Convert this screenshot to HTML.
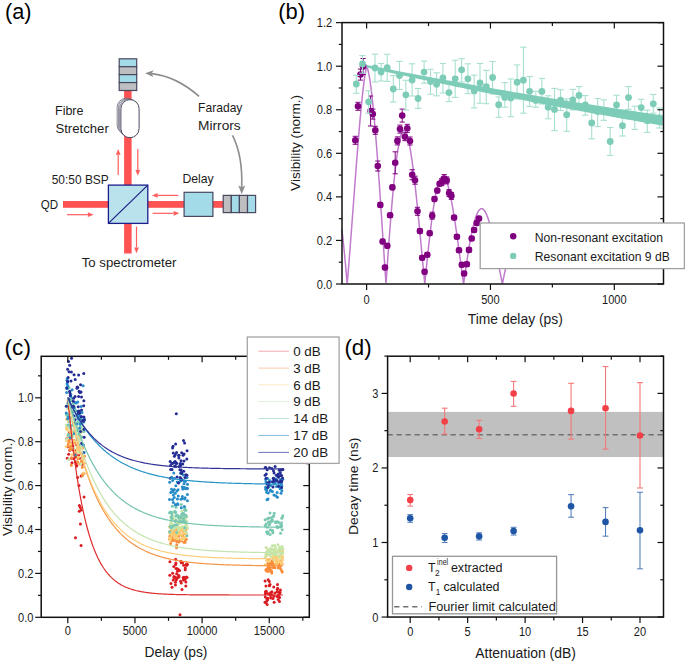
<!DOCTYPE html>
<html><head><meta charset="utf-8"><style>
html,body{margin:0;padding:0;background:#fff;}
body{width:685px;height:662px;overflow:hidden;}
svg{display:block;font-family:"Liberation Sans",sans-serif;}
</style></head><body>
<svg width="685" height="662" viewBox="0 0 685 662" style='font-family:"Liberation Sans",sans-serif'>
<rect x="0" y="0" width="685" height="662" fill="#fff"/>
<text x="5.00" y="18.70" font-size="22.4" text-anchor="start" fill="#000" textLength="26.6" lengthAdjust="spacingAndGlyphs" >(a)</text>
<rect x="124.10" y="90.00" width="7.50" height="163.50" fill="rgb(255,82,82)" stroke="none" stroke-width="1" />
<rect x="63.00" y="201.00" width="160.50" height="6.80" fill="rgb(255,82,82)" stroke="none" stroke-width="1" />
<rect x="119.20" y="58.80" width="17.50" height="7.93" fill="rgb(163,219,232)" stroke="rgb(72,72,96)" stroke-width="1.2" />
<rect x="119.20" y="66.72" width="17.50" height="7.93" fill="rgb(190,190,192)" stroke="rgb(72,72,96)" stroke-width="1.2" />
<rect x="119.20" y="74.65" width="17.50" height="7.93" fill="rgb(163,219,232)" stroke="rgb(72,72,96)" stroke-width="1.2" />
<rect x="119.20" y="82.58" width="17.50" height="7.93" fill="rgb(190,190,192)" stroke="rgb(72,72,96)" stroke-width="1.2" />
<rect x="117.15" y="98.25" width="18.20" height="35.85" fill="white" stroke="rgb(96,96,118)" stroke-width="0.75" rx="9.1" ry="9.1"/>
<rect x="118.40" y="98.70" width="18.20" height="36.60" fill="white" stroke="rgb(96,96,118)" stroke-width="0.75" rx="9.1" ry="9.1"/>
<rect x="119.65" y="99.15" width="18.20" height="37.35" fill="white" stroke="rgb(96,96,118)" stroke-width="0.75" rx="9.1" ry="9.1"/>
<rect x="120.90" y="99.60" width="18.20" height="38.10" fill="white" stroke="rgb(72,72,96)" stroke-width="1.0" rx="9.1" ry="9.1"/>
<rect x="108.40" y="185.10" width="39.40" height="38.30" fill="rgb(186,226,236)" stroke="rgb(28,30,140)" stroke-width="1.3" />
<line x1="108.40" y1="223.40" x2="147.80" y2="185.10" stroke="rgb(28,30,140)" stroke-width="1.2" />
<rect x="184.10" y="192.30" width="28.80" height="24.10" fill="rgb(163,219,232)" stroke="rgb(72,72,96)" stroke-width="1.2" />
<rect x="223.20" y="195.40" width="8.10" height="17.20" fill="rgb(190,190,192)" stroke="rgb(72,72,96)" stroke-width="1.2" />
<rect x="231.30" y="195.40" width="8.10" height="17.20" fill="rgb(163,219,232)" stroke="rgb(72,72,96)" stroke-width="1.2" />
<rect x="239.40" y="195.40" width="8.10" height="17.20" fill="rgb(190,190,192)" stroke="rgb(72,72,96)" stroke-width="1.2" />
<rect x="247.50" y="195.40" width="8.10" height="17.20" fill="rgb(163,219,232)" stroke="rgb(72,72,96)" stroke-width="1.2" />
<line x1="118.20" y1="175.00" x2="118.20" y2="154.80" stroke="rgb(255,95,95)" stroke-width="1.2" />
<polygon points="118.20,149.00 120.60,154.80 115.80,154.80" fill="rgb(255,95,95)"/>
<line x1="137.80" y1="149.00" x2="137.80" y2="169.90" stroke="rgb(255,95,95)" stroke-width="1.2" />
<polygon points="137.80,175.70 135.40,169.90 140.20,169.90" fill="rgb(255,95,95)"/>
<line x1="67.00" y1="214.70" x2="87.80" y2="214.70" stroke="rgb(255,95,95)" stroke-width="1.2" />
<polygon points="93.60,214.70 87.80,217.10 87.80,212.30" fill="rgb(255,95,95)"/>
<line x1="178.20" y1="195.40" x2="157.70" y2="195.40" stroke="rgb(255,95,95)" stroke-width="1.2" />
<polygon points="151.90,195.40 157.70,193.00 157.70,197.80" fill="rgb(255,95,95)"/>
<line x1="152.60" y1="213.30" x2="173.60" y2="213.30" stroke="rgb(255,95,95)" stroke-width="1.2" />
<polygon points="179.40,213.30 173.60,215.70 173.60,210.90" fill="rgb(255,95,95)"/>
<line x1="136.50" y1="226.60" x2="136.50" y2="247.40" stroke="rgb(255,95,95)" stroke-width="1.2" />
<polygon points="136.50,253.20 134.10,247.40 138.90,247.40" fill="rgb(255,95,95)"/>
<path d="M199.1,96.3 C185,84 170,75.5 151.5,73.6" stroke="rgb(140,140,140)" stroke-width="1.6" fill="none" />
<polygon points="145.1,73.3 153.6,70.2 151.6,73.6 153.3,77.0" fill="rgb(140,140,140)"/>
<path d="M232.5,135.3 C240,150 242.5,165 241.7,187" stroke="rgb(140,140,140)" stroke-width="1.6" fill="none" />
<polygon points="241.7,194.2 238.3,185.4 241.7,187.3 245.2,185.4" fill="rgb(140,140,140)"/>
<text x="55.00" y="114.70" font-size="12.6" text-anchor="start" fill="#1c1c1c" textLength="28.5" lengthAdjust="spacingAndGlyphs" >Fibre</text>
<text x="55.40" y="132.60" font-size="12.6" text-anchor="start" fill="#1c1c1c" textLength="53.4" lengthAdjust="spacingAndGlyphs" >Stretcher</text>
<text x="198.10" y="112.00" font-size="12.6" text-anchor="start" fill="#1c1c1c" textLength="44.3" lengthAdjust="spacingAndGlyphs" >Faraday</text>
<text x="198.10" y="129.50" font-size="12.6" text-anchor="start" fill="#1c1c1c" textLength="42.6" lengthAdjust="spacingAndGlyphs" >Mirrors</text>
<text x="51.70" y="184.10" font-size="12.6" text-anchor="start" fill="#1c1c1c" textLength="57.1" lengthAdjust="spacingAndGlyphs" >50:50 BSP</text>
<text x="40.80" y="209.00" font-size="12.6" text-anchor="start" fill="#1c1c1c" textLength="17.4" lengthAdjust="spacingAndGlyphs" >QD</text>
<text x="182.40" y="182.80" font-size="12.6" text-anchor="start" fill="#1c1c1c" textLength="31.3" lengthAdjust="spacingAndGlyphs" >Delay</text>
<text x="81.70" y="267.20" font-size="12.6" text-anchor="start" fill="#1c1c1c" textLength="94.8" lengthAdjust="spacingAndGlyphs" >To spectrometer</text>
<text x="278.30" y="18.70" font-size="22.4" text-anchor="start" fill="#000" textLength="26.8" lengthAdjust="spacingAndGlyphs" >(b)</text>
<polyline points="341.83,228.86 342.08,230.98 342.33,233.14 342.57,235.35 342.82,237.60 343.07,239.90 343.32,242.23 343.56,244.61 343.81,247.03 344.06,249.50 344.31,252.00 344.55,254.54 344.80,257.12 345.05,259.74 345.30,262.39 345.55,265.08 345.79,267.81 346.04,270.57 346.29,273.37 346.54,276.20 346.78,279.06 347.03,281.96 347.28,283.12 347.53,280.17 347.77,277.18 348.02,274.17 348.27,271.14 348.52,268.07 348.77,264.99 349.01,261.88 349.26,258.74 349.51,255.59 349.76,252.41 350.00,249.22 350.25,246.01 350.50,242.78 350.75,239.54 350.99,236.28 351.24,233.01 351.49,229.73 351.74,226.44 351.99,223.14 352.23,219.83 352.48,216.52 352.73,213.20 352.98,209.87 353.22,206.55 353.47,203.22 353.72,199.90 353.97,196.57 354.22,193.25 354.46,189.94 354.71,186.63 354.96,183.33 355.21,180.04 355.45,176.76 355.70,173.49 355.95,170.24 356.20,167.00 356.44,163.78 356.69,160.58 356.94,157.40 357.19,154.24 357.44,151.11 357.68,148.00 357.93,144.91 358.18,141.86 358.43,138.83 358.67,135.84 358.92,132.87 359.17,129.95 359.42,127.06 359.66,124.21 359.91,121.39 360.16,118.62 360.41,115.89 360.66,113.21 360.90,110.57 361.15,107.98 361.40,105.44 361.65,102.95 361.89,100.51 362.14,98.12 362.39,95.80 362.64,93.53 362.88,91.31 363.13,89.16 363.38,87.07 363.63,85.04 363.88,83.08 364.12,81.18 364.37,79.36 364.62,77.60 364.87,75.91 365.11,74.29 365.36,72.75 365.61,71.29 365.86,69.90 366.10,68.58 366.35,67.35 366.60,66.20 366.85,66.74 367.10,67.36 367.34,68.07 367.59,68.87 367.84,69.74 368.09,70.70 368.33,71.75 368.58,72.87 368.83,74.08 369.08,75.36 369.32,76.73 369.57,78.17 369.82,79.69 370.07,81.29 370.32,82.96 370.56,84.70 370.81,86.52 371.06,88.41 371.31,90.38 371.55,92.41 371.80,94.51 372.05,96.67 372.30,98.91 372.54,101.21 372.79,103.57 373.04,106.00 373.29,108.48 373.54,111.03 373.78,113.64 374.03,116.30 374.28,119.02 374.53,121.80 374.77,124.62 375.02,127.50 375.27,130.43 375.52,133.41 375.76,136.44 376.01,139.51 376.26,142.63 376.51,145.79 376.76,149.00 377.00,152.24 377.25,155.52 377.50,158.84 377.75,162.20 377.99,165.59 378.24,169.01 378.49,172.47 378.74,175.95 378.99,179.46 379.23,183.00 379.48,186.57 379.73,190.15 379.98,193.76 380.22,197.39 380.47,201.04 380.72,204.71 380.97,208.39 381.21,212.08 381.46,215.79 381.71,219.51 381.96,223.24 382.21,226.97 382.45,230.71 382.70,234.46 382.95,238.21 383.20,241.96 383.44,245.71 383.69,249.46 383.94,253.21 384.19,256.95 384.43,260.69 384.68,264.42 384.93,268.14 385.18,271.85 385.43,275.55 385.67,279.23 385.92,282.90 386.17,281.44 386.42,277.81 386.66,274.19 386.91,270.59 387.16,267.02 387.41,263.47 387.65,259.94 387.90,256.44 388.15,252.96 388.40,249.52 388.65,246.10 388.89,242.72 389.14,239.36 389.39,236.04 389.64,232.76 389.88,229.51 390.13,226.30 390.38,223.12 390.63,219.99 390.87,216.89 391.12,213.84 391.37,210.82 391.62,207.86 391.87,204.93 392.11,202.05 392.36,199.22 392.61,196.44 392.86,193.70 393.10,191.01 393.35,188.38 393.60,185.79 393.85,183.25 394.09,180.77 394.34,178.34 394.59,175.97 394.84,173.65 395.09,171.38 395.33,169.17 395.58,167.02 395.83,164.93 396.08,162.89 396.32,160.91 396.57,158.99 396.82,157.13 397.07,155.33 397.31,153.59 397.56,151.91 397.81,150.30 398.06,148.74 398.31,147.25 398.55,145.82 398.80,144.45 399.05,143.14 399.30,141.90 399.54,140.72 399.79,139.61 400.04,138.56 400.29,137.57 400.53,136.65 400.78,135.79 401.03,134.99 401.28,134.26 401.53,133.60 401.77,132.99 402.02,132.45 402.27,131.98 402.52,131.57 402.76,131.22 403.01,130.94 403.26,130.72 403.51,130.57 403.75,130.47 404.00,130.44 404.25,130.48 404.50,130.57 404.75,130.73 404.99,130.95 405.24,131.23 405.49,131.57 405.74,131.97 405.98,132.43 406.23,132.95 406.48,133.53 406.73,134.17 406.98,134.86 407.22,135.62 407.47,136.43 407.72,137.30 407.97,138.22 408.21,139.20 408.46,140.23 408.71,141.32 408.96,142.45 409.20,143.65 409.45,144.89 409.70,146.18 409.95,147.53 410.20,148.92 410.44,150.36 410.69,151.86 410.94,153.39 411.19,154.98 411.43,156.60 411.68,158.28 411.93,159.99 412.18,161.75 412.42,163.55 412.67,165.40 412.92,167.28 413.17,169.20 413.42,171.16 413.66,173.15 413.91,175.18 414.16,177.25 414.41,179.35 414.65,181.49 414.90,183.65 415.15,185.85 415.40,188.08 415.64,190.33 415.89,192.61 416.14,194.93 416.39,197.26 416.64,199.62 416.88,202.01 417.13,204.41 417.38,206.84 417.63,209.29 417.87,211.76 418.12,214.24 418.37,216.75 418.62,219.27 418.86,221.80 419.11,224.35 419.36,226.91 419.61,229.48 419.86,232.07 420.10,234.66 420.35,237.26 420.60,239.87 420.85,242.48 421.09,245.10 421.34,247.72 421.59,250.35 421.84,252.97 422.08,255.60 422.33,258.23 422.58,260.86 422.83,263.48 423.08,266.10 423.32,268.72 423.57,271.33 423.82,273.93 424.07,276.53 424.31,279.11 424.56,281.69 424.81,283.74 425.06,281.19 425.30,278.65 425.55,276.12 425.80,273.61 426.05,271.11 426.30,268.63 426.54,266.16 426.79,263.72 427.04,261.29 427.29,258.88 427.53,256.50 427.78,254.14 428.03,251.80 428.28,249.48 428.53,247.19 428.77,244.92 429.02,242.68 429.27,240.47 429.52,238.28 429.76,236.13 430.01,234.00 430.26,231.90 430.51,229.84 430.75,227.80 431.00,225.80 431.25,223.83 431.50,221.89 431.75,219.98 431.99,218.12 432.24,216.28 432.49,214.49 432.74,212.72 432.98,211.00 433.23,209.31 433.48,207.67 433.73,206.06 433.97,204.48 434.22,202.95 434.47,201.46 434.72,200.01 434.97,198.60 435.21,197.23 435.46,195.90 435.71,194.62 435.96,193.37 436.20,192.17 436.45,191.01 436.70,189.90 436.95,188.82 437.19,187.79 437.44,186.81 437.69,185.87 437.94,184.97 438.19,184.12 438.43,183.31 438.68,182.55 438.93,181.83 439.18,181.16 439.42,180.53 439.67,179.94 439.92,179.40 440.17,178.91 440.41,178.46 440.66,178.06 440.91,177.70 441.16,177.38 441.41,177.11 441.65,176.89 441.90,176.71 442.15,176.57 442.40,176.48 442.64,176.44 442.89,176.43 443.14,176.47 443.39,176.56 443.63,176.68 443.88,176.85 444.13,177.07 444.38,177.32 444.63,177.62 444.87,177.96 445.12,178.34 445.37,178.76 445.62,179.23 445.86,179.73 446.11,180.28 446.36,180.86 446.61,181.48 446.85,182.14 447.10,182.84 447.35,183.58 447.60,184.36 447.85,185.17 448.09,186.02 448.34,186.91 448.59,187.83 448.84,188.78 449.08,189.77 449.33,190.80 449.58,191.85 449.83,192.94 450.07,194.07 450.32,195.22 450.57,196.40 450.82,197.62 451.07,198.86 451.31,200.14 451.56,201.44 451.81,202.77 452.06,204.12 452.30,205.51 452.55,206.91 452.80,208.35 453.05,209.80 453.30,211.29 453.54,212.79 453.79,214.32 454.04,215.86 454.29,217.43 454.53,219.02 454.78,220.63 455.03,222.25 455.28,223.90 455.52,225.56 455.77,227.23 456.02,228.93 456.27,230.63 456.52,232.35 456.76,234.09 457.01,235.83 457.26,237.59 457.51,239.36 457.75,241.14 458.00,242.93 458.25,244.73 458.50,246.53 458.74,248.34 458.99,250.16 459.24,251.99 459.49,253.81 459.74,255.65 459.98,257.48 460.23,259.32 460.48,261.16 460.73,263.00 460.97,264.84 461.22,266.68 461.47,268.52 461.72,270.36 461.96,272.19 462.21,274.03 462.46,275.85 462.71,277.67 462.96,279.49 463.20,281.30 463.45,283.10 463.70,283.10 463.95,281.32 464.19,279.54 464.44,277.77 464.69,276.02 464.94,274.27 465.18,272.54 465.43,270.82 465.68,269.11 465.93,267.42 466.18,265.74 466.42,264.07 466.67,262.42 466.92,260.79 467.17,259.17 467.41,257.58 467.66,256.00 467.91,254.43 468.16,252.89 468.40,251.37 468.65,249.86 468.90,248.38 469.15,246.92 469.40,245.48 469.64,244.07 469.89,242.67 470.14,241.30 470.39,239.95 470.63,238.63 470.88,237.33 471.13,236.06 471.38,234.81 471.62,233.58 471.87,232.39 472.12,231.21 472.37,230.07 472.62,228.95 472.86,227.86 473.11,226.80 473.36,225.77 473.61,224.76 473.85,223.79 474.10,222.84 474.35,221.92 474.60,221.03 474.84,220.17 475.09,219.34 475.34,218.54 475.59,217.77 475.84,217.03 476.08,216.33 476.33,215.65 476.58,215.00 476.83,214.38 477.07,213.80 477.32,213.25 477.57,212.72 477.82,212.23 478.07,211.77 478.31,211.35 478.56,210.95 478.81,210.58 479.06,210.25 479.30,209.95 479.55,209.68 479.80,209.44 480.05,209.23 480.29,209.06 480.54,208.91 480.79,208.80 481.04,208.71 481.29,208.66 481.53,208.64 481.78,208.65 482.03,208.69 482.28,208.76 482.52,208.86 482.77,209.00 483.02,209.16 483.27,209.35 483.51,209.57 483.76,209.82 484.01,210.10 484.26,210.40 484.51,210.74 484.75,211.11 485.00,211.50 485.25,211.92 485.50,212.36 485.74,212.84 485.99,213.34 486.24,213.87 486.49,214.42 486.73,215.00 486.98,215.61 487.23,216.24 487.48,216.89 487.73,217.57 487.97,218.27 488.22,219.00 488.47,219.75 488.72,220.52 488.96,221.32 489.21,222.14 489.46,222.97 489.71,223.83 489.95,224.71 490.20,225.61 490.45,226.53 490.70,227.47 490.95,228.43 491.19,229.40 491.44,230.40 491.69,231.41 491.94,232.44 492.18,233.48 492.43,234.54 492.68,235.62 492.93,236.71 493.17,237.81 493.42,238.93 493.67,240.06 493.92,241.20 494.17,242.36 494.41,243.53 494.66,244.71 494.91,245.90 495.16,247.10 495.40,248.30 495.65,249.52 495.90,250.75 496.15,251.98 496.39,253.23 496.64,254.48 496.89,255.73 497.14,256.99 497.39,258.26 497.63,259.53 497.88,260.81 498.13,262.08 498.38,263.37 498.62,264.65 498.87,265.94 499.12,267.23 499.37,268.52 499.61,269.81 499.86,271.10 500.11,272.38 500.36,273.67 500.61,274.96 500.85,276.24 501.10,277.52 501.35,278.80 501.60,280.08 501.84,281.35 502.09,282.61 502.34,283.87 502.59,282.87 502.84,281.62 503.08,280.38 503.33,279.14 503.58,277.92 503.83,276.70 504.07,275.49 504.32,274.29 504.57,273.09 504.82,271.91 505.06,270.74 505.31,269.58 505.56,268.43 505.81,267.29 506.06,266.16 506.30,265.04 506.55,263.94 506.80,262.85 507.05,261.78 507.29,260.72 507.54,259.67 507.79,258.64 508.04,257.62 508.28,256.62 508.53,255.63 508.78,254.66 509.03,253.71 509.28,252.77 509.52,251.85 509.77,250.95 510.02,250.06 510.27,249.19 510.51,248.34 510.76,247.51 511.01,246.70 511.26,245.90 511.50,245.13 511.75,244.37 512.00,243.64 512.25,242.92 512.50,242.23 512.74,241.55 512.99,240.89 513.24,240.26 513.49,239.64 513.73,239.05 513.98,238.48 514.23,237.93 514.48,237.40 514.72,236.89 514.97,236.40 515.22,235.93" fill="none" stroke="rgb(192,122,204)" stroke-width="1.5"/>
<line x1="355.30" y1="136.30" x2="355.30" y2="144.30" stroke="rgb(128,0,128)" stroke-width="1" />
<line x1="352.70" y1="136.30" x2="357.90" y2="136.30" stroke="rgb(128,0,128)" stroke-width="1" />
<line x1="352.70" y1="144.30" x2="357.90" y2="144.30" stroke="rgb(128,0,128)" stroke-width="1" />
<line x1="358.00" y1="102.30" x2="358.00" y2="110.30" stroke="rgb(128,0,128)" stroke-width="1" />
<line x1="355.40" y1="102.30" x2="360.60" y2="102.30" stroke="rgb(128,0,128)" stroke-width="1" />
<line x1="355.40" y1="110.30" x2="360.60" y2="110.30" stroke="rgb(128,0,128)" stroke-width="1" />
<line x1="360.50" y1="69.10" x2="360.50" y2="80.10" stroke="rgb(128,0,128)" stroke-width="1" />
<line x1="357.90" y1="69.10" x2="363.10" y2="69.10" stroke="rgb(128,0,128)" stroke-width="1" />
<line x1="357.90" y1="80.10" x2="363.10" y2="80.10" stroke="rgb(128,0,128)" stroke-width="1" />
<line x1="363.10" y1="58.50" x2="363.10" y2="74.50" stroke="rgb(128,0,128)" stroke-width="1" />
<line x1="360.50" y1="58.50" x2="365.70" y2="58.50" stroke="rgb(128,0,128)" stroke-width="1" />
<line x1="360.50" y1="74.50" x2="365.70" y2="74.50" stroke="rgb(128,0,128)" stroke-width="1" />
<line x1="370.60" y1="96.00" x2="370.60" y2="126.00" stroke="rgb(128,0,128)" stroke-width="1" />
<line x1="368.00" y1="96.00" x2="373.20" y2="96.00" stroke="rgb(128,0,128)" stroke-width="1" />
<line x1="368.00" y1="126.00" x2="373.20" y2="126.00" stroke="rgb(128,0,128)" stroke-width="1" />
<line x1="372.80" y1="109.10" x2="372.80" y2="119.10" stroke="rgb(128,0,128)" stroke-width="1" />
<line x1="370.20" y1="109.10" x2="375.40" y2="109.10" stroke="rgb(128,0,128)" stroke-width="1" />
<line x1="370.20" y1="119.10" x2="375.40" y2="119.10" stroke="rgb(128,0,128)" stroke-width="1" />
<line x1="375.30" y1="126.30" x2="375.30" y2="134.30" stroke="rgb(128,0,128)" stroke-width="1" />
<line x1="372.70" y1="126.30" x2="377.90" y2="126.30" stroke="rgb(128,0,128)" stroke-width="1" />
<line x1="372.70" y1="134.30" x2="377.90" y2="134.30" stroke="rgb(128,0,128)" stroke-width="1" />
<line x1="377.80" y1="161.00" x2="377.80" y2="171.00" stroke="rgb(128,0,128)" stroke-width="1" />
<line x1="375.20" y1="161.00" x2="380.40" y2="161.00" stroke="rgb(128,0,128)" stroke-width="1" />
<line x1="375.20" y1="171.00" x2="380.40" y2="171.00" stroke="rgb(128,0,128)" stroke-width="1" />
<line x1="380.30" y1="202.70" x2="380.30" y2="207.10" stroke="rgb(128,0,128)" stroke-width="1" />
<line x1="377.70" y1="202.70" x2="382.90" y2="202.70" stroke="rgb(128,0,128)" stroke-width="1" />
<line x1="377.70" y1="207.10" x2="382.90" y2="207.10" stroke="rgb(128,0,128)" stroke-width="1" />
<line x1="382.60" y1="239.30" x2="382.60" y2="243.70" stroke="rgb(128,0,128)" stroke-width="1" />
<line x1="380.00" y1="239.30" x2="385.20" y2="239.30" stroke="rgb(128,0,128)" stroke-width="1" />
<line x1="380.00" y1="243.70" x2="385.20" y2="243.70" stroke="rgb(128,0,128)" stroke-width="1" />
<line x1="385.00" y1="265.30" x2="385.00" y2="269.70" stroke="rgb(128,0,128)" stroke-width="1" />
<line x1="382.40" y1="265.30" x2="387.60" y2="265.30" stroke="rgb(128,0,128)" stroke-width="1" />
<line x1="382.40" y1="269.70" x2="387.60" y2="269.70" stroke="rgb(128,0,128)" stroke-width="1" />
<line x1="387.30" y1="243.60" x2="387.30" y2="248.00" stroke="rgb(128,0,128)" stroke-width="1" />
<line x1="384.70" y1="243.60" x2="389.90" y2="243.60" stroke="rgb(128,0,128)" stroke-width="1" />
<line x1="384.70" y1="248.00" x2="389.90" y2="248.00" stroke="rgb(128,0,128)" stroke-width="1" />
<line x1="390.10" y1="213.10" x2="390.10" y2="217.50" stroke="rgb(128,0,128)" stroke-width="1" />
<line x1="387.50" y1="213.10" x2="392.70" y2="213.10" stroke="rgb(128,0,128)" stroke-width="1" />
<line x1="387.50" y1="217.50" x2="392.70" y2="217.50" stroke="rgb(128,0,128)" stroke-width="1" />
<line x1="392.40" y1="185.20" x2="392.40" y2="189.60" stroke="rgb(128,0,128)" stroke-width="1" />
<line x1="389.80" y1="185.20" x2="395.00" y2="185.20" stroke="rgb(128,0,128)" stroke-width="1" />
<line x1="389.80" y1="189.60" x2="395.00" y2="189.60" stroke="rgb(128,0,128)" stroke-width="1" />
<line x1="395.20" y1="151.80" x2="395.20" y2="173.80" stroke="rgb(128,0,128)" stroke-width="1" />
<line x1="392.60" y1="151.80" x2="397.80" y2="151.80" stroke="rgb(128,0,128)" stroke-width="1" />
<line x1="392.60" y1="173.80" x2="397.80" y2="173.80" stroke="rgb(128,0,128)" stroke-width="1" />
<line x1="397.40" y1="136.90" x2="397.40" y2="144.90" stroke="rgb(128,0,128)" stroke-width="1" />
<line x1="394.80" y1="136.90" x2="400.00" y2="136.90" stroke="rgb(128,0,128)" stroke-width="1" />
<line x1="394.80" y1="144.90" x2="400.00" y2="144.90" stroke="rgb(128,0,128)" stroke-width="1" />
<line x1="400.00" y1="125.10" x2="400.00" y2="133.10" stroke="rgb(128,0,128)" stroke-width="1" />
<line x1="397.40" y1="125.10" x2="402.60" y2="125.10" stroke="rgb(128,0,128)" stroke-width="1" />
<line x1="397.40" y1="133.10" x2="402.60" y2="133.10" stroke="rgb(128,0,128)" stroke-width="1" />
<line x1="402.20" y1="109.10" x2="402.20" y2="122.10" stroke="rgb(128,0,128)" stroke-width="1" />
<line x1="399.60" y1="109.10" x2="404.80" y2="109.10" stroke="rgb(128,0,128)" stroke-width="1" />
<line x1="399.60" y1="122.10" x2="404.80" y2="122.10" stroke="rgb(128,0,128)" stroke-width="1" />
<line x1="404.90" y1="132.70" x2="404.90" y2="140.70" stroke="rgb(128,0,128)" stroke-width="1" />
<line x1="402.30" y1="132.70" x2="407.50" y2="132.70" stroke="rgb(128,0,128)" stroke-width="1" />
<line x1="402.30" y1="140.70" x2="407.50" y2="140.70" stroke="rgb(128,0,128)" stroke-width="1" />
<line x1="407.30" y1="124.30" x2="407.30" y2="132.30" stroke="rgb(128,0,128)" stroke-width="1" />
<line x1="404.70" y1="124.30" x2="409.90" y2="124.30" stroke="rgb(128,0,128)" stroke-width="1" />
<line x1="404.70" y1="132.30" x2="409.90" y2="132.30" stroke="rgb(128,0,128)" stroke-width="1" />
<line x1="410.00" y1="137.00" x2="410.00" y2="145.00" stroke="rgb(128,0,128)" stroke-width="1" />
<line x1="407.40" y1="137.00" x2="412.60" y2="137.00" stroke="rgb(128,0,128)" stroke-width="1" />
<line x1="407.40" y1="145.00" x2="412.60" y2="145.00" stroke="rgb(128,0,128)" stroke-width="1" />
<line x1="412.20" y1="169.70" x2="412.20" y2="179.70" stroke="rgb(128,0,128)" stroke-width="1" />
<line x1="409.60" y1="169.70" x2="414.80" y2="169.70" stroke="rgb(128,0,128)" stroke-width="1" />
<line x1="409.60" y1="179.70" x2="414.80" y2="179.70" stroke="rgb(128,0,128)" stroke-width="1" />
<line x1="415.00" y1="176.20" x2="415.00" y2="184.20" stroke="rgb(128,0,128)" stroke-width="1" />
<line x1="412.40" y1="176.20" x2="417.60" y2="176.20" stroke="rgb(128,0,128)" stroke-width="1" />
<line x1="412.40" y1="184.20" x2="417.60" y2="184.20" stroke="rgb(128,0,128)" stroke-width="1" />
<line x1="417.50" y1="207.30" x2="417.50" y2="215.30" stroke="rgb(128,0,128)" stroke-width="1" />
<line x1="414.90" y1="207.30" x2="420.10" y2="207.30" stroke="rgb(128,0,128)" stroke-width="1" />
<line x1="414.90" y1="215.30" x2="420.10" y2="215.30" stroke="rgb(128,0,128)" stroke-width="1" />
<line x1="419.90" y1="228.90" x2="419.90" y2="233.30" stroke="rgb(128,0,128)" stroke-width="1" />
<line x1="417.30" y1="228.90" x2="422.50" y2="228.90" stroke="rgb(128,0,128)" stroke-width="1" />
<line x1="417.30" y1="233.30" x2="422.50" y2="233.30" stroke="rgb(128,0,128)" stroke-width="1" />
<line x1="422.20" y1="255.50" x2="422.20" y2="259.90" stroke="rgb(128,0,128)" stroke-width="1" />
<line x1="419.60" y1="255.50" x2="424.80" y2="255.50" stroke="rgb(128,0,128)" stroke-width="1" />
<line x1="419.60" y1="259.90" x2="424.80" y2="259.90" stroke="rgb(128,0,128)" stroke-width="1" />
<line x1="424.60" y1="269.50" x2="424.60" y2="273.90" stroke="rgb(128,0,128)" stroke-width="1" />
<line x1="422.00" y1="269.50" x2="427.20" y2="269.50" stroke="rgb(128,0,128)" stroke-width="1" />
<line x1="422.00" y1="273.90" x2="427.20" y2="273.90" stroke="rgb(128,0,128)" stroke-width="1" />
<line x1="427.30" y1="252.50" x2="427.30" y2="256.90" stroke="rgb(128,0,128)" stroke-width="1" />
<line x1="424.70" y1="252.50" x2="429.90" y2="252.50" stroke="rgb(128,0,128)" stroke-width="1" />
<line x1="424.70" y1="256.90" x2="429.90" y2="256.90" stroke="rgb(128,0,128)" stroke-width="1" />
<line x1="429.70" y1="231.00" x2="429.70" y2="235.40" stroke="rgb(128,0,128)" stroke-width="1" />
<line x1="427.10" y1="231.00" x2="432.30" y2="231.00" stroke="rgb(128,0,128)" stroke-width="1" />
<line x1="427.10" y1="235.40" x2="432.30" y2="235.40" stroke="rgb(128,0,128)" stroke-width="1" />
<line x1="432.20" y1="212.20" x2="432.20" y2="219.20" stroke="rgb(128,0,128)" stroke-width="1" />
<line x1="429.60" y1="212.20" x2="434.80" y2="212.20" stroke="rgb(128,0,128)" stroke-width="1" />
<line x1="429.60" y1="219.20" x2="434.80" y2="219.20" stroke="rgb(128,0,128)" stroke-width="1" />
<line x1="434.50" y1="196.90" x2="434.50" y2="201.30" stroke="rgb(128,0,128)" stroke-width="1" />
<line x1="431.90" y1="196.90" x2="437.10" y2="196.90" stroke="rgb(128,0,128)" stroke-width="1" />
<line x1="431.90" y1="201.30" x2="437.10" y2="201.30" stroke="rgb(128,0,128)" stroke-width="1" />
<line x1="437.30" y1="188.40" x2="437.30" y2="192.80" stroke="rgb(128,0,128)" stroke-width="1" />
<line x1="434.70" y1="188.40" x2="439.90" y2="188.40" stroke="rgb(128,0,128)" stroke-width="1" />
<line x1="434.70" y1="192.80" x2="439.90" y2="192.80" stroke="rgb(128,0,128)" stroke-width="1" />
<line x1="439.60" y1="181.50" x2="439.60" y2="185.90" stroke="rgb(128,0,128)" stroke-width="1" />
<line x1="437.00" y1="181.50" x2="442.20" y2="181.50" stroke="rgb(128,0,128)" stroke-width="1" />
<line x1="437.00" y1="185.90" x2="442.20" y2="185.90" stroke="rgb(128,0,128)" stroke-width="1" />
<line x1="441.80" y1="178.70" x2="441.80" y2="185.70" stroke="rgb(128,0,128)" stroke-width="1" />
<line x1="439.20" y1="178.70" x2="444.40" y2="178.70" stroke="rgb(128,0,128)" stroke-width="1" />
<line x1="439.20" y1="185.70" x2="444.40" y2="185.70" stroke="rgb(128,0,128)" stroke-width="1" />
<line x1="444.20" y1="174.60" x2="444.20" y2="182.60" stroke="rgb(128,0,128)" stroke-width="1" />
<line x1="441.60" y1="174.60" x2="446.80" y2="174.60" stroke="rgb(128,0,128)" stroke-width="1" />
<line x1="441.60" y1="182.60" x2="446.80" y2="182.60" stroke="rgb(128,0,128)" stroke-width="1" />
<line x1="446.70" y1="176.90" x2="446.70" y2="183.90" stroke="rgb(128,0,128)" stroke-width="1" />
<line x1="444.10" y1="176.90" x2="449.30" y2="176.90" stroke="rgb(128,0,128)" stroke-width="1" />
<line x1="444.10" y1="183.90" x2="449.30" y2="183.90" stroke="rgb(128,0,128)" stroke-width="1" />
<line x1="449.10" y1="189.60" x2="449.10" y2="196.60" stroke="rgb(128,0,128)" stroke-width="1" />
<line x1="446.50" y1="189.60" x2="451.70" y2="189.60" stroke="rgb(128,0,128)" stroke-width="1" />
<line x1="446.50" y1="196.60" x2="451.70" y2="196.60" stroke="rgb(128,0,128)" stroke-width="1" />
<line x1="451.40" y1="192.40" x2="451.40" y2="199.40" stroke="rgb(128,0,128)" stroke-width="1" />
<line x1="448.80" y1="192.40" x2="454.00" y2="192.40" stroke="rgb(128,0,128)" stroke-width="1" />
<line x1="448.80" y1="199.40" x2="454.00" y2="199.40" stroke="rgb(128,0,128)" stroke-width="1" />
<line x1="454.10" y1="215.40" x2="454.10" y2="219.80" stroke="rgb(128,0,128)" stroke-width="1" />
<line x1="451.50" y1="215.40" x2="456.70" y2="215.40" stroke="rgb(128,0,128)" stroke-width="1" />
<line x1="451.50" y1="219.80" x2="456.70" y2="219.80" stroke="rgb(128,0,128)" stroke-width="1" />
<line x1="456.90" y1="234.50" x2="456.90" y2="238.90" stroke="rgb(128,0,128)" stroke-width="1" />
<line x1="454.30" y1="234.50" x2="459.50" y2="234.50" stroke="rgb(128,0,128)" stroke-width="1" />
<line x1="454.30" y1="238.90" x2="459.50" y2="238.90" stroke="rgb(128,0,128)" stroke-width="1" />
<line x1="459.00" y1="248.10" x2="459.00" y2="252.50" stroke="rgb(128,0,128)" stroke-width="1" />
<line x1="456.40" y1="248.10" x2="461.60" y2="248.10" stroke="rgb(128,0,128)" stroke-width="1" />
<line x1="456.40" y1="252.50" x2="461.60" y2="252.50" stroke="rgb(128,0,128)" stroke-width="1" />
<line x1="461.80" y1="262.60" x2="461.80" y2="267.00" stroke="rgb(128,0,128)" stroke-width="1" />
<line x1="459.20" y1="262.60" x2="464.40" y2="262.60" stroke="rgb(128,0,128)" stroke-width="1" />
<line x1="459.20" y1="267.00" x2="464.40" y2="267.00" stroke="rgb(128,0,128)" stroke-width="1" />
<line x1="464.10" y1="271.30" x2="464.10" y2="275.70" stroke="rgb(128,0,128)" stroke-width="1" />
<line x1="461.50" y1="271.30" x2="466.70" y2="271.30" stroke="rgb(128,0,128)" stroke-width="1" />
<line x1="461.50" y1="275.70" x2="466.70" y2="275.70" stroke="rgb(128,0,128)" stroke-width="1" />
<line x1="466.80" y1="262.10" x2="466.80" y2="266.50" stroke="rgb(128,0,128)" stroke-width="1" />
<line x1="464.20" y1="262.10" x2="469.40" y2="262.10" stroke="rgb(128,0,128)" stroke-width="1" />
<line x1="464.20" y1="266.50" x2="469.40" y2="266.50" stroke="rgb(128,0,128)" stroke-width="1" />
<line x1="469.00" y1="247.70" x2="469.00" y2="252.10" stroke="rgb(128,0,128)" stroke-width="1" />
<line x1="466.40" y1="247.70" x2="471.60" y2="247.70" stroke="rgb(128,0,128)" stroke-width="1" />
<line x1="466.40" y1="252.10" x2="471.60" y2="252.10" stroke="rgb(128,0,128)" stroke-width="1" />
<line x1="471.70" y1="236.30" x2="471.70" y2="240.70" stroke="rgb(128,0,128)" stroke-width="1" />
<line x1="469.10" y1="236.30" x2="474.30" y2="236.30" stroke="rgb(128,0,128)" stroke-width="1" />
<line x1="469.10" y1="240.70" x2="474.30" y2="240.70" stroke="rgb(128,0,128)" stroke-width="1" />
<line x1="474.10" y1="227.80" x2="474.10" y2="232.20" stroke="rgb(128,0,128)" stroke-width="1" />
<line x1="471.50" y1="227.80" x2="476.70" y2="227.80" stroke="rgb(128,0,128)" stroke-width="1" />
<line x1="471.50" y1="232.20" x2="476.70" y2="232.20" stroke="rgb(128,0,128)" stroke-width="1" />
<line x1="476.80" y1="220.90" x2="476.80" y2="225.30" stroke="rgb(128,0,128)" stroke-width="1" />
<line x1="474.20" y1="220.90" x2="479.40" y2="220.90" stroke="rgb(128,0,128)" stroke-width="1" />
<line x1="474.20" y1="225.30" x2="479.40" y2="225.30" stroke="rgb(128,0,128)" stroke-width="1" />
<line x1="479.00" y1="216.30" x2="479.00" y2="220.70" stroke="rgb(128,0,128)" stroke-width="1" />
<line x1="476.40" y1="216.30" x2="481.60" y2="216.30" stroke="rgb(128,0,128)" stroke-width="1" />
<line x1="476.40" y1="220.70" x2="481.60" y2="220.70" stroke="rgb(128,0,128)" stroke-width="1" />
<circle cx="355.30" cy="140.30" r="3.3" fill="rgb(128,0,128)"/>
<circle cx="358.00" cy="106.30" r="3.3" fill="rgb(128,0,128)"/>
<circle cx="360.50" cy="74.60" r="3.3" fill="rgb(128,0,128)"/>
<circle cx="363.10" cy="66.50" r="3.3" fill="rgb(128,0,128)"/>
<circle cx="370.60" cy="111.00" r="3.3" fill="rgb(128,0,128)"/>
<circle cx="372.80" cy="114.10" r="3.3" fill="rgb(128,0,128)"/>
<circle cx="375.30" cy="130.30" r="3.3" fill="rgb(128,0,128)"/>
<circle cx="377.80" cy="166.00" r="3.3" fill="rgb(128,0,128)"/>
<circle cx="380.30" cy="204.90" r="3.3" fill="rgb(128,0,128)"/>
<circle cx="382.60" cy="241.50" r="3.3" fill="rgb(128,0,128)"/>
<circle cx="385.00" cy="267.50" r="3.3" fill="rgb(128,0,128)"/>
<circle cx="387.30" cy="245.80" r="3.3" fill="rgb(128,0,128)"/>
<circle cx="390.10" cy="215.30" r="3.3" fill="rgb(128,0,128)"/>
<circle cx="392.40" cy="187.40" r="3.3" fill="rgb(128,0,128)"/>
<circle cx="395.20" cy="162.80" r="3.3" fill="rgb(128,0,128)"/>
<circle cx="397.40" cy="140.90" r="3.3" fill="rgb(128,0,128)"/>
<circle cx="400.00" cy="129.10" r="3.3" fill="rgb(128,0,128)"/>
<circle cx="402.20" cy="115.60" r="3.3" fill="rgb(128,0,128)"/>
<circle cx="404.90" cy="136.70" r="3.3" fill="rgb(128,0,128)"/>
<circle cx="407.30" cy="128.30" r="3.3" fill="rgb(128,0,128)"/>
<circle cx="410.00" cy="141.00" r="3.3" fill="rgb(128,0,128)"/>
<circle cx="412.20" cy="174.70" r="3.3" fill="rgb(128,0,128)"/>
<circle cx="415.00" cy="180.20" r="3.3" fill="rgb(128,0,128)"/>
<circle cx="417.50" cy="211.30" r="3.3" fill="rgb(128,0,128)"/>
<circle cx="419.90" cy="231.10" r="3.3" fill="rgb(128,0,128)"/>
<circle cx="422.20" cy="257.70" r="3.3" fill="rgb(128,0,128)"/>
<circle cx="424.60" cy="271.70" r="3.3" fill="rgb(128,0,128)"/>
<circle cx="427.30" cy="254.70" r="3.3" fill="rgb(128,0,128)"/>
<circle cx="429.70" cy="233.20" r="3.3" fill="rgb(128,0,128)"/>
<circle cx="432.20" cy="215.70" r="3.3" fill="rgb(128,0,128)"/>
<circle cx="434.50" cy="199.10" r="3.3" fill="rgb(128,0,128)"/>
<circle cx="437.30" cy="190.60" r="3.3" fill="rgb(128,0,128)"/>
<circle cx="439.60" cy="183.70" r="3.3" fill="rgb(128,0,128)"/>
<circle cx="441.80" cy="182.20" r="3.3" fill="rgb(128,0,128)"/>
<circle cx="444.20" cy="178.60" r="3.3" fill="rgb(128,0,128)"/>
<circle cx="446.70" cy="180.40" r="3.3" fill="rgb(128,0,128)"/>
<circle cx="449.10" cy="193.10" r="3.3" fill="rgb(128,0,128)"/>
<circle cx="451.40" cy="195.90" r="3.3" fill="rgb(128,0,128)"/>
<circle cx="454.10" cy="217.60" r="3.3" fill="rgb(128,0,128)"/>
<circle cx="456.90" cy="236.70" r="3.3" fill="rgb(128,0,128)"/>
<circle cx="459.00" cy="250.30" r="3.3" fill="rgb(128,0,128)"/>
<circle cx="461.80" cy="264.80" r="3.3" fill="rgb(128,0,128)"/>
<circle cx="464.10" cy="273.50" r="3.3" fill="rgb(128,0,128)"/>
<circle cx="466.80" cy="264.30" r="3.3" fill="rgb(128,0,128)"/>
<circle cx="469.00" cy="249.90" r="3.3" fill="rgb(128,0,128)"/>
<circle cx="471.70" cy="238.50" r="3.3" fill="rgb(128,0,128)"/>
<circle cx="474.10" cy="230.00" r="3.3" fill="rgb(128,0,128)"/>
<circle cx="476.80" cy="223.10" r="3.3" fill="rgb(128,0,128)"/>
<circle cx="479.00" cy="218.50" r="3.3" fill="rgb(128,0,128)"/>
<line x1="356.30" y1="75.40" x2="356.30" y2="93.30" stroke="rgb(168,224,208)" stroke-width="1.1" />
<line x1="353.10" y1="75.40" x2="359.50" y2="75.40" stroke="rgb(168,224,208)" stroke-width="1.1" />
<line x1="353.10" y1="93.30" x2="359.50" y2="93.30" stroke="rgb(168,224,208)" stroke-width="1.1" />
<line x1="362.50" y1="55.60" x2="362.50" y2="73.20" stroke="rgb(168,224,208)" stroke-width="1.1" />
<line x1="359.30" y1="55.60" x2="365.70" y2="55.60" stroke="rgb(168,224,208)" stroke-width="1.1" />
<line x1="359.30" y1="73.20" x2="365.70" y2="73.20" stroke="rgb(168,224,208)" stroke-width="1.1" />
<line x1="368.60" y1="90.70" x2="368.60" y2="113.30" stroke="rgb(168,224,208)" stroke-width="1.1" />
<line x1="365.40" y1="90.70" x2="371.80" y2="90.70" stroke="rgb(168,224,208)" stroke-width="1.1" />
<line x1="365.40" y1="113.30" x2="371.80" y2="113.30" stroke="rgb(168,224,208)" stroke-width="1.1" />
<line x1="375.00" y1="54.20" x2="375.00" y2="82.00" stroke="rgb(168,224,208)" stroke-width="1.1" />
<line x1="371.80" y1="54.20" x2="378.20" y2="54.20" stroke="rgb(168,224,208)" stroke-width="1.1" />
<line x1="371.80" y1="82.00" x2="378.20" y2="82.00" stroke="rgb(168,224,208)" stroke-width="1.1" />
<line x1="381.10" y1="63.50" x2="381.10" y2="81.00" stroke="rgb(168,224,208)" stroke-width="1.1" />
<line x1="377.90" y1="63.50" x2="384.30" y2="63.50" stroke="rgb(168,224,208)" stroke-width="1.1" />
<line x1="377.90" y1="81.00" x2="384.30" y2="81.00" stroke="rgb(168,224,208)" stroke-width="1.1" />
<line x1="387.20" y1="54.30" x2="387.20" y2="81.40" stroke="rgb(168,224,208)" stroke-width="1.1" />
<line x1="384.00" y1="54.30" x2="390.40" y2="54.30" stroke="rgb(168,224,208)" stroke-width="1.1" />
<line x1="384.00" y1="81.40" x2="390.40" y2="81.40" stroke="rgb(168,224,208)" stroke-width="1.1" />
<line x1="393.30" y1="75.60" x2="393.30" y2="102.00" stroke="rgb(168,224,208)" stroke-width="1.1" />
<line x1="390.10" y1="75.60" x2="396.50" y2="75.60" stroke="rgb(168,224,208)" stroke-width="1.1" />
<line x1="390.10" y1="102.00" x2="396.50" y2="102.00" stroke="rgb(168,224,208)" stroke-width="1.1" />
<line x1="399.50" y1="61.40" x2="399.50" y2="89.50" stroke="rgb(168,224,208)" stroke-width="1.1" />
<line x1="396.30" y1="61.40" x2="402.70" y2="61.40" stroke="rgb(168,224,208)" stroke-width="1.1" />
<line x1="396.30" y1="89.50" x2="402.70" y2="89.50" stroke="rgb(168,224,208)" stroke-width="1.1" />
<line x1="405.80" y1="80.30" x2="405.80" y2="110.00" stroke="rgb(168,224,208)" stroke-width="1.1" />
<line x1="402.60" y1="80.30" x2="409.00" y2="80.30" stroke="rgb(168,224,208)" stroke-width="1.1" />
<line x1="402.60" y1="110.00" x2="409.00" y2="110.00" stroke="rgb(168,224,208)" stroke-width="1.1" />
<line x1="412.10" y1="63.80" x2="412.10" y2="96.00" stroke="rgb(168,224,208)" stroke-width="1.1" />
<line x1="408.90" y1="63.80" x2="415.30" y2="63.80" stroke="rgb(168,224,208)" stroke-width="1.1" />
<line x1="408.90" y1="96.00" x2="415.30" y2="96.00" stroke="rgb(168,224,208)" stroke-width="1.1" />
<line x1="418.10" y1="88.50" x2="418.10" y2="108.40" stroke="rgb(168,224,208)" stroke-width="1.1" />
<line x1="414.90" y1="88.50" x2="421.30" y2="88.50" stroke="rgb(168,224,208)" stroke-width="1.1" />
<line x1="414.90" y1="108.40" x2="421.30" y2="108.40" stroke="rgb(168,224,208)" stroke-width="1.1" />
<line x1="424.10" y1="61.10" x2="424.10" y2="83.20" stroke="rgb(168,224,208)" stroke-width="1.1" />
<line x1="420.90" y1="61.10" x2="427.30" y2="61.10" stroke="rgb(168,224,208)" stroke-width="1.1" />
<line x1="420.90" y1="83.20" x2="427.30" y2="83.20" stroke="rgb(168,224,208)" stroke-width="1.1" />
<line x1="430.50" y1="69.30" x2="430.50" y2="94.20" stroke="rgb(168,224,208)" stroke-width="1.1" />
<line x1="427.30" y1="69.30" x2="433.70" y2="69.30" stroke="rgb(168,224,208)" stroke-width="1.1" />
<line x1="427.30" y1="94.20" x2="433.70" y2="94.20" stroke="rgb(168,224,208)" stroke-width="1.1" />
<line x1="436.60" y1="72.80" x2="436.60" y2="95.80" stroke="rgb(168,224,208)" stroke-width="1.1" />
<line x1="433.40" y1="72.80" x2="439.80" y2="72.80" stroke="rgb(168,224,208)" stroke-width="1.1" />
<line x1="433.40" y1="95.80" x2="439.80" y2="95.80" stroke="rgb(168,224,208)" stroke-width="1.1" />
<line x1="442.90" y1="63.50" x2="442.90" y2="93.00" stroke="rgb(168,224,208)" stroke-width="1.1" />
<line x1="439.70" y1="63.50" x2="446.10" y2="63.50" stroke="rgb(168,224,208)" stroke-width="1.1" />
<line x1="439.70" y1="93.00" x2="446.10" y2="93.00" stroke="rgb(168,224,208)" stroke-width="1.1" />
<line x1="449.00" y1="83.50" x2="449.00" y2="101.60" stroke="rgb(168,224,208)" stroke-width="1.1" />
<line x1="445.80" y1="83.50" x2="452.20" y2="83.50" stroke="rgb(168,224,208)" stroke-width="1.1" />
<line x1="445.80" y1="101.60" x2="452.20" y2="101.60" stroke="rgb(168,224,208)" stroke-width="1.1" />
<line x1="455.20" y1="60.30" x2="455.20" y2="97.40" stroke="rgb(168,224,208)" stroke-width="1.1" />
<line x1="452.00" y1="60.30" x2="458.40" y2="60.30" stroke="rgb(168,224,208)" stroke-width="1.1" />
<line x1="452.00" y1="97.40" x2="458.40" y2="97.40" stroke="rgb(168,224,208)" stroke-width="1.1" />
<line x1="461.60" y1="58.70" x2="461.60" y2="82.00" stroke="rgb(168,224,208)" stroke-width="1.1" />
<line x1="458.40" y1="58.70" x2="464.80" y2="58.70" stroke="rgb(168,224,208)" stroke-width="1.1" />
<line x1="458.40" y1="82.00" x2="464.80" y2="82.00" stroke="rgb(168,224,208)" stroke-width="1.1" />
<line x1="467.90" y1="63.80" x2="467.90" y2="93.70" stroke="rgb(168,224,208)" stroke-width="1.1" />
<line x1="464.70" y1="63.80" x2="471.10" y2="63.80" stroke="rgb(168,224,208)" stroke-width="1.1" />
<line x1="464.70" y1="93.70" x2="471.10" y2="93.70" stroke="rgb(168,224,208)" stroke-width="1.1" />
<line x1="474.20" y1="75.10" x2="474.20" y2="107.90" stroke="rgb(168,224,208)" stroke-width="1.1" />
<line x1="471.00" y1="75.10" x2="477.40" y2="75.10" stroke="rgb(168,224,208)" stroke-width="1.1" />
<line x1="471.00" y1="107.90" x2="477.40" y2="107.90" stroke="rgb(168,224,208)" stroke-width="1.1" />
<line x1="480.00" y1="63.50" x2="480.00" y2="103.20" stroke="rgb(168,224,208)" stroke-width="1.1" />
<line x1="476.80" y1="63.50" x2="483.20" y2="63.50" stroke="rgb(168,224,208)" stroke-width="1.1" />
<line x1="476.80" y1="103.20" x2="483.20" y2="103.20" stroke="rgb(168,224,208)" stroke-width="1.1" />
<line x1="486.30" y1="70.40" x2="486.30" y2="103.70" stroke="rgb(168,224,208)" stroke-width="1.1" />
<line x1="483.10" y1="70.40" x2="489.50" y2="70.40" stroke="rgb(168,224,208)" stroke-width="1.1" />
<line x1="483.10" y1="103.70" x2="489.50" y2="103.70" stroke="rgb(168,224,208)" stroke-width="1.1" />
<line x1="492.60" y1="61.50" x2="492.60" y2="94.00" stroke="rgb(168,224,208)" stroke-width="1.1" />
<line x1="489.40" y1="61.50" x2="495.80" y2="61.50" stroke="rgb(168,224,208)" stroke-width="1.1" />
<line x1="489.40" y1="94.00" x2="495.80" y2="94.00" stroke="rgb(168,224,208)" stroke-width="1.1" />
<line x1="498.70" y1="96.90" x2="498.70" y2="117.30" stroke="rgb(168,224,208)" stroke-width="1.1" />
<line x1="495.50" y1="96.90" x2="501.90" y2="96.90" stroke="rgb(168,224,208)" stroke-width="1.1" />
<line x1="495.50" y1="117.30" x2="501.90" y2="117.30" stroke="rgb(168,224,208)" stroke-width="1.1" />
<line x1="504.80" y1="82.60" x2="504.80" y2="107.20" stroke="rgb(168,224,208)" stroke-width="1.1" />
<line x1="501.60" y1="82.60" x2="508.00" y2="82.60" stroke="rgb(168,224,208)" stroke-width="1.1" />
<line x1="501.60" y1="107.20" x2="508.00" y2="107.20" stroke="rgb(168,224,208)" stroke-width="1.1" />
<line x1="510.80" y1="79.00" x2="510.80" y2="116.70" stroke="rgb(168,224,208)" stroke-width="1.1" />
<line x1="507.60" y1="79.00" x2="514.00" y2="79.00" stroke="rgb(168,224,208)" stroke-width="1.1" />
<line x1="507.60" y1="116.70" x2="514.00" y2="116.70" stroke="rgb(168,224,208)" stroke-width="1.1" />
<line x1="517.10" y1="64.90" x2="517.10" y2="99.00" stroke="rgb(168,224,208)" stroke-width="1.1" />
<line x1="513.90" y1="64.90" x2="520.30" y2="64.90" stroke="rgb(168,224,208)" stroke-width="1.1" />
<line x1="513.90" y1="99.00" x2="520.30" y2="99.00" stroke="rgb(168,224,208)" stroke-width="1.1" />
<line x1="523.40" y1="47.20" x2="523.40" y2="113.20" stroke="rgb(168,224,208)" stroke-width="1.1" />
<line x1="520.20" y1="47.20" x2="526.60" y2="47.20" stroke="rgb(168,224,208)" stroke-width="1.1" />
<line x1="520.20" y1="113.20" x2="526.60" y2="113.20" stroke="rgb(168,224,208)" stroke-width="1.1" />
<line x1="529.60" y1="76.50" x2="529.60" y2="106.40" stroke="rgb(168,224,208)" stroke-width="1.1" />
<line x1="526.40" y1="76.50" x2="532.80" y2="76.50" stroke="rgb(168,224,208)" stroke-width="1.1" />
<line x1="526.40" y1="106.40" x2="532.80" y2="106.40" stroke="rgb(168,224,208)" stroke-width="1.1" />
<line x1="535.80" y1="91.30" x2="535.80" y2="107.20" stroke="rgb(168,224,208)" stroke-width="1.1" />
<line x1="532.60" y1="91.30" x2="539.00" y2="91.30" stroke="rgb(168,224,208)" stroke-width="1.1" />
<line x1="532.60" y1="107.20" x2="539.00" y2="107.20" stroke="rgb(168,224,208)" stroke-width="1.1" />
<line x1="541.90" y1="78.40" x2="541.90" y2="104.00" stroke="rgb(168,224,208)" stroke-width="1.1" />
<line x1="538.70" y1="78.40" x2="545.10" y2="78.40" stroke="rgb(168,224,208)" stroke-width="1.1" />
<line x1="538.70" y1="104.00" x2="545.10" y2="104.00" stroke="rgb(168,224,208)" stroke-width="1.1" />
<line x1="548.20" y1="95.80" x2="548.20" y2="118.80" stroke="rgb(168,224,208)" stroke-width="1.1" />
<line x1="545.00" y1="95.80" x2="551.40" y2="95.80" stroke="rgb(168,224,208)" stroke-width="1.1" />
<line x1="545.00" y1="118.80" x2="551.40" y2="118.80" stroke="rgb(168,224,208)" stroke-width="1.1" />
<line x1="554.50" y1="88.40" x2="554.50" y2="130.60" stroke="rgb(168,224,208)" stroke-width="1.1" />
<line x1="551.30" y1="88.40" x2="557.70" y2="88.40" stroke="rgb(168,224,208)" stroke-width="1.1" />
<line x1="551.30" y1="130.60" x2="557.70" y2="130.60" stroke="rgb(168,224,208)" stroke-width="1.1" />
<line x1="560.50" y1="89.80" x2="560.50" y2="110.50" stroke="rgb(168,224,208)" stroke-width="1.1" />
<line x1="557.30" y1="89.80" x2="563.70" y2="89.80" stroke="rgb(168,224,208)" stroke-width="1.1" />
<line x1="557.30" y1="110.50" x2="563.70" y2="110.50" stroke="rgb(168,224,208)" stroke-width="1.1" />
<line x1="566.70" y1="98.90" x2="566.70" y2="131.30" stroke="rgb(168,224,208)" stroke-width="1.1" />
<line x1="563.50" y1="98.90" x2="569.90" y2="98.90" stroke="rgb(168,224,208)" stroke-width="1.1" />
<line x1="563.50" y1="131.30" x2="569.90" y2="131.30" stroke="rgb(168,224,208)" stroke-width="1.1" />
<line x1="572.90" y1="89.40" x2="572.90" y2="110.00" stroke="rgb(168,224,208)" stroke-width="1.1" />
<line x1="569.70" y1="89.40" x2="576.10" y2="89.40" stroke="rgb(168,224,208)" stroke-width="1.1" />
<line x1="569.70" y1="110.00" x2="576.10" y2="110.00" stroke="rgb(168,224,208)" stroke-width="1.1" />
<line x1="579.00" y1="86.60" x2="579.00" y2="104.00" stroke="rgb(168,224,208)" stroke-width="1.1" />
<line x1="575.80" y1="86.60" x2="582.20" y2="86.60" stroke="rgb(168,224,208)" stroke-width="1.1" />
<line x1="575.80" y1="104.00" x2="582.20" y2="104.00" stroke="rgb(168,224,208)" stroke-width="1.1" />
<line x1="585.30" y1="95.60" x2="585.30" y2="115.20" stroke="rgb(168,224,208)" stroke-width="1.1" />
<line x1="582.10" y1="95.60" x2="588.50" y2="95.60" stroke="rgb(168,224,208)" stroke-width="1.1" />
<line x1="582.10" y1="115.20" x2="588.50" y2="115.20" stroke="rgb(168,224,208)" stroke-width="1.1" />
<line x1="591.70" y1="108.90" x2="591.70" y2="138.80" stroke="rgb(168,224,208)" stroke-width="1.1" />
<line x1="588.50" y1="108.90" x2="594.90" y2="108.90" stroke="rgb(168,224,208)" stroke-width="1.1" />
<line x1="588.50" y1="138.80" x2="594.90" y2="138.80" stroke="rgb(168,224,208)" stroke-width="1.1" />
<line x1="597.70" y1="98.50" x2="597.70" y2="126.50" stroke="rgb(168,224,208)" stroke-width="1.1" />
<line x1="594.50" y1="98.50" x2="600.90" y2="98.50" stroke="rgb(168,224,208)" stroke-width="1.1" />
<line x1="594.50" y1="126.50" x2="600.90" y2="126.50" stroke="rgb(168,224,208)" stroke-width="1.1" />
<line x1="603.80" y1="99.80" x2="603.80" y2="120.30" stroke="rgb(168,224,208)" stroke-width="1.1" />
<line x1="600.60" y1="99.80" x2="607.00" y2="99.80" stroke="rgb(168,224,208)" stroke-width="1.1" />
<line x1="600.60" y1="120.30" x2="607.00" y2="120.30" stroke="rgb(168,224,208)" stroke-width="1.1" />
<line x1="610.20" y1="127.50" x2="610.20" y2="155.50" stroke="rgb(168,224,208)" stroke-width="1.1" />
<line x1="607.00" y1="127.50" x2="613.40" y2="127.50" stroke="rgb(168,224,208)" stroke-width="1.1" />
<line x1="607.00" y1="155.50" x2="613.40" y2="155.50" stroke="rgb(168,224,208)" stroke-width="1.1" />
<line x1="616.50" y1="95.30" x2="616.50" y2="114.50" stroke="rgb(168,224,208)" stroke-width="1.1" />
<line x1="613.30" y1="95.30" x2="619.70" y2="95.30" stroke="rgb(168,224,208)" stroke-width="1.1" />
<line x1="613.30" y1="114.50" x2="619.70" y2="114.50" stroke="rgb(168,224,208)" stroke-width="1.1" />
<line x1="622.50" y1="116.00" x2="622.50" y2="136.00" stroke="rgb(168,224,208)" stroke-width="1.1" />
<line x1="619.30" y1="116.00" x2="625.70" y2="116.00" stroke="rgb(168,224,208)" stroke-width="1.1" />
<line x1="619.30" y1="136.00" x2="625.70" y2="136.00" stroke="rgb(168,224,208)" stroke-width="1.1" />
<line x1="628.50" y1="86.60" x2="628.50" y2="109.40" stroke="rgb(168,224,208)" stroke-width="1.1" />
<line x1="625.30" y1="86.60" x2="631.70" y2="86.60" stroke="rgb(168,224,208)" stroke-width="1.1" />
<line x1="625.30" y1="109.40" x2="631.70" y2="109.40" stroke="rgb(168,224,208)" stroke-width="1.1" />
<line x1="634.80" y1="106.20" x2="634.80" y2="129.40" stroke="rgb(168,224,208)" stroke-width="1.1" />
<line x1="631.60" y1="106.20" x2="638.00" y2="106.20" stroke="rgb(168,224,208)" stroke-width="1.1" />
<line x1="631.60" y1="129.40" x2="638.00" y2="129.40" stroke="rgb(168,224,208)" stroke-width="1.1" />
<line x1="641.20" y1="99.30" x2="641.20" y2="116.00" stroke="rgb(168,224,208)" stroke-width="1.1" />
<line x1="638.00" y1="99.30" x2="644.40" y2="99.30" stroke="rgb(168,224,208)" stroke-width="1.1" />
<line x1="638.00" y1="116.00" x2="644.40" y2="116.00" stroke="rgb(168,224,208)" stroke-width="1.1" />
<line x1="647.30" y1="110.10" x2="647.30" y2="132.40" stroke="rgb(168,224,208)" stroke-width="1.1" />
<line x1="644.10" y1="110.10" x2="650.50" y2="110.10" stroke="rgb(168,224,208)" stroke-width="1.1" />
<line x1="644.10" y1="132.40" x2="650.50" y2="132.40" stroke="rgb(168,224,208)" stroke-width="1.1" />
<line x1="653.30" y1="94.40" x2="653.30" y2="113.20" stroke="rgb(168,224,208)" stroke-width="1.1" />
<line x1="650.10" y1="94.40" x2="656.50" y2="94.40" stroke="rgb(168,224,208)" stroke-width="1.1" />
<line x1="650.10" y1="113.20" x2="656.50" y2="113.20" stroke="rgb(168,224,208)" stroke-width="1.1" />
<line x1="659.50" y1="108.00" x2="659.50" y2="128.00" stroke="rgb(168,224,208)" stroke-width="1.1" />
<line x1="656.30" y1="108.00" x2="662.70" y2="108.00" stroke="rgb(168,224,208)" stroke-width="1.1" />
<line x1="656.30" y1="128.00" x2="662.70" y2="128.00" stroke="rgb(168,224,208)" stroke-width="1.1" />
<circle cx="356.30" cy="84.00" r="3.4" fill="rgb(125,204,183)"/>
<circle cx="362.50" cy="64.00" r="3.4" fill="rgb(125,204,183)"/>
<circle cx="368.60" cy="101.80" r="3.4" fill="rgb(125,204,183)"/>
<circle cx="375.00" cy="68.00" r="3.4" fill="rgb(125,204,183)"/>
<circle cx="381.10" cy="72.00" r="3.4" fill="rgb(125,204,183)"/>
<circle cx="387.20" cy="67.70" r="3.4" fill="rgb(125,204,183)"/>
<circle cx="393.30" cy="89.00" r="3.4" fill="rgb(125,204,183)"/>
<circle cx="399.50" cy="75.60" r="3.4" fill="rgb(125,204,183)"/>
<circle cx="405.80" cy="94.80" r="3.4" fill="rgb(125,204,183)"/>
<circle cx="412.10" cy="80.00" r="3.4" fill="rgb(125,204,183)"/>
<circle cx="418.10" cy="98.50" r="3.4" fill="rgb(125,204,183)"/>
<circle cx="424.10" cy="72.10" r="3.4" fill="rgb(125,204,183)"/>
<circle cx="430.50" cy="81.60" r="3.4" fill="rgb(125,204,183)"/>
<circle cx="436.60" cy="84.30" r="3.4" fill="rgb(125,204,183)"/>
<circle cx="442.90" cy="78.00" r="3.4" fill="rgb(125,204,183)"/>
<circle cx="449.00" cy="92.60" r="3.4" fill="rgb(125,204,183)"/>
<circle cx="455.20" cy="78.80" r="3.4" fill="rgb(125,204,183)"/>
<circle cx="461.60" cy="69.80" r="3.4" fill="rgb(125,204,183)"/>
<circle cx="467.90" cy="78.80" r="3.4" fill="rgb(125,204,183)"/>
<circle cx="474.20" cy="90.90" r="3.4" fill="rgb(125,204,183)"/>
<circle cx="480.00" cy="83.00" r="3.4" fill="rgb(125,204,183)"/>
<circle cx="486.30" cy="86.60" r="3.4" fill="rgb(125,204,183)"/>
<circle cx="492.60" cy="77.50" r="3.4" fill="rgb(125,204,183)"/>
<circle cx="498.70" cy="104.70" r="3.4" fill="rgb(125,204,183)"/>
<circle cx="504.80" cy="97.40" r="3.4" fill="rgb(125,204,183)"/>
<circle cx="510.80" cy="98.00" r="3.4" fill="rgb(125,204,183)"/>
<circle cx="517.10" cy="82.20" r="3.4" fill="rgb(125,204,183)"/>
<circle cx="523.40" cy="80.20" r="3.4" fill="rgb(125,204,183)"/>
<circle cx="529.60" cy="91.30" r="3.4" fill="rgb(125,204,183)"/>
<circle cx="535.80" cy="100.40" r="3.4" fill="rgb(125,204,183)"/>
<circle cx="541.90" cy="91.40" r="3.4" fill="rgb(125,204,183)"/>
<circle cx="548.20" cy="107.20" r="3.4" fill="rgb(125,204,183)"/>
<circle cx="554.50" cy="109.40" r="3.4" fill="rgb(125,204,183)"/>
<circle cx="560.50" cy="100.20" r="3.4" fill="rgb(125,204,183)"/>
<circle cx="566.70" cy="114.70" r="3.4" fill="rgb(125,204,183)"/>
<circle cx="572.90" cy="99.90" r="3.4" fill="rgb(125,204,183)"/>
<circle cx="579.00" cy="95.40" r="3.4" fill="rgb(125,204,183)"/>
<circle cx="585.30" cy="104.90" r="3.4" fill="rgb(125,204,183)"/>
<circle cx="591.70" cy="123.00" r="3.4" fill="rgb(125,204,183)"/>
<circle cx="597.70" cy="111.60" r="3.4" fill="rgb(125,204,183)"/>
<circle cx="603.80" cy="111.60" r="3.4" fill="rgb(125,204,183)"/>
<circle cx="610.20" cy="141.50" r="3.4" fill="rgb(125,204,183)"/>
<circle cx="616.50" cy="104.90" r="3.4" fill="rgb(125,204,183)"/>
<circle cx="622.50" cy="125.70" r="3.4" fill="rgb(125,204,183)"/>
<circle cx="628.50" cy="97.60" r="3.4" fill="rgb(125,204,183)"/>
<circle cx="634.80" cy="116.10" r="3.4" fill="rgb(125,204,183)"/>
<circle cx="641.20" cy="107.60" r="3.4" fill="rgb(125,204,183)"/>
<circle cx="647.30" cy="120.70" r="3.4" fill="rgb(125,204,183)"/>
<circle cx="653.30" cy="103.80" r="3.4" fill="rgb(125,204,183)"/>
<circle cx="659.50" cy="118.00" r="3.4" fill="rgb(125,204,183)"/>
<polygon points="366.70,64.90 370.70,65.69 374.70,66.48 378.70,67.27 382.70,68.05 386.70,68.83 390.70,69.60 394.70,70.38 398.70,71.15 402.70,71.91 406.70,72.68 410.70,73.44 414.70,74.19 418.70,74.95 422.70,75.70 426.70,76.45 430.70,77.19 434.70,77.93 438.70,78.67 442.70,79.41 446.70,80.14 450.70,80.87 454.70,81.59 458.70,82.32 462.70,83.04 466.70,83.76 470.70,84.47 474.70,85.18 478.70,85.89 482.70,86.59 486.70,87.30 490.70,88.00 494.70,88.69 498.70,89.39 502.70,90.08 506.70,90.77 510.70,91.45 514.70,92.13 518.70,92.81 522.70,93.49 526.70,94.16 530.70,94.83 534.70,95.50 538.70,96.17 542.70,96.83 546.70,97.49 550.70,98.15 554.70,98.80 558.70,99.45 562.70,100.10 566.70,100.75 570.70,101.39 574.70,102.03 578.70,102.67 582.70,103.31 586.70,103.94 590.70,104.57 594.70,105.20 598.70,105.82 602.70,106.44 606.70,107.06 610.70,107.68 614.70,108.30 618.70,108.91 622.70,109.52 626.70,110.12 630.70,110.73 634.70,111.33 638.70,111.93 642.70,112.53 646.70,113.12 650.70,113.71 654.70,114.30 658.70,114.89 662.70,115.47 662.70,125.65 658.70,124.96 654.70,124.28 650.70,123.58 646.70,122.89 642.70,122.19 638.70,121.49 634.70,120.79 630.70,120.09 626.70,119.38 622.70,118.67 618.70,117.96 614.70,117.25 610.70,116.53 606.70,115.81 602.70,115.09 598.70,114.36 594.70,113.64 590.70,112.91 586.70,112.17 582.70,111.44 578.70,110.70 574.70,109.96 570.70,109.22 566.70,108.47 562.70,107.72 558.70,106.97 554.70,106.22 550.70,105.46 546.70,104.70 542.70,103.94 538.70,103.17 534.70,102.40 530.70,101.63 526.70,100.86 522.70,100.08 518.70,99.31 514.70,98.52 510.70,97.74 506.70,96.95 502.70,96.16 498.70,95.37 494.70,94.57 490.70,93.77 486.70,92.97 482.70,92.17 478.70,91.36 474.70,90.55 470.70,89.73 466.70,88.92 462.70,88.10 458.70,87.27 454.70,86.45 450.70,85.62 446.70,84.79 442.70,83.95 438.70,83.11 434.70,82.27 430.70,81.43 426.70,80.58 422.70,79.73 418.70,78.88 414.70,78.02 410.70,77.16 406.70,76.30 402.70,75.44 398.70,74.57 394.70,73.69 390.70,72.82 386.70,71.94 382.70,71.06 378.70,70.17 374.70,69.29 370.70,68.39 366.70,67.50" fill="rgb(125,204,183)"/>
<rect x="342.00" y="22.60" width="321.50" height="261.40" fill="none" stroke="#111" stroke-width="1.5" />
<line x1="336.00" y1="284.00" x2="342.00" y2="284.00" stroke="#111" stroke-width="1.2" />
<line x1="663.50" y1="284.00" x2="657.50" y2="284.00" stroke="#111" stroke-width="1.2" />
<line x1="336.00" y1="240.44" x2="342.00" y2="240.44" stroke="#111" stroke-width="1.2" />
<line x1="663.50" y1="240.44" x2="657.50" y2="240.44" stroke="#111" stroke-width="1.2" />
<line x1="336.00" y1="196.88" x2="342.00" y2="196.88" stroke="#111" stroke-width="1.2" />
<line x1="663.50" y1="196.88" x2="657.50" y2="196.88" stroke="#111" stroke-width="1.2" />
<line x1="336.00" y1="153.32" x2="342.00" y2="153.32" stroke="#111" stroke-width="1.2" />
<line x1="663.50" y1="153.32" x2="657.50" y2="153.32" stroke="#111" stroke-width="1.2" />
<line x1="336.00" y1="109.76" x2="342.00" y2="109.76" stroke="#111" stroke-width="1.2" />
<line x1="663.50" y1="109.76" x2="657.50" y2="109.76" stroke="#111" stroke-width="1.2" />
<line x1="336.00" y1="66.20" x2="342.00" y2="66.20" stroke="#111" stroke-width="1.2" />
<line x1="663.50" y1="66.20" x2="657.50" y2="66.20" stroke="#111" stroke-width="1.2" />
<line x1="336.00" y1="22.64" x2="342.00" y2="22.64" stroke="#111" stroke-width="1.2" />
<line x1="663.50" y1="22.64" x2="657.50" y2="22.64" stroke="#111" stroke-width="1.2" />
<line x1="338.80" y1="262.22" x2="342.00" y2="262.22" stroke="#111" stroke-width="1.2" />
<line x1="663.50" y1="262.22" x2="660.30" y2="262.22" stroke="#111" stroke-width="1.2" />
<line x1="338.80" y1="218.66" x2="342.00" y2="218.66" stroke="#111" stroke-width="1.2" />
<line x1="663.50" y1="218.66" x2="660.30" y2="218.66" stroke="#111" stroke-width="1.2" />
<line x1="338.80" y1="175.10" x2="342.00" y2="175.10" stroke="#111" stroke-width="1.2" />
<line x1="663.50" y1="175.10" x2="660.30" y2="175.10" stroke="#111" stroke-width="1.2" />
<line x1="338.80" y1="131.54" x2="342.00" y2="131.54" stroke="#111" stroke-width="1.2" />
<line x1="663.50" y1="131.54" x2="660.30" y2="131.54" stroke="#111" stroke-width="1.2" />
<line x1="338.80" y1="87.98" x2="342.00" y2="87.98" stroke="#111" stroke-width="1.2" />
<line x1="663.50" y1="87.98" x2="660.30" y2="87.98" stroke="#111" stroke-width="1.2" />
<line x1="338.80" y1="44.42" x2="342.00" y2="44.42" stroke="#111" stroke-width="1.2" />
<line x1="663.50" y1="44.42" x2="660.30" y2="44.42" stroke="#111" stroke-width="1.2" />
<text x="332.20" y="288.50" font-size="11.9" text-anchor="end" fill="#1a1a1a" textLength="15.38" lengthAdjust="spacingAndGlyphs" >0.0</text>
<text x="332.20" y="244.94" font-size="11.9" text-anchor="end" fill="#1a1a1a" textLength="15.38" lengthAdjust="spacingAndGlyphs" >0.2</text>
<text x="332.20" y="201.38" font-size="11.9" text-anchor="end" fill="#1a1a1a" textLength="15.38" lengthAdjust="spacingAndGlyphs" >0.4</text>
<text x="332.20" y="157.82" font-size="11.9" text-anchor="end" fill="#1a1a1a" textLength="15.38" lengthAdjust="spacingAndGlyphs" >0.6</text>
<text x="332.20" y="114.26" font-size="11.9" text-anchor="end" fill="#1a1a1a" textLength="15.38" lengthAdjust="spacingAndGlyphs" >0.8</text>
<text x="332.20" y="70.70" font-size="11.9" text-anchor="end" fill="#1a1a1a" textLength="15.38" lengthAdjust="spacingAndGlyphs" >1.0</text>
<text x="332.20" y="27.14" font-size="11.9" text-anchor="end" fill="#1a1a1a" textLength="15.38" lengthAdjust="spacingAndGlyphs" >1.2</text>
<line x1="366.60" y1="284.00" x2="366.60" y2="290.00" stroke="#111" stroke-width="1.2" />
<line x1="366.60" y1="22.60" x2="366.60" y2="28.60" stroke="#111" stroke-width="1.2" />
<line x1="490.45" y1="284.00" x2="490.45" y2="290.00" stroke="#111" stroke-width="1.2" />
<line x1="490.45" y1="22.60" x2="490.45" y2="28.60" stroke="#111" stroke-width="1.2" />
<line x1="614.30" y1="284.00" x2="614.30" y2="290.00" stroke="#111" stroke-width="1.2" />
<line x1="614.30" y1="22.60" x2="614.30" y2="28.60" stroke="#111" stroke-width="1.2" />
<line x1="428.53" y1="284.00" x2="428.53" y2="287.50" stroke="#111" stroke-width="1.2" />
<line x1="428.53" y1="22.60" x2="428.53" y2="26.10" stroke="#111" stroke-width="1.2" />
<line x1="552.38" y1="284.00" x2="552.38" y2="287.50" stroke="#111" stroke-width="1.2" />
<line x1="552.38" y1="22.60" x2="552.38" y2="26.10" stroke="#111" stroke-width="1.2" />
<text x="366.60" y="303.80" font-size="11.9" text-anchor="middle" fill="#1a1a1a" textLength="6.15" lengthAdjust="spacingAndGlyphs" >0</text>
<text x="490.45" y="303.80" font-size="11.9" text-anchor="middle" fill="#1a1a1a" textLength="18.46" lengthAdjust="spacingAndGlyphs" >500</text>
<text x="614.30" y="303.80" font-size="11.9" text-anchor="middle" fill="#1a1a1a" textLength="24.62" lengthAdjust="spacingAndGlyphs" >1000</text>
<text x="515.30" y="324.30" font-size="13.8" text-anchor="middle" fill="#1a1a1a" textLength="95" lengthAdjust="spacingAndGlyphs" >Time delay (ps)</text>
<text x="0" y="0" font-size="13.7" text-anchor="middle" fill="#1a1a1a" textLength="96" lengthAdjust="spacingAndGlyphs" transform="translate(300.0,142.9) rotate(-90)">Visibility (norm.)</text>
<rect x="480.20" y="223.00" width="204.20" height="45.60" fill="white" stroke="rgb(160,160,160)" stroke-width="1.3" />
<circle cx="513.20" cy="236.30" r="3.2" fill="rgb(128,0,128)"/>
<circle cx="513.20" cy="255.90" r="3.2" fill="rgb(125,204,183)"/>
<text x="534.80" y="241.60" font-size="12.15" text-anchor="start" fill="#1a1a1a" >Non-resonant excitation</text>
<text x="534.80" y="261.00" font-size="12.15" text-anchor="start" fill="#1a1a1a" >Resonant excitation 9 dB</text>
<text x="4.60" y="355.00" font-size="22.4" text-anchor="start" fill="#000" textLength="26.3" lengthAdjust="spacingAndGlyphs" >(c)</text>
<circle cx="71.99" cy="462.74" r="1.5" fill="rgb(218,28,34)"/>
<circle cx="67.34" cy="458.35" r="1.5" fill="rgb(218,28,34)"/>
<circle cx="75.91" cy="456.89" r="1.5" fill="rgb(218,28,34)"/>
<circle cx="75.39" cy="461.80" r="1.5" fill="rgb(218,28,34)"/>
<circle cx="66.69" cy="438.87" r="1.5" fill="rgb(218,28,34)"/>
<circle cx="67.68" cy="446.67" r="1.5" fill="rgb(218,28,34)"/>
<circle cx="73.85" cy="458.80" r="1.5" fill="rgb(218,28,34)"/>
<circle cx="70.13" cy="443.77" r="1.5" fill="rgb(218,28,34)"/>
<circle cx="77.61" cy="477.59" r="1.5" fill="rgb(218,28,34)"/>
<circle cx="73.34" cy="449.93" r="1.5" fill="rgb(218,28,34)"/>
<circle cx="84.06" cy="497.03" r="1.5" fill="rgb(218,28,34)"/>
<circle cx="71.36" cy="458.29" r="1.5" fill="rgb(218,28,34)"/>
<circle cx="68.67" cy="454.21" r="1.5" fill="rgb(218,28,34)"/>
<circle cx="81.10" cy="475.93" r="1.5" fill="rgb(218,28,34)"/>
<circle cx="69.34" cy="432.89" r="1.5" fill="rgb(218,28,34)"/>
<circle cx="72.89" cy="445.80" r="1.5" fill="rgb(218,28,34)"/>
<circle cx="76.13" cy="463.92" r="1.5" fill="rgb(218,28,34)"/>
<circle cx="69.81" cy="450.28" r="1.5" fill="rgb(218,28,34)"/>
<circle cx="78.59" cy="455.10" r="1.5" fill="rgb(218,28,34)"/>
<circle cx="76.83" cy="465.88" r="1.5" fill="rgb(218,28,34)"/>
<circle cx="74.38" cy="450.33" r="1.5" fill="rgb(218,28,34)"/>
<circle cx="78.93" cy="485.38" r="1.5" fill="rgb(218,28,34)"/>
<circle cx="70.52" cy="436.85" r="1.5" fill="rgb(218,28,34)"/>
<circle cx="82.19" cy="464.34" r="1.5" fill="rgb(218,28,34)"/>
<circle cx="79.49" cy="458.16" r="1.5" fill="rgb(218,28,34)"/>
<circle cx="80.33" cy="507.60" r="1.5" fill="rgb(218,28,34)"/>
<circle cx="80.41" cy="524.10" r="1.5" fill="rgb(218,28,34)"/>
<circle cx="75.45" cy="537.78" r="1.5" fill="rgb(218,28,34)"/>
<circle cx="81.24" cy="510.11" r="1.5" fill="rgb(218,28,34)"/>
<circle cx="79.31" cy="511.29" r="1.5" fill="rgb(218,28,34)"/>
<circle cx="81.04" cy="545.54" r="1.5" fill="rgb(218,28,34)"/>
<circle cx="79.36" cy="505.46" r="1.5" fill="rgb(218,28,34)"/>
<circle cx="169.91" cy="561.85" r="1.5" fill="rgb(218,28,34)"/>
<circle cx="183.33" cy="577.42" r="1.5" fill="rgb(218,28,34)"/>
<circle cx="170.95" cy="583.49" r="1.5" fill="rgb(218,28,34)"/>
<circle cx="185.05" cy="579.47" r="1.5" fill="rgb(218,28,34)"/>
<circle cx="186.74" cy="563.97" r="1.5" fill="rgb(218,28,34)"/>
<circle cx="178.23" cy="569.38" r="1.5" fill="rgb(218,28,34)"/>
<circle cx="176.15" cy="579.79" r="1.5" fill="rgb(218,28,34)"/>
<circle cx="180.62" cy="581.14" r="1.5" fill="rgb(218,28,34)"/>
<circle cx="185.24" cy="568.03" r="1.5" fill="rgb(218,28,34)"/>
<circle cx="180.92" cy="561.23" r="1.5" fill="rgb(218,28,34)"/>
<circle cx="175.62" cy="559.22" r="1.5" fill="rgb(218,28,34)"/>
<circle cx="176.04" cy="568.41" r="1.5" fill="rgb(218,28,34)"/>
<circle cx="174.04" cy="577.41" r="1.5" fill="rgb(218,28,34)"/>
<circle cx="187.38" cy="564.50" r="1.5" fill="rgb(218,28,34)"/>
<circle cx="175.67" cy="564.39" r="1.5" fill="rgb(218,28,34)"/>
<circle cx="186.62" cy="564.23" r="1.5" fill="rgb(218,28,34)"/>
<circle cx="179.01" cy="577.04" r="1.5" fill="rgb(218,28,34)"/>
<circle cx="176.10" cy="580.12" r="1.5" fill="rgb(218,28,34)"/>
<circle cx="175.43" cy="584.99" r="1.5" fill="rgb(218,28,34)"/>
<circle cx="184.01" cy="577.14" r="1.5" fill="rgb(218,28,34)"/>
<circle cx="175.90" cy="563.05" r="1.5" fill="rgb(218,28,34)"/>
<circle cx="181.97" cy="589.60" r="1.5" fill="rgb(218,28,34)"/>
<circle cx="186.69" cy="564.88" r="1.5" fill="rgb(218,28,34)"/>
<circle cx="173.18" cy="580.09" r="1.5" fill="rgb(218,28,34)"/>
<circle cx="181.25" cy="583.07" r="1.5" fill="rgb(218,28,34)"/>
<circle cx="183.58" cy="579.90" r="1.5" fill="rgb(218,28,34)"/>
<circle cx="175.49" cy="577.36" r="1.5" fill="rgb(218,28,34)"/>
<circle cx="186.54" cy="565.34" r="1.5" fill="rgb(218,28,34)"/>
<circle cx="185.79" cy="585.89" r="1.5" fill="rgb(218,28,34)"/>
<circle cx="181.33" cy="562.79" r="1.5" fill="rgb(218,28,34)"/>
<circle cx="186.98" cy="577.60" r="1.5" fill="rgb(218,28,34)"/>
<circle cx="185.19" cy="569.73" r="1.5" fill="rgb(218,28,34)"/>
<circle cx="173.83" cy="566.50" r="1.5" fill="rgb(218,28,34)"/>
<circle cx="185.88" cy="582.02" r="1.5" fill="rgb(218,28,34)"/>
<circle cx="177.07" cy="578.30" r="1.5" fill="rgb(218,28,34)"/>
<circle cx="169.84" cy="575.16" r="1.5" fill="rgb(218,28,34)"/>
<circle cx="172.60" cy="573.31" r="1.5" fill="rgb(218,28,34)"/>
<circle cx="178.83" cy="575.80" r="1.5" fill="rgb(218,28,34)"/>
<circle cx="173.97" cy="576.53" r="1.5" fill="rgb(218,28,34)"/>
<circle cx="183.18" cy="578.07" r="1.5" fill="rgb(218,28,34)"/>
<circle cx="178.72" cy="575.71" r="1.5" fill="rgb(218,28,34)"/>
<circle cx="186.45" cy="576.88" r="1.5" fill="rgb(218,28,34)"/>
<circle cx="179.57" cy="570.47" r="1.5" fill="rgb(218,28,34)"/>
<circle cx="177.46" cy="571.17" r="1.5" fill="rgb(218,28,34)"/>
<circle cx="183.61" cy="579.74" r="1.5" fill="rgb(218,28,34)"/>
<circle cx="172.07" cy="587.21" r="1.5" fill="rgb(218,28,34)"/>
<circle cx="176.67" cy="573.70" r="1.5" fill="rgb(218,28,34)"/>
<circle cx="177.27" cy="568.70" r="1.5" fill="rgb(218,28,34)"/>
<circle cx="182.50" cy="562.77" r="1.5" fill="rgb(218,28,34)"/>
<circle cx="175.47" cy="582.32" r="1.5" fill="rgb(218,28,34)"/>
<circle cx="183.69" cy="565.25" r="1.5" fill="rgb(218,28,34)"/>
<circle cx="183.52" cy="578.52" r="1.5" fill="rgb(218,28,34)"/>
<circle cx="279.74" cy="593.73" r="1.5" fill="rgb(218,28,34)"/>
<circle cx="277.61" cy="588.32" r="1.5" fill="rgb(218,28,34)"/>
<circle cx="266.30" cy="591.32" r="1.5" fill="rgb(218,28,34)"/>
<circle cx="280.41" cy="590.00" r="1.5" fill="rgb(218,28,34)"/>
<circle cx="274.96" cy="592.94" r="1.5" fill="rgb(218,28,34)"/>
<circle cx="269.29" cy="581.41" r="1.5" fill="rgb(218,28,34)"/>
<circle cx="270.62" cy="592.65" r="1.5" fill="rgb(218,28,34)"/>
<circle cx="268.20" cy="579.86" r="1.5" fill="rgb(218,28,34)"/>
<circle cx="278.20" cy="599.45" r="1.5" fill="rgb(218,28,34)"/>
<circle cx="266.91" cy="600.79" r="1.5" fill="rgb(218,28,34)"/>
<circle cx="272.08" cy="594.70" r="1.5" fill="rgb(218,28,34)"/>
<circle cx="279.98" cy="592.28" r="1.5" fill="rgb(218,28,34)"/>
<circle cx="265.98" cy="585.96" r="1.5" fill="rgb(218,28,34)"/>
<circle cx="267.94" cy="598.21" r="1.5" fill="rgb(218,28,34)"/>
<circle cx="270.07" cy="584.56" r="1.5" fill="rgb(218,28,34)"/>
<circle cx="273.02" cy="598.39" r="1.5" fill="rgb(218,28,34)"/>
<circle cx="269.40" cy="585.54" r="1.5" fill="rgb(218,28,34)"/>
<circle cx="271.87" cy="591.71" r="1.5" fill="rgb(218,28,34)"/>
<circle cx="265.09" cy="581.12" r="1.5" fill="rgb(218,28,34)"/>
<circle cx="265.40" cy="591.81" r="1.5" fill="rgb(218,28,34)"/>
<circle cx="278.51" cy="595.96" r="1.5" fill="rgb(218,28,34)"/>
<circle cx="270.87" cy="598.10" r="1.5" fill="rgb(218,28,34)"/>
<circle cx="265.79" cy="602.58" r="1.5" fill="rgb(218,28,34)"/>
<circle cx="279.62" cy="597.42" r="1.5" fill="rgb(218,28,34)"/>
<circle cx="279.48" cy="601.39" r="1.5" fill="rgb(218,28,34)"/>
<circle cx="277.48" cy="584.61" r="1.5" fill="rgb(218,28,34)"/>
<circle cx="266.89" cy="598.75" r="1.5" fill="rgb(218,28,34)"/>
<circle cx="277.25" cy="596.62" r="1.5" fill="rgb(218,28,34)"/>
<circle cx="274.05" cy="596.25" r="1.5" fill="rgb(218,28,34)"/>
<circle cx="269.54" cy="585.83" r="1.5" fill="rgb(218,28,34)"/>
<circle cx="278.32" cy="595.19" r="1.5" fill="rgb(218,28,34)"/>
<circle cx="277.31" cy="589.18" r="1.5" fill="rgb(218,28,34)"/>
<circle cx="267.65" cy="593.53" r="1.5" fill="rgb(218,28,34)"/>
<circle cx="265.22" cy="593.95" r="1.5" fill="rgb(218,28,34)"/>
<circle cx="277.16" cy="591.58" r="1.5" fill="rgb(218,28,34)"/>
<circle cx="267.13" cy="604.47" r="1.5" fill="rgb(218,28,34)"/>
<circle cx="265.32" cy="596.97" r="1.5" fill="rgb(218,28,34)"/>
<circle cx="269.84" cy="594.14" r="1.5" fill="rgb(218,28,34)"/>
<circle cx="267.55" cy="599.74" r="1.5" fill="rgb(218,28,34)"/>
<circle cx="274.16" cy="602.34" r="1.5" fill="rgb(218,28,34)"/>
<circle cx="273.75" cy="586.92" r="1.5" fill="rgb(218,28,34)"/>
<circle cx="270.44" cy="595.38" r="1.5" fill="rgb(218,28,34)"/>
<circle cx="265.03" cy="602.19" r="1.5" fill="rgb(218,28,34)"/>
<circle cx="277.83" cy="592.00" r="1.5" fill="rgb(218,28,34)"/>
<circle cx="84.48" cy="456.25" r="1.5" fill="rgb(248,140,58)"/>
<circle cx="73.92" cy="440.52" r="1.5" fill="rgb(248,140,58)"/>
<circle cx="71.09" cy="445.83" r="1.5" fill="rgb(248,140,58)"/>
<circle cx="81.44" cy="461.12" r="1.5" fill="rgb(248,140,58)"/>
<circle cx="71.28" cy="448.97" r="1.5" fill="rgb(248,140,58)"/>
<circle cx="70.92" cy="437.37" r="1.5" fill="rgb(248,140,58)"/>
<circle cx="75.45" cy="452.74" r="1.5" fill="rgb(248,140,58)"/>
<circle cx="83.69" cy="473.52" r="1.5" fill="rgb(248,140,58)"/>
<circle cx="82.36" cy="467.14" r="1.5" fill="rgb(248,140,58)"/>
<circle cx="82.90" cy="447.85" r="1.5" fill="rgb(248,140,58)"/>
<circle cx="83.40" cy="446.42" r="1.5" fill="rgb(248,140,58)"/>
<circle cx="66.92" cy="428.11" r="1.5" fill="rgb(248,140,58)"/>
<circle cx="79.55" cy="438.67" r="1.5" fill="rgb(248,140,58)"/>
<circle cx="77.92" cy="458.85" r="1.5" fill="rgb(248,140,58)"/>
<circle cx="71.29" cy="465.30" r="1.5" fill="rgb(248,140,58)"/>
<circle cx="68.36" cy="443.66" r="1.5" fill="rgb(248,140,58)"/>
<circle cx="74.74" cy="442.39" r="1.5" fill="rgb(248,140,58)"/>
<circle cx="79.67" cy="464.10" r="1.5" fill="rgb(248,140,58)"/>
<circle cx="84.06" cy="463.28" r="1.5" fill="rgb(248,140,58)"/>
<circle cx="71.57" cy="457.85" r="1.5" fill="rgb(248,140,58)"/>
<circle cx="76.31" cy="445.12" r="1.5" fill="rgb(248,140,58)"/>
<circle cx="68.99" cy="441.28" r="1.5" fill="rgb(248,140,58)"/>
<circle cx="69.85" cy="449.43" r="1.5" fill="rgb(248,140,58)"/>
<circle cx="70.07" cy="431.94" r="1.5" fill="rgb(248,140,58)"/>
<circle cx="82.77" cy="474.00" r="1.5" fill="rgb(248,140,58)"/>
<circle cx="68.58" cy="436.18" r="1.5" fill="rgb(248,140,58)"/>
<circle cx="69.56" cy="446.68" r="1.5" fill="rgb(248,140,58)"/>
<circle cx="67.69" cy="440.26" r="1.5" fill="rgb(248,140,58)"/>
<circle cx="70.42" cy="439.01" r="1.5" fill="rgb(248,140,58)"/>
<circle cx="82.41" cy="475.61" r="1.5" fill="rgb(248,140,58)"/>
<circle cx="79.87" cy="447.06" r="1.5" fill="rgb(248,140,58)"/>
<circle cx="75.70" cy="455.18" r="1.5" fill="rgb(248,140,58)"/>
<circle cx="72.97" cy="442.28" r="1.5" fill="rgb(248,140,58)"/>
<circle cx="71.13" cy="444.39" r="1.5" fill="rgb(248,140,58)"/>
<circle cx="83.90" cy="473.18" r="1.5" fill="rgb(248,140,58)"/>
<circle cx="77.65" cy="462.02" r="1.5" fill="rgb(248,140,58)"/>
<circle cx="81.96" cy="462.39" r="1.5" fill="rgb(248,140,58)"/>
<circle cx="70.60" cy="448.62" r="1.5" fill="rgb(248,140,58)"/>
<circle cx="176.70" cy="544.71" r="1.5" fill="rgb(248,140,58)"/>
<circle cx="169.89" cy="536.27" r="1.5" fill="rgb(248,140,58)"/>
<circle cx="180.07" cy="539.71" r="1.5" fill="rgb(248,140,58)"/>
<circle cx="184.90" cy="530.37" r="1.5" fill="rgb(248,140,58)"/>
<circle cx="178.90" cy="542.01" r="1.5" fill="rgb(248,140,58)"/>
<circle cx="183.27" cy="537.84" r="1.5" fill="rgb(248,140,58)"/>
<circle cx="173.69" cy="532.51" r="1.5" fill="rgb(248,140,58)"/>
<circle cx="174.03" cy="529.74" r="1.5" fill="rgb(248,140,58)"/>
<circle cx="178.94" cy="535.99" r="1.5" fill="rgb(248,140,58)"/>
<circle cx="169.69" cy="539.06" r="1.5" fill="rgb(248,140,58)"/>
<circle cx="185.41" cy="539.92" r="1.5" fill="rgb(248,140,58)"/>
<circle cx="182.18" cy="535.30" r="1.5" fill="rgb(248,140,58)"/>
<circle cx="177.06" cy="533.81" r="1.5" fill="rgb(248,140,58)"/>
<circle cx="170.11" cy="531.50" r="1.5" fill="rgb(248,140,58)"/>
<circle cx="183.85" cy="542.34" r="1.5" fill="rgb(248,140,58)"/>
<circle cx="175.11" cy="538.58" r="1.5" fill="rgb(248,140,58)"/>
<circle cx="174.81" cy="532.76" r="1.5" fill="rgb(248,140,58)"/>
<circle cx="177.01" cy="535.72" r="1.5" fill="rgb(248,140,58)"/>
<circle cx="173.33" cy="528.29" r="1.5" fill="rgb(248,140,58)"/>
<circle cx="176.58" cy="547.70" r="1.5" fill="rgb(248,140,58)"/>
<circle cx="186.27" cy="539.22" r="1.5" fill="rgb(248,140,58)"/>
<circle cx="170.07" cy="533.26" r="1.5" fill="rgb(248,140,58)"/>
<circle cx="172.55" cy="538.34" r="1.5" fill="rgb(248,140,58)"/>
<circle cx="171.73" cy="540.63" r="1.5" fill="rgb(248,140,58)"/>
<circle cx="184.30" cy="531.68" r="1.5" fill="rgb(248,140,58)"/>
<circle cx="186.05" cy="529.21" r="1.5" fill="rgb(248,140,58)"/>
<circle cx="176.89" cy="530.04" r="1.5" fill="rgb(248,140,58)"/>
<circle cx="170.63" cy="543.56" r="1.5" fill="rgb(248,140,58)"/>
<circle cx="175.60" cy="534.29" r="1.5" fill="rgb(248,140,58)"/>
<circle cx="182.40" cy="535.36" r="1.5" fill="rgb(248,140,58)"/>
<circle cx="186.00" cy="532.75" r="1.5" fill="rgb(248,140,58)"/>
<circle cx="178.05" cy="536.23" r="1.5" fill="rgb(248,140,58)"/>
<circle cx="177.24" cy="540.72" r="1.5" fill="rgb(248,140,58)"/>
<circle cx="182.79" cy="536.87" r="1.5" fill="rgb(248,140,58)"/>
<circle cx="175.25" cy="530.47" r="1.5" fill="rgb(248,140,58)"/>
<circle cx="183.05" cy="531.35" r="1.5" fill="rgb(248,140,58)"/>
<circle cx="175.36" cy="539.02" r="1.5" fill="rgb(248,140,58)"/>
<circle cx="171.01" cy="534.35" r="1.5" fill="rgb(248,140,58)"/>
<circle cx="173.72" cy="540.46" r="1.5" fill="rgb(248,140,58)"/>
<circle cx="184.75" cy="533.70" r="1.5" fill="rgb(248,140,58)"/>
<circle cx="179.70" cy="531.58" r="1.5" fill="rgb(248,140,58)"/>
<circle cx="173.92" cy="534.11" r="1.5" fill="rgb(248,140,58)"/>
<circle cx="176.63" cy="541.40" r="1.5" fill="rgb(248,140,58)"/>
<circle cx="181.26" cy="540.79" r="1.5" fill="rgb(248,140,58)"/>
<circle cx="184.63" cy="529.49" r="1.5" fill="rgb(248,140,58)"/>
<circle cx="172.91" cy="538.81" r="1.5" fill="rgb(248,140,58)"/>
<circle cx="185.09" cy="542.18" r="1.5" fill="rgb(248,140,58)"/>
<circle cx="171.40" cy="533.85" r="1.5" fill="rgb(248,140,58)"/>
<circle cx="172.04" cy="536.06" r="1.5" fill="rgb(248,140,58)"/>
<circle cx="173.16" cy="529.34" r="1.5" fill="rgb(248,140,58)"/>
<circle cx="175.12" cy="530.10" r="1.5" fill="rgb(248,140,58)"/>
<circle cx="171.32" cy="530.67" r="1.5" fill="rgb(248,140,58)"/>
<circle cx="267.95" cy="563.47" r="1.5" fill="rgb(248,140,58)"/>
<circle cx="282.16" cy="564.11" r="1.5" fill="rgb(248,140,58)"/>
<circle cx="280.56" cy="568.72" r="1.5" fill="rgb(248,140,58)"/>
<circle cx="268.67" cy="568.91" r="1.5" fill="rgb(248,140,58)"/>
<circle cx="272.31" cy="560.69" r="1.5" fill="rgb(248,140,58)"/>
<circle cx="274.93" cy="567.86" r="1.5" fill="rgb(248,140,58)"/>
<circle cx="271.68" cy="564.16" r="1.5" fill="rgb(248,140,58)"/>
<circle cx="281.66" cy="570.78" r="1.5" fill="rgb(248,140,58)"/>
<circle cx="268.55" cy="567.81" r="1.5" fill="rgb(248,140,58)"/>
<circle cx="265.96" cy="569.96" r="1.5" fill="rgb(248,140,58)"/>
<circle cx="279.84" cy="563.73" r="1.5" fill="rgb(248,140,58)"/>
<circle cx="280.23" cy="563.91" r="1.5" fill="rgb(248,140,58)"/>
<circle cx="274.32" cy="565.74" r="1.5" fill="rgb(248,140,58)"/>
<circle cx="281.15" cy="560.41" r="1.5" fill="rgb(248,140,58)"/>
<circle cx="280.09" cy="566.54" r="1.5" fill="rgb(248,140,58)"/>
<circle cx="270.51" cy="567.48" r="1.5" fill="rgb(248,140,58)"/>
<circle cx="273.04" cy="564.35" r="1.5" fill="rgb(248,140,58)"/>
<circle cx="269.23" cy="564.32" r="1.5" fill="rgb(248,140,58)"/>
<circle cx="273.52" cy="558.45" r="1.5" fill="rgb(248,140,58)"/>
<circle cx="272.96" cy="560.26" r="1.5" fill="rgb(248,140,58)"/>
<circle cx="278.20" cy="565.47" r="1.5" fill="rgb(248,140,58)"/>
<circle cx="271.80" cy="573.09" r="1.5" fill="rgb(248,140,58)"/>
<circle cx="278.18" cy="567.71" r="1.5" fill="rgb(248,140,58)"/>
<circle cx="282.22" cy="572.09" r="1.5" fill="rgb(248,140,58)"/>
<circle cx="266.18" cy="569.50" r="1.5" fill="rgb(248,140,58)"/>
<circle cx="269.95" cy="570.48" r="1.5" fill="rgb(248,140,58)"/>
<circle cx="268.75" cy="559.39" r="1.5" fill="rgb(248,140,58)"/>
<circle cx="268.28" cy="571.37" r="1.5" fill="rgb(248,140,58)"/>
<circle cx="268.04" cy="567.25" r="1.5" fill="rgb(248,140,58)"/>
<circle cx="271.48" cy="572.07" r="1.5" fill="rgb(248,140,58)"/>
<circle cx="266.88" cy="571.17" r="1.5" fill="rgb(248,140,58)"/>
<circle cx="269.77" cy="570.48" r="1.5" fill="rgb(248,140,58)"/>
<circle cx="272.96" cy="567.57" r="1.5" fill="rgb(248,140,58)"/>
<circle cx="269.57" cy="570.40" r="1.5" fill="rgb(248,140,58)"/>
<circle cx="270.63" cy="562.45" r="1.5" fill="rgb(248,140,58)"/>
<circle cx="272.78" cy="563.15" r="1.5" fill="rgb(248,140,58)"/>
<circle cx="276.76" cy="557.56" r="1.5" fill="rgb(248,140,58)"/>
<circle cx="271.43" cy="562.37" r="1.5" fill="rgb(248,140,58)"/>
<circle cx="276.23" cy="563.35" r="1.5" fill="rgb(248,140,58)"/>
<circle cx="267.69" cy="569.49" r="1.5" fill="rgb(248,140,58)"/>
<circle cx="272.24" cy="564.56" r="1.5" fill="rgb(248,140,58)"/>
<circle cx="271.31" cy="570.50" r="1.5" fill="rgb(248,140,58)"/>
<circle cx="269.47" cy="564.89" r="1.5" fill="rgb(248,140,58)"/>
<circle cx="269.28" cy="564.18" r="1.5" fill="rgb(248,140,58)"/>
<circle cx="83.41" cy="458.15" r="1.5" fill="rgb(253,205,115)"/>
<circle cx="77.25" cy="448.29" r="1.5" fill="rgb(253,205,115)"/>
<circle cx="75.38" cy="424.83" r="1.5" fill="rgb(253,205,115)"/>
<circle cx="69.23" cy="410.54" r="1.5" fill="rgb(253,205,115)"/>
<circle cx="71.72" cy="430.93" r="1.5" fill="rgb(253,205,115)"/>
<circle cx="82.45" cy="455.01" r="1.5" fill="rgb(253,205,115)"/>
<circle cx="80.49" cy="447.58" r="1.5" fill="rgb(253,205,115)"/>
<circle cx="81.62" cy="448.60" r="1.5" fill="rgb(253,205,115)"/>
<circle cx="79.79" cy="427.34" r="1.5" fill="rgb(253,205,115)"/>
<circle cx="74.37" cy="441.14" r="1.5" fill="rgb(253,205,115)"/>
<circle cx="70.18" cy="436.21" r="1.5" fill="rgb(253,205,115)"/>
<circle cx="66.72" cy="428.45" r="1.5" fill="rgb(253,205,115)"/>
<circle cx="72.21" cy="432.93" r="1.5" fill="rgb(253,205,115)"/>
<circle cx="81.64" cy="431.45" r="1.5" fill="rgb(253,205,115)"/>
<circle cx="79.17" cy="443.97" r="1.5" fill="rgb(253,205,115)"/>
<circle cx="74.07" cy="451.49" r="1.5" fill="rgb(253,205,115)"/>
<circle cx="80.59" cy="438.73" r="1.5" fill="rgb(253,205,115)"/>
<circle cx="77.88" cy="441.81" r="1.5" fill="rgb(253,205,115)"/>
<circle cx="83.86" cy="459.03" r="1.5" fill="rgb(253,205,115)"/>
<circle cx="66.28" cy="446.49" r="1.5" fill="rgb(253,205,115)"/>
<circle cx="70.82" cy="432.20" r="1.5" fill="rgb(253,205,115)"/>
<circle cx="83.48" cy="472.99" r="1.5" fill="rgb(253,205,115)"/>
<circle cx="79.80" cy="435.17" r="1.5" fill="rgb(253,205,115)"/>
<circle cx="72.08" cy="454.63" r="1.5" fill="rgb(253,205,115)"/>
<circle cx="70.42" cy="443.92" r="1.5" fill="rgb(253,205,115)"/>
<circle cx="78.82" cy="435.58" r="1.5" fill="rgb(253,205,115)"/>
<circle cx="78.31" cy="457.35" r="1.5" fill="rgb(253,205,115)"/>
<circle cx="81.53" cy="447.99" r="1.5" fill="rgb(253,205,115)"/>
<circle cx="78.91" cy="453.08" r="1.5" fill="rgb(253,205,115)"/>
<circle cx="79.41" cy="435.89" r="1.5" fill="rgb(253,205,115)"/>
<circle cx="76.55" cy="437.85" r="1.5" fill="rgb(253,205,115)"/>
<circle cx="77.52" cy="450.28" r="1.5" fill="rgb(253,205,115)"/>
<circle cx="67.44" cy="430.07" r="1.5" fill="rgb(253,205,115)"/>
<circle cx="66.50" cy="419.13" r="1.5" fill="rgb(253,205,115)"/>
<circle cx="67.97" cy="435.31" r="1.5" fill="rgb(253,205,115)"/>
<circle cx="68.62" cy="421.76" r="1.5" fill="rgb(253,205,115)"/>
<circle cx="66.53" cy="440.56" r="1.5" fill="rgb(253,205,115)"/>
<circle cx="77.73" cy="447.68" r="1.5" fill="rgb(253,205,115)"/>
<circle cx="182.05" cy="529.59" r="1.5" fill="rgb(253,205,115)"/>
<circle cx="184.22" cy="538.44" r="1.5" fill="rgb(253,205,115)"/>
<circle cx="185.96" cy="525.43" r="1.5" fill="rgb(253,205,115)"/>
<circle cx="170.12" cy="540.26" r="1.5" fill="rgb(253,205,115)"/>
<circle cx="180.87" cy="530.87" r="1.5" fill="rgb(253,205,115)"/>
<circle cx="173.19" cy="525.16" r="1.5" fill="rgb(253,205,115)"/>
<circle cx="174.59" cy="538.05" r="1.5" fill="rgb(253,205,115)"/>
<circle cx="178.57" cy="530.78" r="1.5" fill="rgb(253,205,115)"/>
<circle cx="177.36" cy="534.04" r="1.5" fill="rgb(253,205,115)"/>
<circle cx="173.40" cy="528.66" r="1.5" fill="rgb(253,205,115)"/>
<circle cx="169.52" cy="527.12" r="1.5" fill="rgb(253,205,115)"/>
<circle cx="178.33" cy="531.80" r="1.5" fill="rgb(253,205,115)"/>
<circle cx="175.75" cy="531.47" r="1.5" fill="rgb(253,205,115)"/>
<circle cx="173.36" cy="533.01" r="1.5" fill="rgb(253,205,115)"/>
<circle cx="170.96" cy="537.39" r="1.5" fill="rgb(253,205,115)"/>
<circle cx="175.90" cy="527.08" r="1.5" fill="rgb(253,205,115)"/>
<circle cx="185.49" cy="532.92" r="1.5" fill="rgb(253,205,115)"/>
<circle cx="178.52" cy="531.44" r="1.5" fill="rgb(253,205,115)"/>
<circle cx="179.07" cy="532.93" r="1.5" fill="rgb(253,205,115)"/>
<circle cx="175.38" cy="536.14" r="1.5" fill="rgb(253,205,115)"/>
<circle cx="172.55" cy="528.12" r="1.5" fill="rgb(253,205,115)"/>
<circle cx="177.82" cy="528.36" r="1.5" fill="rgb(253,205,115)"/>
<circle cx="182.16" cy="526.85" r="1.5" fill="rgb(253,205,115)"/>
<circle cx="175.38" cy="525.37" r="1.5" fill="rgb(253,205,115)"/>
<circle cx="187.05" cy="527.79" r="1.5" fill="rgb(253,205,115)"/>
<circle cx="176.42" cy="535.81" r="1.5" fill="rgb(253,205,115)"/>
<circle cx="173.03" cy="527.88" r="1.5" fill="rgb(253,205,115)"/>
<circle cx="170.11" cy="533.80" r="1.5" fill="rgb(253,205,115)"/>
<circle cx="180.88" cy="529.31" r="1.5" fill="rgb(253,205,115)"/>
<circle cx="182.84" cy="537.41" r="1.5" fill="rgb(253,205,115)"/>
<circle cx="177.08" cy="537.38" r="1.5" fill="rgb(253,205,115)"/>
<circle cx="182.10" cy="534.50" r="1.5" fill="rgb(253,205,115)"/>
<circle cx="175.13" cy="534.30" r="1.5" fill="rgb(253,205,115)"/>
<circle cx="182.34" cy="530.45" r="1.5" fill="rgb(253,205,115)"/>
<circle cx="180.69" cy="529.97" r="1.5" fill="rgb(253,205,115)"/>
<circle cx="181.28" cy="539.38" r="1.5" fill="rgb(253,205,115)"/>
<circle cx="170.19" cy="538.10" r="1.5" fill="rgb(253,205,115)"/>
<circle cx="178.85" cy="533.72" r="1.5" fill="rgb(253,205,115)"/>
<circle cx="178.72" cy="533.03" r="1.5" fill="rgb(253,205,115)"/>
<circle cx="186.56" cy="534.68" r="1.5" fill="rgb(253,205,115)"/>
<circle cx="171.70" cy="528.36" r="1.5" fill="rgb(253,205,115)"/>
<circle cx="176.69" cy="531.75" r="1.5" fill="rgb(253,205,115)"/>
<circle cx="175.84" cy="536.90" r="1.5" fill="rgb(253,205,115)"/>
<circle cx="178.99" cy="527.56" r="1.5" fill="rgb(253,205,115)"/>
<circle cx="171.83" cy="534.93" r="1.5" fill="rgb(253,205,115)"/>
<circle cx="179.62" cy="534.14" r="1.5" fill="rgb(253,205,115)"/>
<circle cx="184.24" cy="533.04" r="1.5" fill="rgb(253,205,115)"/>
<circle cx="171.75" cy="531.26" r="1.5" fill="rgb(253,205,115)"/>
<circle cx="176.27" cy="522.08" r="1.5" fill="rgb(253,205,115)"/>
<circle cx="182.49" cy="528.58" r="1.5" fill="rgb(253,205,115)"/>
<circle cx="177.21" cy="538.74" r="1.5" fill="rgb(253,205,115)"/>
<circle cx="184.88" cy="537.33" r="1.5" fill="rgb(253,205,115)"/>
<circle cx="267.53" cy="551.80" r="1.5" fill="rgb(253,205,115)"/>
<circle cx="282.13" cy="551.50" r="1.5" fill="rgb(253,205,115)"/>
<circle cx="269.21" cy="561.29" r="1.5" fill="rgb(253,205,115)"/>
<circle cx="279.25" cy="561.38" r="1.5" fill="rgb(253,205,115)"/>
<circle cx="277.03" cy="557.93" r="1.5" fill="rgb(253,205,115)"/>
<circle cx="277.47" cy="562.71" r="1.5" fill="rgb(253,205,115)"/>
<circle cx="274.99" cy="554.12" r="1.5" fill="rgb(253,205,115)"/>
<circle cx="266.05" cy="555.96" r="1.5" fill="rgb(253,205,115)"/>
<circle cx="274.71" cy="557.94" r="1.5" fill="rgb(253,205,115)"/>
<circle cx="275.13" cy="558.03" r="1.5" fill="rgb(253,205,115)"/>
<circle cx="282.29" cy="551.50" r="1.5" fill="rgb(253,205,115)"/>
<circle cx="275.97" cy="564.74" r="1.5" fill="rgb(253,205,115)"/>
<circle cx="274.19" cy="559.69" r="1.5" fill="rgb(253,205,115)"/>
<circle cx="276.26" cy="557.46" r="1.5" fill="rgb(253,205,115)"/>
<circle cx="274.46" cy="556.29" r="1.5" fill="rgb(253,205,115)"/>
<circle cx="274.97" cy="558.11" r="1.5" fill="rgb(253,205,115)"/>
<circle cx="274.07" cy="560.25" r="1.5" fill="rgb(253,205,115)"/>
<circle cx="279.26" cy="556.38" r="1.5" fill="rgb(253,205,115)"/>
<circle cx="276.43" cy="562.11" r="1.5" fill="rgb(253,205,115)"/>
<circle cx="274.82" cy="549.55" r="1.5" fill="rgb(253,205,115)"/>
<circle cx="281.59" cy="564.34" r="1.5" fill="rgb(253,205,115)"/>
<circle cx="276.01" cy="560.29" r="1.5" fill="rgb(253,205,115)"/>
<circle cx="277.26" cy="559.90" r="1.5" fill="rgb(253,205,115)"/>
<circle cx="266.82" cy="560.32" r="1.5" fill="rgb(253,205,115)"/>
<circle cx="276.80" cy="560.05" r="1.5" fill="rgb(253,205,115)"/>
<circle cx="269.64" cy="554.95" r="1.5" fill="rgb(253,205,115)"/>
<circle cx="276.55" cy="552.42" r="1.5" fill="rgb(253,205,115)"/>
<circle cx="267.14" cy="559.97" r="1.5" fill="rgb(253,205,115)"/>
<circle cx="265.25" cy="564.63" r="1.5" fill="rgb(253,205,115)"/>
<circle cx="273.56" cy="552.88" r="1.5" fill="rgb(253,205,115)"/>
<circle cx="267.73" cy="550.10" r="1.5" fill="rgb(253,205,115)"/>
<circle cx="282.39" cy="550.37" r="1.5" fill="rgb(253,205,115)"/>
<circle cx="277.95" cy="551.04" r="1.5" fill="rgb(253,205,115)"/>
<circle cx="278.93" cy="555.78" r="1.5" fill="rgb(253,205,115)"/>
<circle cx="276.32" cy="556.98" r="1.5" fill="rgb(253,205,115)"/>
<circle cx="282.36" cy="556.33" r="1.5" fill="rgb(253,205,115)"/>
<circle cx="279.71" cy="552.20" r="1.5" fill="rgb(253,205,115)"/>
<circle cx="280.50" cy="556.11" r="1.5" fill="rgb(253,205,115)"/>
<circle cx="272.90" cy="556.38" r="1.5" fill="rgb(253,205,115)"/>
<circle cx="276.61" cy="560.54" r="1.5" fill="rgb(253,205,115)"/>
<circle cx="282.01" cy="553.00" r="1.5" fill="rgb(253,205,115)"/>
<circle cx="282.53" cy="560.11" r="1.5" fill="rgb(253,205,115)"/>
<circle cx="282.59" cy="557.60" r="1.5" fill="rgb(253,205,115)"/>
<circle cx="280.99" cy="562.68" r="1.5" fill="rgb(253,205,115)"/>
<circle cx="80.94" cy="438.53" r="1.5" fill="rgb(198,230,168)"/>
<circle cx="70.87" cy="421.30" r="1.5" fill="rgb(198,230,168)"/>
<circle cx="73.82" cy="405.41" r="1.5" fill="rgb(198,230,168)"/>
<circle cx="82.42" cy="428.96" r="1.5" fill="rgb(198,230,168)"/>
<circle cx="66.78" cy="425.07" r="1.5" fill="rgb(198,230,168)"/>
<circle cx="82.04" cy="420.09" r="1.5" fill="rgb(198,230,168)"/>
<circle cx="76.58" cy="427.06" r="1.5" fill="rgb(198,230,168)"/>
<circle cx="80.93" cy="463.77" r="1.5" fill="rgb(198,230,168)"/>
<circle cx="78.67" cy="444.88" r="1.5" fill="rgb(198,230,168)"/>
<circle cx="67.57" cy="408.44" r="1.5" fill="rgb(198,230,168)"/>
<circle cx="76.24" cy="432.79" r="1.5" fill="rgb(198,230,168)"/>
<circle cx="79.88" cy="428.47" r="1.5" fill="rgb(198,230,168)"/>
<circle cx="83.24" cy="444.61" r="1.5" fill="rgb(198,230,168)"/>
<circle cx="78.54" cy="452.04" r="1.5" fill="rgb(198,230,168)"/>
<circle cx="74.61" cy="429.98" r="1.5" fill="rgb(198,230,168)"/>
<circle cx="79.90" cy="446.41" r="1.5" fill="rgb(198,230,168)"/>
<circle cx="80.65" cy="432.77" r="1.5" fill="rgb(198,230,168)"/>
<circle cx="80.92" cy="440.05" r="1.5" fill="rgb(198,230,168)"/>
<circle cx="80.29" cy="439.35" r="1.5" fill="rgb(198,230,168)"/>
<circle cx="82.59" cy="458.68" r="1.5" fill="rgb(198,230,168)"/>
<circle cx="82.37" cy="426.62" r="1.5" fill="rgb(198,230,168)"/>
<circle cx="76.90" cy="429.40" r="1.5" fill="rgb(198,230,168)"/>
<circle cx="69.50" cy="421.01" r="1.5" fill="rgb(198,230,168)"/>
<circle cx="78.97" cy="442.82" r="1.5" fill="rgb(198,230,168)"/>
<circle cx="72.71" cy="411.76" r="1.5" fill="rgb(198,230,168)"/>
<circle cx="75.57" cy="423.83" r="1.5" fill="rgb(198,230,168)"/>
<circle cx="68.76" cy="459.52" r="1.5" fill="rgb(198,230,168)"/>
<circle cx="72.92" cy="436.56" r="1.5" fill="rgb(198,230,168)"/>
<circle cx="67.96" cy="399.96" r="1.5" fill="rgb(198,230,168)"/>
<circle cx="68.89" cy="400.06" r="1.5" fill="rgb(198,230,168)"/>
<circle cx="77.05" cy="422.85" r="1.5" fill="rgb(198,230,168)"/>
<circle cx="66.38" cy="425.51" r="1.5" fill="rgb(198,230,168)"/>
<circle cx="66.62" cy="438.94" r="1.5" fill="rgb(198,230,168)"/>
<circle cx="75.00" cy="426.42" r="1.5" fill="rgb(198,230,168)"/>
<circle cx="76.49" cy="429.04" r="1.5" fill="rgb(198,230,168)"/>
<circle cx="73.88" cy="448.52" r="1.5" fill="rgb(198,230,168)"/>
<circle cx="83.51" cy="445.92" r="1.5" fill="rgb(198,230,168)"/>
<circle cx="83.82" cy="420.00" r="1.5" fill="rgb(198,230,168)"/>
<circle cx="70.70" cy="428.72" r="1.5" fill="rgb(198,230,168)"/>
<circle cx="69.34" cy="419.87" r="1.5" fill="rgb(198,230,168)"/>
<circle cx="171.01" cy="521.65" r="1.5" fill="rgb(198,230,168)"/>
<circle cx="186.55" cy="521.13" r="1.5" fill="rgb(198,230,168)"/>
<circle cx="171.66" cy="526.60" r="1.5" fill="rgb(198,230,168)"/>
<circle cx="186.72" cy="516.61" r="1.5" fill="rgb(198,230,168)"/>
<circle cx="186.88" cy="516.78" r="1.5" fill="rgb(198,230,168)"/>
<circle cx="175.84" cy="521.25" r="1.5" fill="rgb(198,230,168)"/>
<circle cx="183.65" cy="519.64" r="1.5" fill="rgb(198,230,168)"/>
<circle cx="172.11" cy="524.06" r="1.5" fill="rgb(198,230,168)"/>
<circle cx="180.15" cy="516.42" r="1.5" fill="rgb(198,230,168)"/>
<circle cx="171.73" cy="512.69" r="1.5" fill="rgb(198,230,168)"/>
<circle cx="181.70" cy="511.03" r="1.5" fill="rgb(198,230,168)"/>
<circle cx="186.20" cy="532.34" r="1.5" fill="rgb(198,230,168)"/>
<circle cx="172.02" cy="528.33" r="1.5" fill="rgb(198,230,168)"/>
<circle cx="180.81" cy="522.78" r="1.5" fill="rgb(198,230,168)"/>
<circle cx="180.81" cy="519.95" r="1.5" fill="rgb(198,230,168)"/>
<circle cx="179.46" cy="519.68" r="1.5" fill="rgb(198,230,168)"/>
<circle cx="172.30" cy="516.37" r="1.5" fill="rgb(198,230,168)"/>
<circle cx="178.34" cy="529.92" r="1.5" fill="rgb(198,230,168)"/>
<circle cx="170.52" cy="523.71" r="1.5" fill="rgb(198,230,168)"/>
<circle cx="174.65" cy="527.15" r="1.5" fill="rgb(198,230,168)"/>
<circle cx="187.47" cy="528.34" r="1.5" fill="rgb(198,230,168)"/>
<circle cx="170.53" cy="516.94" r="1.5" fill="rgb(198,230,168)"/>
<circle cx="184.03" cy="522.38" r="1.5" fill="rgb(198,230,168)"/>
<circle cx="178.98" cy="517.76" r="1.5" fill="rgb(198,230,168)"/>
<circle cx="179.78" cy="523.80" r="1.5" fill="rgb(198,230,168)"/>
<circle cx="173.04" cy="518.19" r="1.5" fill="rgb(198,230,168)"/>
<circle cx="174.43" cy="528.11" r="1.5" fill="rgb(198,230,168)"/>
<circle cx="179.99" cy="517.98" r="1.5" fill="rgb(198,230,168)"/>
<circle cx="182.49" cy="526.74" r="1.5" fill="rgb(198,230,168)"/>
<circle cx="185.06" cy="521.62" r="1.5" fill="rgb(198,230,168)"/>
<circle cx="185.20" cy="518.91" r="1.5" fill="rgb(198,230,168)"/>
<circle cx="172.44" cy="519.76" r="1.5" fill="rgb(198,230,168)"/>
<circle cx="177.52" cy="527.17" r="1.5" fill="rgb(198,230,168)"/>
<circle cx="185.08" cy="526.39" r="1.5" fill="rgb(198,230,168)"/>
<circle cx="170.60" cy="527.53" r="1.5" fill="rgb(198,230,168)"/>
<circle cx="179.05" cy="517.81" r="1.5" fill="rgb(198,230,168)"/>
<circle cx="172.78" cy="512.35" r="1.5" fill="rgb(198,230,168)"/>
<circle cx="171.24" cy="520.81" r="1.5" fill="rgb(198,230,168)"/>
<circle cx="179.88" cy="527.97" r="1.5" fill="rgb(198,230,168)"/>
<circle cx="182.41" cy="517.62" r="1.5" fill="rgb(198,230,168)"/>
<circle cx="174.53" cy="519.23" r="1.5" fill="rgb(198,230,168)"/>
<circle cx="185.00" cy="516.43" r="1.5" fill="rgb(198,230,168)"/>
<circle cx="184.37" cy="529.88" r="1.5" fill="rgb(198,230,168)"/>
<circle cx="178.96" cy="523.26" r="1.5" fill="rgb(198,230,168)"/>
<circle cx="173.83" cy="529.30" r="1.5" fill="rgb(198,230,168)"/>
<circle cx="185.93" cy="524.07" r="1.5" fill="rgb(198,230,168)"/>
<circle cx="186.74" cy="525.44" r="1.5" fill="rgb(198,230,168)"/>
<circle cx="176.06" cy="519.86" r="1.5" fill="rgb(198,230,168)"/>
<circle cx="169.87" cy="532.40" r="1.5" fill="rgb(198,230,168)"/>
<circle cx="180.90" cy="520.64" r="1.5" fill="rgb(198,230,168)"/>
<circle cx="181.05" cy="521.59" r="1.5" fill="rgb(198,230,168)"/>
<circle cx="186.14" cy="520.71" r="1.5" fill="rgb(198,230,168)"/>
<circle cx="282.12" cy="546.61" r="1.5" fill="rgb(198,230,168)"/>
<circle cx="275.70" cy="551.98" r="1.5" fill="rgb(198,230,168)"/>
<circle cx="274.61" cy="545.50" r="1.5" fill="rgb(198,230,168)"/>
<circle cx="272.32" cy="548.90" r="1.5" fill="rgb(198,230,168)"/>
<circle cx="280.12" cy="549.52" r="1.5" fill="rgb(198,230,168)"/>
<circle cx="277.79" cy="551.60" r="1.5" fill="rgb(198,230,168)"/>
<circle cx="270.59" cy="548.44" r="1.5" fill="rgb(198,230,168)"/>
<circle cx="275.54" cy="547.80" r="1.5" fill="rgb(198,230,168)"/>
<circle cx="275.02" cy="550.28" r="1.5" fill="rgb(198,230,168)"/>
<circle cx="278.90" cy="549.46" r="1.5" fill="rgb(198,230,168)"/>
<circle cx="266.12" cy="547.62" r="1.5" fill="rgb(198,230,168)"/>
<circle cx="269.05" cy="551.02" r="1.5" fill="rgb(198,230,168)"/>
<circle cx="271.34" cy="557.12" r="1.5" fill="rgb(198,230,168)"/>
<circle cx="274.32" cy="553.84" r="1.5" fill="rgb(198,230,168)"/>
<circle cx="279.13" cy="556.27" r="1.5" fill="rgb(198,230,168)"/>
<circle cx="265.08" cy="557.58" r="1.5" fill="rgb(198,230,168)"/>
<circle cx="275.30" cy="554.64" r="1.5" fill="rgb(198,230,168)"/>
<circle cx="271.83" cy="549.79" r="1.5" fill="rgb(198,230,168)"/>
<circle cx="272.03" cy="553.68" r="1.5" fill="rgb(198,230,168)"/>
<circle cx="280.29" cy="548.14" r="1.5" fill="rgb(198,230,168)"/>
<circle cx="267.61" cy="555.02" r="1.5" fill="rgb(198,230,168)"/>
<circle cx="270.83" cy="552.39" r="1.5" fill="rgb(198,230,168)"/>
<circle cx="272.68" cy="550.32" r="1.5" fill="rgb(198,230,168)"/>
<circle cx="273.95" cy="559.30" r="1.5" fill="rgb(198,230,168)"/>
<circle cx="274.31" cy="550.33" r="1.5" fill="rgb(198,230,168)"/>
<circle cx="275.70" cy="553.43" r="1.5" fill="rgb(198,230,168)"/>
<circle cx="266.78" cy="551.71" r="1.5" fill="rgb(198,230,168)"/>
<circle cx="280.84" cy="554.18" r="1.5" fill="rgb(198,230,168)"/>
<circle cx="282.93" cy="548.71" r="1.5" fill="rgb(198,230,168)"/>
<circle cx="270.73" cy="550.27" r="1.5" fill="rgb(198,230,168)"/>
<circle cx="281.10" cy="559.08" r="1.5" fill="rgb(198,230,168)"/>
<circle cx="272.58" cy="549.65" r="1.5" fill="rgb(198,230,168)"/>
<circle cx="268.39" cy="549.66" r="1.5" fill="rgb(198,230,168)"/>
<circle cx="282.89" cy="553.09" r="1.5" fill="rgb(198,230,168)"/>
<circle cx="270.52" cy="553.34" r="1.5" fill="rgb(198,230,168)"/>
<circle cx="275.55" cy="551.58" r="1.5" fill="rgb(198,230,168)"/>
<circle cx="269.79" cy="554.65" r="1.5" fill="rgb(198,230,168)"/>
<circle cx="272.40" cy="545.75" r="1.5" fill="rgb(198,230,168)"/>
<circle cx="266.80" cy="552.74" r="1.5" fill="rgb(198,230,168)"/>
<circle cx="279.52" cy="547.35" r="1.5" fill="rgb(198,230,168)"/>
<circle cx="277.88" cy="544.81" r="1.5" fill="rgb(198,230,168)"/>
<circle cx="281.27" cy="549.88" r="1.5" fill="rgb(198,230,168)"/>
<circle cx="265.98" cy="554.13" r="1.5" fill="rgb(198,230,168)"/>
<circle cx="276.16" cy="554.26" r="1.5" fill="rgb(198,230,168)"/>
<circle cx="71.82" cy="435.01" r="1.5" fill="rgb(122,200,178)"/>
<circle cx="71.62" cy="398.63" r="1.5" fill="rgb(122,200,178)"/>
<circle cx="77.15" cy="439.73" r="1.5" fill="rgb(122,200,178)"/>
<circle cx="83.57" cy="431.36" r="1.5" fill="rgb(122,200,178)"/>
<circle cx="70.49" cy="394.73" r="1.5" fill="rgb(122,200,178)"/>
<circle cx="70.10" cy="425.40" r="1.5" fill="rgb(122,200,178)"/>
<circle cx="71.72" cy="425.51" r="1.5" fill="rgb(122,200,178)"/>
<circle cx="80.67" cy="418.83" r="1.5" fill="rgb(122,200,178)"/>
<circle cx="70.50" cy="418.01" r="1.5" fill="rgb(122,200,178)"/>
<circle cx="69.45" cy="421.71" r="1.5" fill="rgb(122,200,178)"/>
<circle cx="83.97" cy="431.61" r="1.5" fill="rgb(122,200,178)"/>
<circle cx="68.13" cy="425.02" r="1.5" fill="rgb(122,200,178)"/>
<circle cx="75.87" cy="410.87" r="1.5" fill="rgb(122,200,178)"/>
<circle cx="67.21" cy="415.35" r="1.5" fill="rgb(122,200,178)"/>
<circle cx="68.28" cy="413.88" r="1.5" fill="rgb(122,200,178)"/>
<circle cx="70.53" cy="400.38" r="1.5" fill="rgb(122,200,178)"/>
<circle cx="69.54" cy="408.01" r="1.5" fill="rgb(122,200,178)"/>
<circle cx="66.65" cy="415.04" r="1.5" fill="rgb(122,200,178)"/>
<circle cx="78.29" cy="421.49" r="1.5" fill="rgb(122,200,178)"/>
<circle cx="79.06" cy="434.15" r="1.5" fill="rgb(122,200,178)"/>
<circle cx="67.71" cy="403.61" r="1.5" fill="rgb(122,200,178)"/>
<circle cx="68.36" cy="434.43" r="1.5" fill="rgb(122,200,178)"/>
<circle cx="74.20" cy="431.63" r="1.5" fill="rgb(122,200,178)"/>
<circle cx="68.95" cy="387.42" r="1.5" fill="rgb(122,200,178)"/>
<circle cx="72.53" cy="413.21" r="1.5" fill="rgb(122,200,178)"/>
<circle cx="83.73" cy="422.30" r="1.5" fill="rgb(122,200,178)"/>
<circle cx="69.85" cy="426.54" r="1.5" fill="rgb(122,200,178)"/>
<circle cx="70.20" cy="406.33" r="1.5" fill="rgb(122,200,178)"/>
<circle cx="74.37" cy="433.79" r="1.5" fill="rgb(122,200,178)"/>
<circle cx="70.82" cy="428.55" r="1.5" fill="rgb(122,200,178)"/>
<circle cx="82.64" cy="422.32" r="1.5" fill="rgb(122,200,178)"/>
<circle cx="70.56" cy="404.99" r="1.5" fill="rgb(122,200,178)"/>
<circle cx="77.25" cy="430.68" r="1.5" fill="rgb(122,200,178)"/>
<circle cx="68.27" cy="435.51" r="1.5" fill="rgb(122,200,178)"/>
<circle cx="75.49" cy="410.16" r="1.5" fill="rgb(122,200,178)"/>
<circle cx="80.28" cy="426.56" r="1.5" fill="rgb(122,200,178)"/>
<circle cx="73.12" cy="406.66" r="1.5" fill="rgb(122,200,178)"/>
<circle cx="71.75" cy="398.99" r="1.5" fill="rgb(122,200,178)"/>
<circle cx="73.21" cy="424.28" r="1.5" fill="rgb(122,200,178)"/>
<circle cx="81.74" cy="436.64" r="1.5" fill="rgb(122,200,178)"/>
<circle cx="71.94" cy="410.99" r="1.5" fill="rgb(122,200,178)"/>
<circle cx="76.40" cy="416.77" r="1.5" fill="rgb(122,200,178)"/>
<circle cx="72.69" cy="404.09" r="1.5" fill="rgb(122,200,178)"/>
<circle cx="67.22" cy="405.97" r="1.5" fill="rgb(122,200,178)"/>
<circle cx="175.10" cy="512.14" r="1.5" fill="rgb(122,200,178)"/>
<circle cx="176.76" cy="532.62" r="1.5" fill="rgb(122,200,178)"/>
<circle cx="171.88" cy="518.85" r="1.5" fill="rgb(122,200,178)"/>
<circle cx="175.83" cy="515.94" r="1.5" fill="rgb(122,200,178)"/>
<circle cx="184.74" cy="509.55" r="1.5" fill="rgb(122,200,178)"/>
<circle cx="185.93" cy="510.18" r="1.5" fill="rgb(122,200,178)"/>
<circle cx="172.42" cy="506.33" r="1.5" fill="rgb(122,200,178)"/>
<circle cx="175.10" cy="521.33" r="1.5" fill="rgb(122,200,178)"/>
<circle cx="182.40" cy="515.33" r="1.5" fill="rgb(122,200,178)"/>
<circle cx="169.52" cy="512.83" r="1.5" fill="rgb(122,200,178)"/>
<circle cx="184.87" cy="507.81" r="1.5" fill="rgb(122,200,178)"/>
<circle cx="183.75" cy="513.51" r="1.5" fill="rgb(122,200,178)"/>
<circle cx="182.00" cy="517.82" r="1.5" fill="rgb(122,200,178)"/>
<circle cx="171.12" cy="527.71" r="1.5" fill="rgb(122,200,178)"/>
<circle cx="182.79" cy="513.13" r="1.5" fill="rgb(122,200,178)"/>
<circle cx="182.07" cy="514.26" r="1.5" fill="rgb(122,200,178)"/>
<circle cx="183.21" cy="514.79" r="1.5" fill="rgb(122,200,178)"/>
<circle cx="179.34" cy="518.37" r="1.5" fill="rgb(122,200,178)"/>
<circle cx="170.57" cy="512.05" r="1.5" fill="rgb(122,200,178)"/>
<circle cx="171.96" cy="514.82" r="1.5" fill="rgb(122,200,178)"/>
<circle cx="178.78" cy="516.66" r="1.5" fill="rgb(122,200,178)"/>
<circle cx="185.42" cy="522.07" r="1.5" fill="rgb(122,200,178)"/>
<circle cx="179.37" cy="521.48" r="1.5" fill="rgb(122,200,178)"/>
<circle cx="177.80" cy="516.34" r="1.5" fill="rgb(122,200,178)"/>
<circle cx="175.99" cy="507.21" r="1.5" fill="rgb(122,200,178)"/>
<circle cx="182.13" cy="514.51" r="1.5" fill="rgb(122,200,178)"/>
<circle cx="176.03" cy="520.44" r="1.5" fill="rgb(122,200,178)"/>
<circle cx="183.01" cy="521.99" r="1.5" fill="rgb(122,200,178)"/>
<circle cx="171.46" cy="517.37" r="1.5" fill="rgb(122,200,178)"/>
<circle cx="169.65" cy="531.65" r="1.5" fill="rgb(122,200,178)"/>
<circle cx="181.25" cy="504.55" r="1.5" fill="rgb(122,200,178)"/>
<circle cx="183.44" cy="520.49" r="1.5" fill="rgb(122,200,178)"/>
<circle cx="184.72" cy="527.68" r="1.5" fill="rgb(122,200,178)"/>
<circle cx="182.86" cy="514.55" r="1.5" fill="rgb(122,200,178)"/>
<circle cx="176.13" cy="515.64" r="1.5" fill="rgb(122,200,178)"/>
<circle cx="170.24" cy="526.17" r="1.5" fill="rgb(122,200,178)"/>
<circle cx="185.79" cy="515.27" r="1.5" fill="rgb(122,200,178)"/>
<circle cx="174.89" cy="511.65" r="1.5" fill="rgb(122,200,178)"/>
<circle cx="177.48" cy="515.31" r="1.5" fill="rgb(122,200,178)"/>
<circle cx="172.93" cy="526.17" r="1.5" fill="rgb(122,200,178)"/>
<circle cx="183.66" cy="518.46" r="1.5" fill="rgb(122,200,178)"/>
<circle cx="177.08" cy="524.84" r="1.5" fill="rgb(122,200,178)"/>
<circle cx="185.77" cy="516.43" r="1.5" fill="rgb(122,200,178)"/>
<circle cx="175.77" cy="512.58" r="1.5" fill="rgb(122,200,178)"/>
<circle cx="186.98" cy="535.68" r="1.5" fill="rgb(122,200,178)"/>
<circle cx="180.66" cy="521.38" r="1.5" fill="rgb(122,200,178)"/>
<circle cx="174.85" cy="525.00" r="1.5" fill="rgb(122,200,178)"/>
<circle cx="174.89" cy="511.54" r="1.5" fill="rgb(122,200,178)"/>
<circle cx="181.72" cy="514.62" r="1.5" fill="rgb(122,200,178)"/>
<circle cx="179.95" cy="517.10" r="1.5" fill="rgb(122,200,178)"/>
<circle cx="171.56" cy="512.38" r="1.5" fill="rgb(122,200,178)"/>
<circle cx="185.02" cy="510.35" r="1.5" fill="rgb(122,200,178)"/>
<circle cx="273.81" cy="515.72" r="1.5" fill="rgb(122,200,178)"/>
<circle cx="274.24" cy="513.22" r="1.5" fill="rgb(122,200,178)"/>
<circle cx="272.91" cy="532.86" r="1.5" fill="rgb(122,200,178)"/>
<circle cx="267.06" cy="532.26" r="1.5" fill="rgb(122,200,178)"/>
<circle cx="272.06" cy="530.46" r="1.5" fill="rgb(122,200,178)"/>
<circle cx="267.46" cy="518.86" r="1.5" fill="rgb(122,200,178)"/>
<circle cx="265.27" cy="525.45" r="1.5" fill="rgb(122,200,178)"/>
<circle cx="272.67" cy="530.78" r="1.5" fill="rgb(122,200,178)"/>
<circle cx="281.52" cy="522.79" r="1.5" fill="rgb(122,200,178)"/>
<circle cx="278.75" cy="522.40" r="1.5" fill="rgb(122,200,178)"/>
<circle cx="278.27" cy="527.32" r="1.5" fill="rgb(122,200,178)"/>
<circle cx="266.79" cy="531.86" r="1.5" fill="rgb(122,200,178)"/>
<circle cx="277.15" cy="526.59" r="1.5" fill="rgb(122,200,178)"/>
<circle cx="275.46" cy="521.76" r="1.5" fill="rgb(122,200,178)"/>
<circle cx="268.33" cy="521.93" r="1.5" fill="rgb(122,200,178)"/>
<circle cx="267.60" cy="533.68" r="1.5" fill="rgb(122,200,178)"/>
<circle cx="282.08" cy="517.75" r="1.5" fill="rgb(122,200,178)"/>
<circle cx="280.72" cy="527.00" r="1.5" fill="rgb(122,200,178)"/>
<circle cx="277.23" cy="527.56" r="1.5" fill="rgb(122,200,178)"/>
<circle cx="272.08" cy="521.13" r="1.5" fill="rgb(122,200,178)"/>
<circle cx="268.89" cy="517.89" r="1.5" fill="rgb(122,200,178)"/>
<circle cx="271.50" cy="520.79" r="1.5" fill="rgb(122,200,178)"/>
<circle cx="265.11" cy="519.64" r="1.5" fill="rgb(122,200,178)"/>
<circle cx="282.76" cy="515.64" r="1.5" fill="rgb(122,200,178)"/>
<circle cx="269.92" cy="523.46" r="1.5" fill="rgb(122,200,178)"/>
<circle cx="282.23" cy="529.70" r="1.5" fill="rgb(122,200,178)"/>
<circle cx="280.70" cy="524.83" r="1.5" fill="rgb(122,200,178)"/>
<circle cx="270.07" cy="534.45" r="1.5" fill="rgb(122,200,178)"/>
<circle cx="270.47" cy="529.81" r="1.5" fill="rgb(122,200,178)"/>
<circle cx="271.31" cy="517.85" r="1.5" fill="rgb(122,200,178)"/>
<circle cx="270.82" cy="521.26" r="1.5" fill="rgb(122,200,178)"/>
<circle cx="269.23" cy="524.67" r="1.5" fill="rgb(122,200,178)"/>
<circle cx="273.16" cy="516.55" r="1.5" fill="rgb(122,200,178)"/>
<circle cx="266.19" cy="523.94" r="1.5" fill="rgb(122,200,178)"/>
<circle cx="281.87" cy="518.21" r="1.5" fill="rgb(122,200,178)"/>
<circle cx="268.22" cy="531.91" r="1.5" fill="rgb(122,200,178)"/>
<circle cx="272.71" cy="531.08" r="1.5" fill="rgb(122,200,178)"/>
<circle cx="269.97" cy="512.91" r="1.5" fill="rgb(122,200,178)"/>
<circle cx="277.68" cy="521.64" r="1.5" fill="rgb(122,200,178)"/>
<circle cx="280.55" cy="533.30" r="1.5" fill="rgb(122,200,178)"/>
<circle cx="275.82" cy="522.66" r="1.5" fill="rgb(122,200,178)"/>
<circle cx="267.46" cy="527.29" r="1.5" fill="rgb(122,200,178)"/>
<circle cx="281.61" cy="525.49" r="1.5" fill="rgb(122,200,178)"/>
<circle cx="272.30" cy="519.67" r="1.5" fill="rgb(122,200,178)"/>
<circle cx="66.84" cy="387.82" r="1.5" fill="rgb(38,140,200)"/>
<circle cx="75.15" cy="402.61" r="1.5" fill="rgb(38,140,200)"/>
<circle cx="77.06" cy="414.97" r="1.5" fill="rgb(38,140,200)"/>
<circle cx="66.25" cy="412.97" r="1.5" fill="rgb(38,140,200)"/>
<circle cx="83.12" cy="385.75" r="1.5" fill="rgb(38,140,200)"/>
<circle cx="67.04" cy="380.25" r="1.5" fill="rgb(38,140,200)"/>
<circle cx="77.36" cy="414.08" r="1.5" fill="rgb(38,140,200)"/>
<circle cx="67.73" cy="385.68" r="1.5" fill="rgb(38,140,200)"/>
<circle cx="68.89" cy="416.99" r="1.5" fill="rgb(38,140,200)"/>
<circle cx="67.66" cy="418.80" r="1.5" fill="rgb(38,140,200)"/>
<circle cx="81.06" cy="406.38" r="1.5" fill="rgb(38,140,200)"/>
<circle cx="76.89" cy="424.05" r="1.5" fill="rgb(38,140,200)"/>
<circle cx="76.27" cy="403.09" r="1.5" fill="rgb(38,140,200)"/>
<circle cx="72.12" cy="389.82" r="1.5" fill="rgb(38,140,200)"/>
<circle cx="79.71" cy="419.31" r="1.5" fill="rgb(38,140,200)"/>
<circle cx="80.12" cy="444.84" r="1.5" fill="rgb(38,140,200)"/>
<circle cx="80.36" cy="412.25" r="1.5" fill="rgb(38,140,200)"/>
<circle cx="84.08" cy="452.39" r="1.5" fill="rgb(38,140,200)"/>
<circle cx="74.38" cy="407.66" r="1.5" fill="rgb(38,140,200)"/>
<circle cx="83.41" cy="445.11" r="1.5" fill="rgb(38,140,200)"/>
<circle cx="68.44" cy="417.21" r="1.5" fill="rgb(38,140,200)"/>
<circle cx="78.12" cy="418.59" r="1.5" fill="rgb(38,140,200)"/>
<circle cx="80.32" cy="392.16" r="1.5" fill="rgb(38,140,200)"/>
<circle cx="70.22" cy="437.84" r="1.5" fill="rgb(38,140,200)"/>
<circle cx="80.00" cy="424.01" r="1.5" fill="rgb(38,140,200)"/>
<circle cx="68.48" cy="402.18" r="1.5" fill="rgb(38,140,200)"/>
<circle cx="67.11" cy="378.71" r="1.5" fill="rgb(38,140,200)"/>
<circle cx="69.36" cy="401.63" r="1.5" fill="rgb(38,140,200)"/>
<circle cx="83.39" cy="421.43" r="1.5" fill="rgb(38,140,200)"/>
<circle cx="69.28" cy="408.09" r="1.5" fill="rgb(38,140,200)"/>
<circle cx="79.65" cy="428.22" r="1.5" fill="rgb(38,140,200)"/>
<circle cx="66.54" cy="392.54" r="1.5" fill="rgb(38,140,200)"/>
<circle cx="80.39" cy="423.70" r="1.5" fill="rgb(38,140,200)"/>
<circle cx="75.23" cy="454.99" r="1.5" fill="rgb(38,140,200)"/>
<circle cx="77.77" cy="401.95" r="1.5" fill="rgb(38,140,200)"/>
<circle cx="74.51" cy="433.47" r="1.5" fill="rgb(38,140,200)"/>
<circle cx="71.99" cy="412.47" r="1.5" fill="rgb(38,140,200)"/>
<circle cx="79.57" cy="416.14" r="1.5" fill="rgb(38,140,200)"/>
<circle cx="67.21" cy="388.69" r="1.5" fill="rgb(38,140,200)"/>
<circle cx="81.99" cy="412.53" r="1.5" fill="rgb(38,140,200)"/>
<circle cx="67.11" cy="383.63" r="1.5" fill="rgb(38,140,200)"/>
<circle cx="83.00" cy="420.36" r="1.5" fill="rgb(38,140,200)"/>
<circle cx="83.48" cy="419.81" r="1.5" fill="rgb(38,140,200)"/>
<circle cx="70.66" cy="396.53" r="1.5" fill="rgb(38,140,200)"/>
<circle cx="70.85" cy="394.58" r="1.5" fill="rgb(38,140,200)"/>
<circle cx="69.76" cy="406.96" r="1.5" fill="rgb(38,140,200)"/>
<circle cx="80.04" cy="413.20" r="1.5" fill="rgb(38,140,200)"/>
<circle cx="84.39" cy="419.04" r="1.5" fill="rgb(38,140,200)"/>
<circle cx="173.40" cy="502.57" r="1.5" fill="rgb(38,140,200)"/>
<circle cx="174.31" cy="489.56" r="1.5" fill="rgb(38,140,200)"/>
<circle cx="178.24" cy="496.11" r="1.5" fill="rgb(38,140,200)"/>
<circle cx="177.65" cy="503.79" r="1.5" fill="rgb(38,140,200)"/>
<circle cx="175.99" cy="504.70" r="1.5" fill="rgb(38,140,200)"/>
<circle cx="187.41" cy="494.45" r="1.5" fill="rgb(38,140,200)"/>
<circle cx="169.67" cy="482.21" r="1.5" fill="rgb(38,140,200)"/>
<circle cx="172.54" cy="499.39" r="1.5" fill="rgb(38,140,200)"/>
<circle cx="182.39" cy="487.12" r="1.5" fill="rgb(38,140,200)"/>
<circle cx="183.76" cy="480.63" r="1.5" fill="rgb(38,140,200)"/>
<circle cx="177.25" cy="481.96" r="1.5" fill="rgb(38,140,200)"/>
<circle cx="185.31" cy="481.61" r="1.5" fill="rgb(38,140,200)"/>
<circle cx="172.72" cy="491.71" r="1.5" fill="rgb(38,140,200)"/>
<circle cx="171.52" cy="489.23" r="1.5" fill="rgb(38,140,200)"/>
<circle cx="173.37" cy="494.88" r="1.5" fill="rgb(38,140,200)"/>
<circle cx="172.69" cy="480.40" r="1.5" fill="rgb(38,140,200)"/>
<circle cx="176.85" cy="490.94" r="1.5" fill="rgb(38,140,200)"/>
<circle cx="181.26" cy="507.72" r="1.5" fill="rgb(38,140,200)"/>
<circle cx="185.23" cy="488.03" r="1.5" fill="rgb(38,140,200)"/>
<circle cx="187.01" cy="477.58" r="1.5" fill="rgb(38,140,200)"/>
<circle cx="187.47" cy="484.27" r="1.5" fill="rgb(38,140,200)"/>
<circle cx="180.50" cy="473.26" r="1.5" fill="rgb(38,140,200)"/>
<circle cx="184.68" cy="498.97" r="1.5" fill="rgb(38,140,200)"/>
<circle cx="175.34" cy="504.78" r="1.5" fill="rgb(38,140,200)"/>
<circle cx="169.52" cy="499.57" r="1.5" fill="rgb(38,140,200)"/>
<circle cx="187.41" cy="488.52" r="1.5" fill="rgb(38,140,200)"/>
<circle cx="182.32" cy="496.45" r="1.5" fill="rgb(38,140,200)"/>
<circle cx="175.30" cy="493.25" r="1.5" fill="rgb(38,140,200)"/>
<circle cx="174.27" cy="497.47" r="1.5" fill="rgb(38,140,200)"/>
<circle cx="178.08" cy="489.81" r="1.5" fill="rgb(38,140,200)"/>
<circle cx="178.93" cy="482.27" r="1.5" fill="rgb(38,140,200)"/>
<circle cx="184.29" cy="506.57" r="1.5" fill="rgb(38,140,200)"/>
<circle cx="185.12" cy="497.86" r="1.5" fill="rgb(38,140,200)"/>
<circle cx="171.71" cy="477.25" r="1.5" fill="rgb(38,140,200)"/>
<circle cx="183.96" cy="483.74" r="1.5" fill="rgb(38,140,200)"/>
<circle cx="187.45" cy="500.84" r="1.5" fill="rgb(38,140,200)"/>
<circle cx="183.16" cy="488.67" r="1.5" fill="rgb(38,140,200)"/>
<circle cx="173.78" cy="473.07" r="1.5" fill="rgb(38,140,200)"/>
<circle cx="173.12" cy="490.63" r="1.5" fill="rgb(38,140,200)"/>
<circle cx="174.44" cy="478.18" r="1.5" fill="rgb(38,140,200)"/>
<circle cx="180.95" cy="499.32" r="1.5" fill="rgb(38,140,200)"/>
<circle cx="180.62" cy="480.94" r="1.5" fill="rgb(38,140,200)"/>
<circle cx="182.33" cy="498.58" r="1.5" fill="rgb(38,140,200)"/>
<circle cx="175.84" cy="485.82" r="1.5" fill="rgb(38,140,200)"/>
<circle cx="186.98" cy="488.47" r="1.5" fill="rgb(38,140,200)"/>
<circle cx="170.77" cy="492.46" r="1.5" fill="rgb(38,140,200)"/>
<circle cx="185.72" cy="488.71" r="1.5" fill="rgb(38,140,200)"/>
<circle cx="177.82" cy="504.52" r="1.5" fill="rgb(38,140,200)"/>
<circle cx="177.42" cy="499.11" r="1.5" fill="rgb(38,140,200)"/>
<circle cx="182.83" cy="488.91" r="1.5" fill="rgb(38,140,200)"/>
<circle cx="183.35" cy="474.95" r="1.5" fill="rgb(38,140,200)"/>
<circle cx="184.21" cy="487.49" r="1.5" fill="rgb(38,140,200)"/>
<circle cx="265.99" cy="481.91" r="1.5" fill="rgb(38,140,200)"/>
<circle cx="277.44" cy="497.19" r="1.5" fill="rgb(38,140,200)"/>
<circle cx="280.69" cy="475.44" r="1.5" fill="rgb(38,140,200)"/>
<circle cx="282.80" cy="479.23" r="1.5" fill="rgb(38,140,200)"/>
<circle cx="280.46" cy="479.39" r="1.5" fill="rgb(38,140,200)"/>
<circle cx="270.48" cy="489.88" r="1.5" fill="rgb(38,140,200)"/>
<circle cx="268.64" cy="483.92" r="1.5" fill="rgb(38,140,200)"/>
<circle cx="273.80" cy="483.89" r="1.5" fill="rgb(38,140,200)"/>
<circle cx="281.55" cy="484.97" r="1.5" fill="rgb(38,140,200)"/>
<circle cx="272.36" cy="491.49" r="1.5" fill="rgb(38,140,200)"/>
<circle cx="270.25" cy="490.97" r="1.5" fill="rgb(38,140,200)"/>
<circle cx="281.83" cy="485.98" r="1.5" fill="rgb(38,140,200)"/>
<circle cx="276.51" cy="486.56" r="1.5" fill="rgb(38,140,200)"/>
<circle cx="268.24" cy="492.93" r="1.5" fill="rgb(38,140,200)"/>
<circle cx="277.13" cy="492.41" r="1.5" fill="rgb(38,140,200)"/>
<circle cx="267.62" cy="478.57" r="1.5" fill="rgb(38,140,200)"/>
<circle cx="279.12" cy="486.72" r="1.5" fill="rgb(38,140,200)"/>
<circle cx="281.31" cy="487.90" r="1.5" fill="rgb(38,140,200)"/>
<circle cx="265.75" cy="488.69" r="1.5" fill="rgb(38,140,200)"/>
<circle cx="270.74" cy="485.46" r="1.5" fill="rgb(38,140,200)"/>
<circle cx="280.14" cy="488.67" r="1.5" fill="rgb(38,140,200)"/>
<circle cx="265.59" cy="487.25" r="1.5" fill="rgb(38,140,200)"/>
<circle cx="266.68" cy="492.18" r="1.5" fill="rgb(38,140,200)"/>
<circle cx="267.06" cy="499.79" r="1.5" fill="rgb(38,140,200)"/>
<circle cx="281.91" cy="490.64" r="1.5" fill="rgb(38,140,200)"/>
<circle cx="273.94" cy="494.96" r="1.5" fill="rgb(38,140,200)"/>
<circle cx="275.76" cy="479.02" r="1.5" fill="rgb(38,140,200)"/>
<circle cx="281.08" cy="482.26" r="1.5" fill="rgb(38,140,200)"/>
<circle cx="275.78" cy="495.76" r="1.5" fill="rgb(38,140,200)"/>
<circle cx="265.90" cy="489.63" r="1.5" fill="rgb(38,140,200)"/>
<circle cx="268.22" cy="486.94" r="1.5" fill="rgb(38,140,200)"/>
<circle cx="266.72" cy="490.02" r="1.5" fill="rgb(38,140,200)"/>
<circle cx="265.61" cy="479.47" r="1.5" fill="rgb(38,140,200)"/>
<circle cx="275.40" cy="480.92" r="1.5" fill="rgb(38,140,200)"/>
<circle cx="268.05" cy="498.99" r="1.5" fill="rgb(38,140,200)"/>
<circle cx="273.64" cy="478.33" r="1.5" fill="rgb(38,140,200)"/>
<circle cx="273.93" cy="479.22" r="1.5" fill="rgb(38,140,200)"/>
<circle cx="274.64" cy="483.46" r="1.5" fill="rgb(38,140,200)"/>
<circle cx="268.66" cy="486.38" r="1.5" fill="rgb(38,140,200)"/>
<circle cx="281.03" cy="493.19" r="1.5" fill="rgb(38,140,200)"/>
<circle cx="275.27" cy="482.49" r="1.5" fill="rgb(38,140,200)"/>
<circle cx="269.76" cy="480.52" r="1.5" fill="rgb(38,140,200)"/>
<circle cx="281.03" cy="485.99" r="1.5" fill="rgb(38,140,200)"/>
<circle cx="279.11" cy="486.84" r="1.5" fill="rgb(38,140,200)"/>
<circle cx="84.18" cy="437.34" r="1.5" fill="rgb(36,44,148)"/>
<circle cx="78.80" cy="410.88" r="1.5" fill="rgb(36,44,148)"/>
<circle cx="81.07" cy="391.97" r="1.5" fill="rgb(36,44,148)"/>
<circle cx="74.54" cy="423.14" r="1.5" fill="rgb(36,44,148)"/>
<circle cx="83.04" cy="452.73" r="1.5" fill="rgb(36,44,148)"/>
<circle cx="73.62" cy="398.25" r="1.5" fill="rgb(36,44,148)"/>
<circle cx="73.53" cy="406.20" r="1.5" fill="rgb(36,44,148)"/>
<circle cx="79.57" cy="412.93" r="1.5" fill="rgb(36,44,148)"/>
<circle cx="78.56" cy="413.49" r="1.5" fill="rgb(36,44,148)"/>
<circle cx="68.60" cy="399.18" r="1.5" fill="rgb(36,44,148)"/>
<circle cx="69.67" cy="391.29" r="1.5" fill="rgb(36,44,148)"/>
<circle cx="84.06" cy="429.27" r="1.5" fill="rgb(36,44,148)"/>
<circle cx="84.45" cy="420.03" r="1.5" fill="rgb(36,44,148)"/>
<circle cx="75.20" cy="379.59" r="1.5" fill="rgb(36,44,148)"/>
<circle cx="80.42" cy="431.52" r="1.5" fill="rgb(36,44,148)"/>
<circle cx="77.77" cy="387.51" r="1.5" fill="rgb(36,44,148)"/>
<circle cx="69.68" cy="365.21" r="1.5" fill="rgb(36,44,148)"/>
<circle cx="80.55" cy="384.73" r="1.5" fill="rgb(36,44,148)"/>
<circle cx="67.71" cy="381.68" r="1.5" fill="rgb(36,44,148)"/>
<circle cx="69.00" cy="371.77" r="1.5" fill="rgb(36,44,148)"/>
<circle cx="83.87" cy="400.83" r="1.5" fill="rgb(36,44,148)"/>
<circle cx="68.50" cy="361.42" r="1.5" fill="rgb(36,44,148)"/>
<circle cx="81.33" cy="443.42" r="1.5" fill="rgb(36,44,148)"/>
<circle cx="79.78" cy="392.42" r="1.5" fill="rgb(36,44,148)"/>
<circle cx="81.40" cy="416.83" r="1.5" fill="rgb(36,44,148)"/>
<circle cx="74.05" cy="374.79" r="1.5" fill="rgb(36,44,148)"/>
<circle cx="81.27" cy="416.66" r="1.5" fill="rgb(36,44,148)"/>
<circle cx="71.53" cy="358.16" r="1.5" fill="rgb(36,44,148)"/>
<circle cx="83.78" cy="373.54" r="1.5" fill="rgb(36,44,148)"/>
<circle cx="68.14" cy="377.54" r="1.5" fill="rgb(36,44,148)"/>
<circle cx="83.92" cy="417.07" r="1.5" fill="rgb(36,44,148)"/>
<circle cx="81.51" cy="397.12" r="1.5" fill="rgb(36,44,148)"/>
<circle cx="70.29" cy="395.56" r="1.5" fill="rgb(36,44,148)"/>
<circle cx="70.38" cy="407.50" r="1.5" fill="rgb(36,44,148)"/>
<circle cx="75.11" cy="419.87" r="1.5" fill="rgb(36,44,148)"/>
<circle cx="79.14" cy="391.35" r="1.5" fill="rgb(36,44,148)"/>
<circle cx="73.25" cy="401.23" r="1.5" fill="rgb(36,44,148)"/>
<circle cx="78.63" cy="375.02" r="1.5" fill="rgb(36,44,148)"/>
<circle cx="83.42" cy="421.11" r="1.5" fill="rgb(36,44,148)"/>
<circle cx="67.61" cy="369.27" r="1.5" fill="rgb(36,44,148)"/>
<circle cx="78.07" cy="411.52" r="1.5" fill="rgb(36,44,148)"/>
<circle cx="77.01" cy="388.34" r="1.5" fill="rgb(36,44,148)"/>
<circle cx="81.47" cy="410.08" r="1.5" fill="rgb(36,44,148)"/>
<circle cx="75.05" cy="396.53" r="1.5" fill="rgb(36,44,148)"/>
<circle cx="66.30" cy="406.23" r="1.5" fill="rgb(36,44,148)"/>
<circle cx="73.75" cy="415.66" r="1.5" fill="rgb(36,44,148)"/>
<circle cx="77.19" cy="387.12" r="1.5" fill="rgb(36,44,148)"/>
<circle cx="69.95" cy="392.97" r="1.5" fill="rgb(36,44,148)"/>
<circle cx="72.54" cy="406.80" r="1.5" fill="rgb(36,44,148)"/>
<circle cx="71.40" cy="371.95" r="1.5" fill="rgb(36,44,148)"/>
<circle cx="67.63" cy="381.25" r="1.5" fill="rgb(36,44,148)"/>
<circle cx="74.18" cy="422.71" r="1.5" fill="rgb(36,44,148)"/>
<circle cx="78.23" cy="406.84" r="1.5" fill="rgb(36,44,148)"/>
<circle cx="78.63" cy="396.47" r="1.5" fill="rgb(36,44,148)"/>
<circle cx="66.77" cy="387.98" r="1.5" fill="rgb(36,44,148)"/>
<circle cx="71.02" cy="381.11" r="1.5" fill="rgb(36,44,148)"/>
<circle cx="83.72" cy="405.83" r="1.5" fill="rgb(36,44,148)"/>
<circle cx="82.46" cy="420.65" r="1.5" fill="rgb(36,44,148)"/>
<circle cx="180.48" cy="479.21" r="1.5" fill="rgb(36,44,148)"/>
<circle cx="178.62" cy="455.45" r="1.5" fill="rgb(36,44,148)"/>
<circle cx="178.99" cy="455.33" r="1.5" fill="rgb(36,44,148)"/>
<circle cx="184.07" cy="453.98" r="1.5" fill="rgb(36,44,148)"/>
<circle cx="185.02" cy="477.51" r="1.5" fill="rgb(36,44,148)"/>
<circle cx="181.49" cy="472.19" r="1.5" fill="rgb(36,44,148)"/>
<circle cx="176.01" cy="463.59" r="1.5" fill="rgb(36,44,148)"/>
<circle cx="181.68" cy="479.67" r="1.5" fill="rgb(36,44,148)"/>
<circle cx="170.53" cy="465.61" r="1.5" fill="rgb(36,44,148)"/>
<circle cx="183.02" cy="455.23" r="1.5" fill="rgb(36,44,148)"/>
<circle cx="175.35" cy="454.56" r="1.5" fill="rgb(36,44,148)"/>
<circle cx="180.08" cy="463.84" r="1.5" fill="rgb(36,44,148)"/>
<circle cx="181.05" cy="460.64" r="1.5" fill="rgb(36,44,148)"/>
<circle cx="177.07" cy="477.07" r="1.5" fill="rgb(36,44,148)"/>
<circle cx="176.35" cy="463.16" r="1.5" fill="rgb(36,44,148)"/>
<circle cx="172.41" cy="463.60" r="1.5" fill="rgb(36,44,148)"/>
<circle cx="172.02" cy="469.48" r="1.5" fill="rgb(36,44,148)"/>
<circle cx="172.57" cy="447.93" r="1.5" fill="rgb(36,44,148)"/>
<circle cx="186.90" cy="475.19" r="1.5" fill="rgb(36,44,148)"/>
<circle cx="173.05" cy="446.13" r="1.5" fill="rgb(36,44,148)"/>
<circle cx="176.59" cy="452.51" r="1.5" fill="rgb(36,44,148)"/>
<circle cx="185.86" cy="474.86" r="1.5" fill="rgb(36,44,148)"/>
<circle cx="175.17" cy="461.61" r="1.5" fill="rgb(36,44,148)"/>
<circle cx="181.57" cy="473.58" r="1.5" fill="rgb(36,44,148)"/>
<circle cx="179.03" cy="466.42" r="1.5" fill="rgb(36,44,148)"/>
<circle cx="170.24" cy="478.23" r="1.5" fill="rgb(36,44,148)"/>
<circle cx="174.28" cy="462.35" r="1.5" fill="rgb(36,44,148)"/>
<circle cx="181.71" cy="452.78" r="1.5" fill="rgb(36,44,148)"/>
<circle cx="181.11" cy="478.79" r="1.5" fill="rgb(36,44,148)"/>
<circle cx="176.60" cy="463.22" r="1.5" fill="rgb(36,44,148)"/>
<circle cx="184.00" cy="461.03" r="1.5" fill="rgb(36,44,148)"/>
<circle cx="178.88" cy="457.93" r="1.5" fill="rgb(36,44,148)"/>
<circle cx="170.69" cy="469.48" r="1.5" fill="rgb(36,44,148)"/>
<circle cx="179.90" cy="469.64" r="1.5" fill="rgb(36,44,148)"/>
<circle cx="183.69" cy="471.16" r="1.5" fill="rgb(36,44,148)"/>
<circle cx="178.51" cy="483.03" r="1.5" fill="rgb(36,44,148)"/>
<circle cx="181.18" cy="470.08" r="1.5" fill="rgb(36,44,148)"/>
<circle cx="180.52" cy="465.60" r="1.5" fill="rgb(36,44,148)"/>
<circle cx="174.41" cy="456.15" r="1.5" fill="rgb(36,44,148)"/>
<circle cx="187.05" cy="450.86" r="1.5" fill="rgb(36,44,148)"/>
<circle cx="184.59" cy="443.12" r="1.5" fill="rgb(36,44,148)"/>
<circle cx="174.45" cy="466.30" r="1.5" fill="rgb(36,44,148)"/>
<circle cx="170.21" cy="461.56" r="1.5" fill="rgb(36,44,148)"/>
<circle cx="175.62" cy="466.48" r="1.5" fill="rgb(36,44,148)"/>
<circle cx="173.26" cy="453.04" r="1.5" fill="rgb(36,44,148)"/>
<circle cx="183.51" cy="440.61" r="1.5" fill="rgb(36,44,148)"/>
<circle cx="180.84" cy="463.70" r="1.5" fill="rgb(36,44,148)"/>
<circle cx="180.10" cy="477.52" r="1.5" fill="rgb(36,44,148)"/>
<circle cx="186.80" cy="459.03" r="1.5" fill="rgb(36,44,148)"/>
<circle cx="171.91" cy="463.30" r="1.5" fill="rgb(36,44,148)"/>
<circle cx="175.65" cy="444.04" r="1.5" fill="rgb(36,44,148)"/>
<circle cx="182.75" cy="463.90" r="1.5" fill="rgb(36,44,148)"/>
<circle cx="268.54" cy="484.71" r="1.5" fill="rgb(36,44,148)"/>
<circle cx="278.46" cy="486.33" r="1.5" fill="rgb(36,44,148)"/>
<circle cx="266.13" cy="478.32" r="1.5" fill="rgb(36,44,148)"/>
<circle cx="276.34" cy="475.29" r="1.5" fill="rgb(36,44,148)"/>
<circle cx="282.85" cy="469.49" r="1.5" fill="rgb(36,44,148)"/>
<circle cx="281.18" cy="469.97" r="1.5" fill="rgb(36,44,148)"/>
<circle cx="267.77" cy="487.53" r="1.5" fill="rgb(36,44,148)"/>
<circle cx="279.31" cy="470.35" r="1.5" fill="rgb(36,44,148)"/>
<circle cx="275.14" cy="466.51" r="1.5" fill="rgb(36,44,148)"/>
<circle cx="281.36" cy="482.05" r="1.5" fill="rgb(36,44,148)"/>
<circle cx="278.18" cy="474.01" r="1.5" fill="rgb(36,44,148)"/>
<circle cx="265.23" cy="467.43" r="1.5" fill="rgb(36,44,148)"/>
<circle cx="279.95" cy="482.12" r="1.5" fill="rgb(36,44,148)"/>
<circle cx="274.62" cy="480.60" r="1.5" fill="rgb(36,44,148)"/>
<circle cx="273.72" cy="481.30" r="1.5" fill="rgb(36,44,148)"/>
<circle cx="271.89" cy="468.58" r="1.5" fill="rgb(36,44,148)"/>
<circle cx="273.22" cy="478.32" r="1.5" fill="rgb(36,44,148)"/>
<circle cx="266.22" cy="474.06" r="1.5" fill="rgb(36,44,148)"/>
<circle cx="277.11" cy="480.62" r="1.5" fill="rgb(36,44,148)"/>
<circle cx="273.49" cy="470.80" r="1.5" fill="rgb(36,44,148)"/>
<circle cx="269.29" cy="482.18" r="1.5" fill="rgb(36,44,148)"/>
<circle cx="279.83" cy="470.04" r="1.5" fill="rgb(36,44,148)"/>
<circle cx="282.57" cy="469.59" r="1.5" fill="rgb(36,44,148)"/>
<circle cx="281.75" cy="480.93" r="1.5" fill="rgb(36,44,148)"/>
<circle cx="281.55" cy="475.43" r="1.5" fill="rgb(36,44,148)"/>
<circle cx="266.87" cy="483.89" r="1.5" fill="rgb(36,44,148)"/>
<circle cx="267.93" cy="482.73" r="1.5" fill="rgb(36,44,148)"/>
<circle cx="281.49" cy="481.66" r="1.5" fill="rgb(36,44,148)"/>
<circle cx="274.04" cy="472.98" r="1.5" fill="rgb(36,44,148)"/>
<circle cx="265.98" cy="467.70" r="1.5" fill="rgb(36,44,148)"/>
<circle cx="278.41" cy="477.21" r="1.5" fill="rgb(36,44,148)"/>
<circle cx="267.20" cy="469.63" r="1.5" fill="rgb(36,44,148)"/>
<circle cx="282.58" cy="477.98" r="1.5" fill="rgb(36,44,148)"/>
<circle cx="280.30" cy="472.87" r="1.5" fill="rgb(36,44,148)"/>
<circle cx="278.72" cy="482.54" r="1.5" fill="rgb(36,44,148)"/>
<circle cx="265.12" cy="475.28" r="1.5" fill="rgb(36,44,148)"/>
<circle cx="274.36" cy="479.24" r="1.5" fill="rgb(36,44,148)"/>
<circle cx="281.50" cy="487.42" r="1.5" fill="rgb(36,44,148)"/>
<circle cx="277.90" cy="476.22" r="1.5" fill="rgb(36,44,148)"/>
<circle cx="280.81" cy="480.65" r="1.5" fill="rgb(36,44,148)"/>
<circle cx="269.55" cy="467.71" r="1.5" fill="rgb(36,44,148)"/>
<circle cx="272.97" cy="486.89" r="1.5" fill="rgb(36,44,148)"/>
<circle cx="280.06" cy="475.78" r="1.5" fill="rgb(36,44,148)"/>
<circle cx="272.42" cy="481.80" r="1.5" fill="rgb(36,44,148)"/>
<circle cx="176.30" cy="413.80" r="1.5" fill="rgb(36,44,148)"/>
<circle cx="180.00" cy="614.80" r="1.5" fill="rgb(218,28,34)"/>
<polyline points="67.80,397.50 68.80,408.17 69.80,418.27 70.80,427.82 71.80,436.85 72.80,445.40 73.80,453.49 74.80,461.13 75.80,468.37 76.80,475.21 77.80,481.68 78.80,487.81 79.80,493.60 80.80,499.08 81.80,504.26 82.80,509.17 83.80,513.81 84.80,518.19 85.80,522.34 86.80,526.27 87.80,529.98 88.80,533.50 89.80,536.82 90.80,539.97 91.80,542.94 92.80,545.75 93.80,548.41 94.80,550.93 95.80,553.31 96.80,555.57 97.80,557.70 98.80,559.71 99.80,561.62 100.80,563.42 101.80,565.13 102.80,566.74 103.80,568.27 104.80,569.72 105.80,571.08 106.80,572.37 107.80,573.60 108.80,574.75 109.80,575.85 110.80,576.88 111.80,577.86 112.80,578.79 113.80,579.66 114.80,580.49 115.80,581.28 116.80,582.02 117.80,582.72 118.80,583.38 119.80,584.01 120.80,584.61 121.80,585.17 122.80,585.70 123.80,586.20 124.80,586.68 125.80,587.13 126.80,587.55 127.80,587.95 128.80,588.34 129.80,588.70 130.80,589.04 131.80,589.36 132.80,589.66 133.80,589.95 134.80,590.22 135.80,590.48 136.80,590.73 137.80,590.96 138.80,591.18 139.80,591.38 140.80,591.58 141.80,591.76 142.80,591.94 143.80,592.10 144.80,592.26 145.80,592.41 146.80,592.55 147.80,592.68 148.80,592.81 149.80,592.92 150.80,593.04 151.80,593.14 152.80,593.24 153.80,593.34 154.80,593.43 155.80,593.51 156.80,593.59 157.80,593.67 158.80,593.74 159.80,593.81 160.80,593.87 161.80,593.93 162.80,593.99 163.80,594.05 164.80,594.10 165.80,594.15 166.80,594.19 167.80,594.24 168.80,594.28 169.80,594.32 170.80,594.35 171.80,594.39 172.80,594.42 173.80,594.45 174.80,594.48 175.80,594.51 176.80,594.54 177.80,594.56 178.80,594.59 179.80,594.61 180.80,594.63 181.80,594.65 182.80,594.67 183.80,594.69 184.80,594.70 185.80,594.72 186.80,594.73 187.80,594.75 188.80,594.76 189.80,594.78 190.80,594.79 191.80,594.80 192.80,594.81 193.80,594.82 194.80,594.83 195.80,594.84 196.80,594.85 197.80,594.86 198.80,594.86 199.80,594.87 200.80,594.88 201.80,594.88 202.80,594.89 203.80,594.90 204.80,594.90 205.80,594.91 206.80,594.91 207.80,594.92 208.80,594.92 209.80,594.93 210.80,594.93 211.80,594.93 212.80,594.94 213.80,594.94 214.80,594.94 215.80,594.95 216.80,594.95 217.80,594.95 218.80,594.96 219.80,594.96 220.80,594.96 221.80,594.96 222.80,594.96 223.80,594.97 224.80,594.97 225.80,594.97 226.80,594.97 227.80,594.97 228.80,594.97 229.80,594.98 230.80,594.98 231.80,594.98 232.80,594.98 233.80,594.98 234.80,594.98 235.80,594.98 236.80,594.98 237.80,594.98 238.80,594.99 239.80,594.99 240.80,594.99 241.80,594.99 242.80,594.99 243.80,594.99 244.80,594.99 245.80,594.99 246.80,594.99 247.80,594.99 248.80,594.99 249.80,594.99 250.80,594.99 251.80,594.99 252.80,594.99 253.80,594.99 254.80,594.99 255.80,594.99 256.80,594.99 257.80,594.99 258.80,595.00 259.80,595.00 260.80,595.00 261.80,595.00 262.80,595.00 263.80,595.00 264.80,595.00 265.80,595.00 266.80,595.00 267.80,595.00 268.80,595.00 269.80,595.00 270.80,595.00 271.80,595.00 272.80,595.00 273.80,595.00 274.80,595.00 275.80,595.00 276.80,595.00 277.80,595.00 278.80,595.00 279.80,595.00 280.80,595.00 281.80,595.00 282.80,595.00" fill="none" stroke="rgb(222,45,45)" stroke-width="1.2"/>
<polyline points="67.80,397.50 68.80,402.68 69.80,407.71 70.80,412.58 71.80,417.30 72.80,421.87 73.80,426.31 74.80,430.61 75.80,434.77 76.80,438.81 77.80,442.72 78.80,446.52 79.80,450.19 80.80,453.75 81.80,457.21 82.80,460.56 83.80,463.80 84.80,466.94 85.80,469.99 86.80,472.95 87.80,475.81 88.80,478.58 89.80,481.27 90.80,483.88 91.80,486.41 92.80,488.86 93.80,491.23 94.80,493.53 95.80,495.76 96.80,497.92 97.80,500.01 98.80,502.04 99.80,504.01 100.80,505.92 101.80,507.77 102.80,509.56 103.80,511.30 104.80,512.98 105.80,514.61 106.80,516.19 107.80,517.72 108.80,519.21 109.80,520.65 110.80,522.04 111.80,523.40 112.80,524.71 113.80,525.98 114.80,527.21 115.80,528.40 116.80,529.56 117.80,530.68 118.80,531.77 119.80,532.82 120.80,533.84 121.80,534.83 122.80,535.79 123.80,536.72 124.80,537.62 125.80,538.49 126.80,539.34 127.80,540.16 128.80,540.95 129.80,541.73 130.80,542.47 131.80,543.20 132.80,543.90 133.80,544.58 134.80,545.24 135.80,545.88 136.80,546.49 137.80,547.09 138.80,547.68 139.80,548.24 140.80,548.79 141.80,549.32 142.80,549.83 143.80,550.33 144.80,550.81 145.80,551.28 146.80,551.73 147.80,552.17 148.80,552.59 149.80,553.01 150.80,553.41 151.80,553.79 152.80,554.17 153.80,554.53 154.80,554.89 155.80,555.23 156.80,555.56 157.80,555.88 158.80,556.19 159.80,556.49 160.80,556.79 161.80,557.07 162.80,557.34 163.80,557.61 164.80,557.87 165.80,558.12 166.80,558.36 167.80,558.60 168.80,558.82 169.80,559.05 170.80,559.26 171.80,559.47 172.80,559.67 173.80,559.86 174.80,560.05 175.80,560.23 176.80,560.41 177.80,560.58 178.80,560.75 179.80,560.91 180.80,561.07 181.80,561.22 182.80,561.37 183.80,561.51 184.80,561.65 185.80,561.78 186.80,561.91 187.80,562.04 188.80,562.16 189.80,562.28 190.80,562.39 191.80,562.50 192.80,562.61 193.80,562.71 194.80,562.82 195.80,562.91 196.80,563.01 197.80,563.10 198.80,563.19 199.80,563.28 200.80,563.36 201.80,563.44 202.80,563.52 203.80,563.60 204.80,563.67 205.80,563.74 206.80,563.81 207.80,563.88 208.80,563.94 209.80,564.01 210.80,564.07 211.80,564.13 212.80,564.19 213.80,564.24 214.80,564.30 215.80,564.35 216.80,564.40 217.80,564.45 218.80,564.50 219.80,564.54 220.80,564.59 221.80,564.63 222.80,564.67 223.80,564.71 224.80,564.75 225.80,564.79 226.80,564.83 227.80,564.86 228.80,564.90 229.80,564.93 230.80,564.97 231.80,565.00 232.80,565.03 233.80,565.06 234.80,565.09 235.80,565.12 236.80,565.14 237.80,565.17 238.80,565.19 239.80,565.22 240.80,565.24 241.80,565.27 242.80,565.29 243.80,565.31 244.80,565.33 245.80,565.35 246.80,565.37 247.80,565.39 248.80,565.41 249.80,565.43 250.80,565.45 251.80,565.46 252.80,565.48 253.80,565.50 254.80,565.51 255.80,565.53 256.80,565.54 257.80,565.56 258.80,565.57 259.80,565.58 260.80,565.60 261.80,565.61 262.80,565.62 263.80,565.63 264.80,565.64 265.80,565.65 266.80,565.66 267.80,565.67 268.80,565.68 269.80,565.69 270.80,565.70 271.80,565.71 272.80,565.72 273.80,565.73 274.80,565.74 275.80,565.75 276.80,565.75 277.80,565.76 278.80,565.77 279.80,565.78 280.80,565.78 281.80,565.79 282.80,565.80" fill="none" stroke="rgb(246,148,70)" stroke-width="1.2"/>
<polyline points="67.80,397.50 68.80,402.63 69.80,407.59 70.80,412.40 71.80,417.05 72.80,421.56 73.80,425.92 74.80,430.14 75.80,434.23 76.80,438.19 77.80,442.03 78.80,445.74 79.80,449.34 80.80,452.82 81.80,456.19 82.80,459.45 83.80,462.61 84.80,465.67 85.80,468.63 86.80,471.50 87.80,474.28 88.80,476.97 89.80,479.57 90.80,482.10 91.80,484.54 92.80,486.90 93.80,489.19 94.80,491.40 95.80,493.55 96.80,495.63 97.80,497.64 98.80,499.59 99.80,501.47 100.80,503.30 101.80,505.07 102.80,506.78 103.80,508.44 104.80,510.04 105.80,511.60 106.80,513.10 107.80,514.56 108.80,515.97 109.80,517.33 110.80,518.66 111.80,519.94 112.80,521.18 113.80,522.38 114.80,523.54 115.80,524.67 116.80,525.76 117.80,526.81 118.80,527.83 119.80,528.82 120.80,529.78 121.80,530.71 122.80,531.61 123.80,532.48 124.80,533.32 125.80,534.13 126.80,534.92 127.80,535.69 128.80,536.43 129.80,537.14 130.80,537.84 131.80,538.51 132.80,539.16 133.80,539.79 134.80,540.40 135.80,540.99 136.80,541.56 137.80,542.11 138.80,542.65 139.80,543.17 140.80,543.67 141.80,544.16 142.80,544.63 143.80,545.09 144.80,545.53 145.80,545.96 146.80,546.37 147.80,546.77 148.80,547.16 149.80,547.53 150.80,547.90 151.80,548.25 152.80,548.59 153.80,548.92 154.80,549.24 155.80,549.55 156.80,549.85 157.80,550.14 158.80,550.42 159.80,550.70 160.80,550.96 161.80,551.21 162.80,551.46 163.80,551.70 164.80,551.93 165.80,552.16 166.80,552.37 167.80,552.58 168.80,552.79 169.80,552.99 170.80,553.18 171.80,553.36 172.80,553.54 173.80,553.71 174.80,553.88 175.80,554.04 176.80,554.20 177.80,554.35 178.80,554.50 179.80,554.64 180.80,554.78 181.80,554.92 182.80,555.05 183.80,555.17 184.80,555.29 185.80,555.41 186.80,555.52 187.80,555.63 188.80,555.74 189.80,555.84 190.80,555.95 191.80,556.04 192.80,556.14 193.80,556.23 194.80,556.31 195.80,556.40 196.80,556.48 197.80,556.56 198.80,556.64 199.80,556.71 200.80,556.79 201.80,556.86 202.80,556.93 203.80,556.99 204.80,557.06 205.80,557.12 206.80,557.18 207.80,557.23 208.80,557.29 209.80,557.34 210.80,557.40 211.80,557.45 212.80,557.50 213.80,557.55 214.80,557.59 215.80,557.64 216.80,557.68 217.80,557.72 218.80,557.76 219.80,557.80 220.80,557.84 221.80,557.88 222.80,557.91 223.80,557.95 224.80,557.98 225.80,558.01 226.80,558.04 227.80,558.07 228.80,558.10 229.80,558.13 230.80,558.16 231.80,558.19 232.80,558.21 233.80,558.24 234.80,558.26 235.80,558.28 236.80,558.31 237.80,558.33 238.80,558.35 239.80,558.37 240.80,558.39 241.80,558.41 242.80,558.43 243.80,558.45 244.80,558.46 245.80,558.48 246.80,558.50 247.80,558.51 248.80,558.53 249.80,558.54 250.80,558.56 251.80,558.57 252.80,558.59 253.80,558.60 254.80,558.61 255.80,558.62 256.80,558.64 257.80,558.65 258.80,558.66 259.80,558.67 260.80,558.68 261.80,558.69 262.80,558.70 263.80,558.71 264.80,558.72 265.80,558.73 266.80,558.74 267.80,558.75 268.80,558.75 269.80,558.76 270.80,558.77 271.80,558.78 272.80,558.78 273.80,558.79 274.80,558.80 275.80,558.80 276.80,558.81 277.80,558.82 278.80,558.82 279.80,558.83 280.80,558.83 281.80,558.84 282.80,558.84" fill="none" stroke="rgb(254,206,125)" stroke-width="1.2"/>
<polyline points="67.80,397.50 68.80,402.01 69.80,406.38 70.80,410.63 71.80,414.76 72.80,418.77 73.80,422.66 74.80,426.43 75.80,430.10 76.80,433.66 77.80,437.12 78.80,440.48 79.80,443.74 80.80,446.91 81.80,449.98 82.80,452.97 83.80,455.87 84.80,458.68 85.80,461.42 86.80,464.07 87.80,466.65 88.80,469.15 89.80,471.58 90.80,473.94 91.80,476.23 92.80,478.46 93.80,480.62 94.80,482.72 95.80,484.75 96.80,486.73 97.80,488.65 98.80,490.52 99.80,492.33 100.80,494.09 101.80,495.79 102.80,497.45 103.80,499.06 104.80,500.63 105.80,502.14 106.80,503.62 107.80,505.05 108.80,506.44 109.80,507.79 110.80,509.10 111.80,510.37 112.80,511.61 113.80,512.81 114.80,513.97 115.80,515.10 116.80,516.20 117.80,517.27 118.80,518.30 119.80,519.31 120.80,520.29 121.80,521.23 122.80,522.15 123.80,523.05 124.80,523.92 125.80,524.76 126.80,525.58 127.80,526.37 128.80,527.14 129.80,527.89 130.80,528.62 131.80,529.33 132.80,530.01 133.80,530.68 134.80,531.33 135.80,531.96 136.80,532.57 137.80,533.16 138.80,533.73 139.80,534.29 140.80,534.83 141.80,535.36 142.80,535.87 143.80,536.37 144.80,536.85 145.80,537.32 146.80,537.77 147.80,538.21 148.80,538.64 149.80,539.06 150.80,539.46 151.80,539.85 152.80,540.24 153.80,540.61 154.80,540.96 155.80,541.31 156.80,541.65 157.80,541.98 158.80,542.30 159.80,542.61 160.80,542.91 161.80,543.20 162.80,543.49 163.80,543.76 164.80,544.03 165.80,544.29 166.80,544.54 167.80,544.79 168.80,545.03 169.80,545.26 170.80,545.48 171.80,545.70 172.80,545.91 173.80,546.12 174.80,546.32 175.80,546.51 176.80,546.70 177.80,546.88 178.80,547.06 179.80,547.23 180.80,547.40 181.80,547.56 182.80,547.72 183.80,547.87 184.80,548.02 185.80,548.16 186.80,548.30 187.80,548.44 188.80,548.57 189.80,548.70 190.80,548.83 191.80,548.95 192.80,549.06 193.80,549.18 194.80,549.29 195.80,549.40 196.80,549.50 197.80,549.60 198.80,549.70 199.80,549.80 200.80,549.89 201.80,549.98 202.80,550.07 203.80,550.15 204.80,550.23 205.80,550.31 206.80,550.39 207.80,550.47 208.80,550.54 209.80,550.61 210.80,550.68 211.80,550.75 212.80,550.81 213.80,550.88 214.80,550.94 215.80,551.00 216.80,551.06 217.80,551.11 218.80,551.17 219.80,551.22 220.80,551.27 221.80,551.32 222.80,551.37 223.80,551.42 224.80,551.46 225.80,551.51 226.80,551.55 227.80,551.59 228.80,551.63 229.80,551.67 230.80,551.71 231.80,551.75 232.80,551.79 233.80,551.82 234.80,551.86 235.80,551.89 236.80,551.92 237.80,551.95 238.80,551.98 239.80,552.01 240.80,552.04 241.80,552.07 242.80,552.10 243.80,552.12 244.80,552.15 245.80,552.17 246.80,552.20 247.80,552.22 248.80,552.24 249.80,552.26 250.80,552.29 251.80,552.31 252.80,552.33 253.80,552.35 254.80,552.36 255.80,552.38 256.80,552.40 257.80,552.42 258.80,552.44 259.80,552.45 260.80,552.47 261.80,552.48 262.80,552.50 263.80,552.51 264.80,552.53 265.80,552.54 266.80,552.55 267.80,552.57 268.80,552.58 269.80,552.59 270.80,552.60 271.80,552.61 272.80,552.63 273.80,552.64 274.80,552.65 275.80,552.66 276.80,552.67 277.80,552.68 278.80,552.69 279.80,552.70 280.80,552.70 281.80,552.71 282.80,552.72" fill="none" stroke="rgb(196,228,175)" stroke-width="1.2"/>
<polyline points="67.80,397.50 68.80,401.16 69.80,404.72 70.80,408.18 71.80,411.54 72.80,414.81 73.80,417.98 74.80,421.07 75.80,424.06 76.80,426.98 77.80,429.81 78.80,432.56 79.80,435.23 80.80,437.83 81.80,440.36 82.80,442.81 83.80,445.20 84.80,447.52 85.80,449.77 86.80,451.96 87.80,454.09 88.80,456.15 89.80,458.16 90.80,460.12 91.80,462.02 92.80,463.86 93.80,465.65 94.80,467.39 95.80,469.09 96.80,470.73 97.80,472.33 98.80,473.89 99.80,475.40 100.80,476.86 101.80,478.29 102.80,479.68 103.80,481.02 104.80,482.33 105.80,483.60 106.80,484.84 107.80,486.04 108.80,487.21 109.80,488.34 110.80,489.45 111.80,490.52 112.80,491.56 113.80,492.57 114.80,493.56 115.80,494.51 116.80,495.44 117.80,496.35 118.80,497.22 119.80,498.08 120.80,498.90 121.80,499.71 122.80,500.49 123.80,501.25 124.80,501.99 125.80,502.71 126.80,503.41 127.80,504.09 128.80,504.75 129.80,505.39 130.80,506.01 131.80,506.62 132.80,507.20 133.80,507.78 134.80,508.33 135.80,508.87 136.80,509.40 137.80,509.91 138.80,510.40 139.80,510.88 140.80,511.35 141.80,511.81 142.80,512.25 143.80,512.68 144.80,513.10 145.80,513.50 146.80,513.90 147.80,514.28 148.80,514.65 149.80,515.01 150.80,515.36 151.80,515.71 152.80,516.04 153.80,516.36 154.80,516.68 155.80,516.98 156.80,517.28 157.80,517.56 158.80,517.84 159.80,518.12 160.80,518.38 161.80,518.64 162.80,518.89 163.80,519.13 164.80,519.37 165.80,519.59 166.80,519.82 167.80,520.03 168.80,520.24 169.80,520.45 170.80,520.65 171.80,520.84 172.80,521.03 173.80,521.21 174.80,521.39 175.80,521.56 176.80,521.73 177.80,521.89 178.80,522.05 179.80,522.20 180.80,522.35 181.80,522.50 182.80,522.64 183.80,522.77 184.80,522.91 185.80,523.04 186.80,523.16 187.80,523.28 188.80,523.40 189.80,523.52 190.80,523.63 191.80,523.74 192.80,523.84 193.80,523.95 194.80,524.05 195.80,524.15 196.80,524.24 197.80,524.33 198.80,524.42 199.80,524.51 200.80,524.59 201.80,524.67 202.80,524.75 203.80,524.83 204.80,524.91 205.80,524.98 206.80,525.05 207.80,525.12 208.80,525.19 209.80,525.25 210.80,525.31 211.80,525.38 212.80,525.44 213.80,525.49 214.80,525.55 215.80,525.61 216.80,525.66 217.80,525.71 218.80,525.76 219.80,525.81 220.80,525.86 221.80,525.90 222.80,525.95 223.80,525.99 224.80,526.04 225.80,526.08 226.80,526.12 227.80,526.16 228.80,526.19 229.80,526.23 230.80,526.27 231.80,526.30 232.80,526.33 233.80,526.37 234.80,526.40 235.80,526.43 236.80,526.46 237.80,526.49 238.80,526.52 239.80,526.55 240.80,526.57 241.80,526.60 242.80,526.62 243.80,526.65 244.80,526.67 245.80,526.70 246.80,526.72 247.80,526.74 248.80,526.76 249.80,526.78 250.80,526.80 251.80,526.82 252.80,526.84 253.80,526.86 254.80,526.88 255.80,526.90 256.80,526.91 257.80,526.93 258.80,526.95 259.80,526.96 260.80,526.98 261.80,526.99 262.80,527.01 263.80,527.02 264.80,527.03 265.80,527.05 266.80,527.06 267.80,527.07 268.80,527.08 269.80,527.10 270.80,527.11 271.80,527.12 272.80,527.13 273.80,527.14 274.80,527.15 275.80,527.16 276.80,527.17 277.80,527.18 278.80,527.19 279.80,527.20 280.80,527.20 281.80,527.21 282.80,527.22" fill="none" stroke="rgb(118,196,176)" stroke-width="1.2"/>
<polyline points="67.80,397.50 68.80,399.70 69.80,401.85 70.80,403.94 71.80,405.98 72.80,407.97 73.80,409.91 74.80,411.79 75.80,413.63 76.80,415.43 77.80,417.18 78.80,418.88 79.80,420.54 80.80,422.16 81.80,423.74 82.80,425.28 83.80,426.78 84.80,428.24 85.80,429.66 86.80,431.05 87.80,432.40 88.80,433.72 89.80,435.01 90.80,436.26 91.80,437.48 92.80,438.67 93.80,439.83 94.80,440.96 95.80,442.07 96.80,443.14 97.80,444.19 98.80,445.21 99.80,446.20 100.80,447.17 101.80,448.12 102.80,449.04 103.80,449.94 104.80,450.81 105.80,451.66 106.80,452.49 107.80,453.30 108.80,454.09 109.80,454.86 110.80,455.61 111.80,456.35 112.80,457.06 113.80,457.75 114.80,458.43 115.80,459.09 116.80,459.73 117.80,460.36 118.80,460.97 119.80,461.57 120.80,462.15 121.80,462.71 122.80,463.26 123.80,463.80 124.80,464.33 125.80,464.84 126.80,465.33 127.80,465.82 128.80,466.29 129.80,466.75 130.80,467.20 131.80,467.64 132.80,468.07 133.80,468.48 134.80,468.89 135.80,469.28 136.80,469.67 137.80,470.05 138.80,470.41 139.80,470.77 140.80,471.12 141.80,471.45 142.80,471.78 143.80,472.11 144.80,472.42 145.80,472.73 146.80,473.02 147.80,473.31 148.80,473.60 149.80,473.87 150.80,474.14 151.80,474.40 152.80,474.66 153.80,474.91 154.80,475.15 155.80,475.39 156.80,475.62 157.80,475.84 158.80,476.06 159.80,476.28 160.80,476.49 161.80,476.69 162.80,476.89 163.80,477.08 164.80,477.27 165.80,477.45 166.80,477.63 167.80,477.80 168.80,477.97 169.80,478.14 170.80,478.30 171.80,478.45 172.80,478.61 173.80,478.76 174.80,478.90 175.80,479.04 176.80,479.18 177.80,479.32 178.80,479.45 179.80,479.58 180.80,479.70 181.80,479.82 182.80,479.94 183.80,480.06 184.80,480.17 185.80,480.28 186.80,480.39 187.80,480.49 188.80,480.59 189.80,480.69 190.80,480.79 191.80,480.88 192.80,480.97 193.80,481.06 194.80,481.15 195.80,481.23 196.80,481.32 197.80,481.40 198.80,481.47 199.80,481.55 200.80,481.63 201.80,481.70 202.80,481.77 203.80,481.84 204.80,481.91 205.80,481.97 206.80,482.04 207.80,482.10 208.80,482.16 209.80,482.22 210.80,482.28 211.80,482.33 212.80,482.39 213.80,482.44 214.80,482.49 215.80,482.54 216.80,482.59 217.80,482.64 218.80,482.69 219.80,482.73 220.80,482.78 221.80,482.82 222.80,482.87 223.80,482.91 224.80,482.95 225.80,482.99 226.80,483.02 227.80,483.06 228.80,483.10 229.80,483.13 230.80,483.17 231.80,483.20 232.80,483.23 233.80,483.27 234.80,483.30 235.80,483.33 236.80,483.36 237.80,483.39 238.80,483.42 239.80,483.44 240.80,483.47 241.80,483.50 242.80,483.52 243.80,483.55 244.80,483.57 245.80,483.59 246.80,483.62 247.80,483.64 248.80,483.66 249.80,483.68 250.80,483.70 251.80,483.72 252.80,483.74 253.80,483.76 254.80,483.78 255.80,483.80 256.80,483.82 257.80,483.83 258.80,483.85 259.80,483.87 260.80,483.88 261.80,483.90 262.80,483.91 263.80,483.93 264.80,483.94 265.80,483.96 266.80,483.97 267.80,483.98 268.80,484.00 269.80,484.01 270.80,484.02 271.80,484.03 272.80,484.05 273.80,484.06 274.80,484.07 275.80,484.08 276.80,484.09 277.80,484.10 278.80,484.11 279.80,484.12 280.80,484.13 281.80,484.14 282.80,484.15" fill="none" stroke="rgb(40,148,198)" stroke-width="1.2"/>
<polyline points="67.80,397.50 68.80,399.77 69.80,401.97 70.80,404.10 71.80,406.16 72.80,408.15 73.80,410.08 74.80,411.95 75.80,413.76 76.80,415.52 77.80,417.21 78.80,418.86 79.80,420.45 80.80,421.99 81.80,423.48 82.80,424.93 83.80,426.33 84.80,427.68 85.80,428.99 86.80,430.26 87.80,431.49 88.80,432.68 89.80,433.84 90.80,434.95 91.80,436.03 92.80,437.08 93.80,438.09 94.80,439.07 95.80,440.02 96.80,440.94 97.80,441.83 98.80,442.70 99.80,443.53 100.80,444.34 101.80,445.12 102.80,445.88 103.80,446.61 104.80,447.33 105.80,448.01 106.80,448.68 107.80,449.32 108.80,449.95 109.80,450.55 110.80,451.14 111.80,451.71 112.80,452.26 113.80,452.79 114.80,453.30 115.80,453.80 116.80,454.28 117.80,454.75 118.80,455.20 119.80,455.64 120.80,456.06 121.80,456.47 122.80,456.87 123.80,457.26 124.80,457.63 125.80,457.99 126.80,458.34 127.80,458.68 128.80,459.01 129.80,459.32 130.80,459.63 131.80,459.93 132.80,460.22 133.80,460.49 134.80,460.76 135.80,461.03 136.80,461.28 137.80,461.52 138.80,461.76 139.80,461.99 140.80,462.21 141.80,462.43 142.80,462.64 143.80,462.84 144.80,463.04 145.80,463.22 146.80,463.41 147.80,463.59 148.80,463.76 149.80,463.92 150.80,464.09 151.80,464.24 152.80,464.39 153.80,464.54 154.80,464.68 155.80,464.82 156.80,464.95 157.80,465.08 158.80,465.20 159.80,465.32 160.80,465.44 161.80,465.55 162.80,465.66 163.80,465.77 164.80,465.87 165.80,465.97 166.80,466.07 167.80,466.16 168.80,466.25 169.80,466.34 170.80,466.42 171.80,466.50 172.80,466.58 173.80,466.66 174.80,466.73 175.80,466.81 176.80,466.88 177.80,466.94 178.80,467.01 179.80,467.07 180.80,467.13 181.80,467.19 182.80,467.25 183.80,467.30 184.80,467.36 185.80,467.41 186.80,467.46 187.80,467.51 188.80,467.56 189.80,467.60 190.80,467.65 191.80,467.69 192.80,467.73 193.80,467.77 194.80,467.81 195.80,467.85 196.80,467.89 197.80,467.92 198.80,467.96 199.80,467.99 200.80,468.02 201.80,468.05 202.80,468.08 203.80,468.11 204.80,468.14 205.80,468.17 206.80,468.19 207.80,468.22 208.80,468.24 209.80,468.27 210.80,468.29 211.80,468.31 212.80,468.33 213.80,468.36 214.80,468.38 215.80,468.40 216.80,468.42 217.80,468.43 218.80,468.45 219.80,468.47 220.80,468.49 221.80,468.50 222.80,468.52 223.80,468.53 224.80,468.55 225.80,468.56 226.80,468.58 227.80,468.59 228.80,468.60 229.80,468.62 230.80,468.63 231.80,468.64 232.80,468.65 233.80,468.66 234.80,468.67 235.80,468.68 236.80,468.69 237.80,468.70 238.80,468.71 239.80,468.72 240.80,468.73 241.80,468.74 242.80,468.75 243.80,468.76 244.80,468.76 245.80,468.77 246.80,468.78 247.80,468.78 248.80,468.79 249.80,468.80 250.80,468.80 251.80,468.81 252.80,468.82 253.80,468.82 254.80,468.83 255.80,468.83 256.80,468.84 257.80,468.84 258.80,468.85 259.80,468.85 260.80,468.86 261.80,468.86 262.80,468.87 263.80,468.87 264.80,468.88 265.80,468.88 266.80,468.88 267.80,468.89 268.80,468.89 269.80,468.89 270.80,468.90 271.80,468.90 272.80,468.90 273.80,468.91 274.80,468.91 275.80,468.91 276.80,468.92 277.80,468.92 278.80,468.92 279.80,468.92 280.80,468.93 281.80,468.93 282.80,468.93" fill="none" stroke="rgb(48,52,150)" stroke-width="1.2"/>
<rect x="41.20" y="356.30" width="268.10" height="261.00" fill="none" stroke="#111" stroke-width="1.5" />
<line x1="35.20" y1="617.30" x2="41.20" y2="617.30" stroke="#111" stroke-width="1.2" />
<line x1="309.30" y1="617.30" x2="303.30" y2="617.30" stroke="#111" stroke-width="1.2" />
<line x1="35.20" y1="573.40" x2="41.20" y2="573.40" stroke="#111" stroke-width="1.2" />
<line x1="309.30" y1="573.40" x2="303.30" y2="573.40" stroke="#111" stroke-width="1.2" />
<line x1="35.20" y1="529.50" x2="41.20" y2="529.50" stroke="#111" stroke-width="1.2" />
<line x1="309.30" y1="529.50" x2="303.30" y2="529.50" stroke="#111" stroke-width="1.2" />
<line x1="35.20" y1="485.60" x2="41.20" y2="485.60" stroke="#111" stroke-width="1.2" />
<line x1="309.30" y1="485.60" x2="303.30" y2="485.60" stroke="#111" stroke-width="1.2" />
<line x1="35.20" y1="441.70" x2="41.20" y2="441.70" stroke="#111" stroke-width="1.2" />
<line x1="309.30" y1="441.70" x2="303.30" y2="441.70" stroke="#111" stroke-width="1.2" />
<line x1="35.20" y1="397.80" x2="41.20" y2="397.80" stroke="#111" stroke-width="1.2" />
<line x1="309.30" y1="397.80" x2="303.30" y2="397.80" stroke="#111" stroke-width="1.2" />
<line x1="38.00" y1="595.35" x2="41.20" y2="595.35" stroke="#111" stroke-width="1.2" />
<line x1="309.30" y1="595.35" x2="306.10" y2="595.35" stroke="#111" stroke-width="1.2" />
<line x1="38.00" y1="551.45" x2="41.20" y2="551.45" stroke="#111" stroke-width="1.2" />
<line x1="309.30" y1="551.45" x2="306.10" y2="551.45" stroke="#111" stroke-width="1.2" />
<line x1="38.00" y1="507.55" x2="41.20" y2="507.55" stroke="#111" stroke-width="1.2" />
<line x1="309.30" y1="507.55" x2="306.10" y2="507.55" stroke="#111" stroke-width="1.2" />
<line x1="38.00" y1="463.65" x2="41.20" y2="463.65" stroke="#111" stroke-width="1.2" />
<line x1="309.30" y1="463.65" x2="306.10" y2="463.65" stroke="#111" stroke-width="1.2" />
<line x1="38.00" y1="419.75" x2="41.20" y2="419.75" stroke="#111" stroke-width="1.2" />
<line x1="309.30" y1="419.75" x2="306.10" y2="419.75" stroke="#111" stroke-width="1.2" />
<line x1="38.00" y1="375.85" x2="41.20" y2="375.85" stroke="#111" stroke-width="1.2" />
<line x1="309.30" y1="375.85" x2="306.10" y2="375.85" stroke="#111" stroke-width="1.2" />
<text x="33.50" y="621.80" font-size="11.9" text-anchor="end" fill="#1a1a1a" textLength="15.38" lengthAdjust="spacingAndGlyphs" >0.0</text>
<text x="33.50" y="577.90" font-size="11.9" text-anchor="end" fill="#1a1a1a" textLength="15.38" lengthAdjust="spacingAndGlyphs" >0.2</text>
<text x="33.50" y="534.00" font-size="11.9" text-anchor="end" fill="#1a1a1a" textLength="15.38" lengthAdjust="spacingAndGlyphs" >0.4</text>
<text x="33.50" y="490.10" font-size="11.9" text-anchor="end" fill="#1a1a1a" textLength="15.38" lengthAdjust="spacingAndGlyphs" >0.6</text>
<text x="33.50" y="446.20" font-size="11.9" text-anchor="end" fill="#1a1a1a" textLength="15.38" lengthAdjust="spacingAndGlyphs" >0.8</text>
<text x="33.50" y="402.30" font-size="11.9" text-anchor="end" fill="#1a1a1a" textLength="15.38" lengthAdjust="spacingAndGlyphs" >1.0</text>
<line x1="67.80" y1="617.30" x2="67.80" y2="623.30" stroke="#111" stroke-width="1.2" />
<line x1="67.80" y1="356.30" x2="67.80" y2="362.30" stroke="#111" stroke-width="1.2" />
<line x1="134.95" y1="617.30" x2="134.95" y2="623.30" stroke="#111" stroke-width="1.2" />
<line x1="134.95" y1="356.30" x2="134.95" y2="362.30" stroke="#111" stroke-width="1.2" />
<line x1="202.10" y1="617.30" x2="202.10" y2="623.30" stroke="#111" stroke-width="1.2" />
<line x1="202.10" y1="356.30" x2="202.10" y2="362.30" stroke="#111" stroke-width="1.2" />
<line x1="269.25" y1="617.30" x2="269.25" y2="623.30" stroke="#111" stroke-width="1.2" />
<line x1="269.25" y1="356.30" x2="269.25" y2="362.30" stroke="#111" stroke-width="1.2" />
<line x1="101.38" y1="617.30" x2="101.38" y2="620.80" stroke="#111" stroke-width="1.2" />
<line x1="101.38" y1="356.30" x2="101.38" y2="359.80" stroke="#111" stroke-width="1.2" />
<line x1="168.52" y1="617.30" x2="168.52" y2="620.80" stroke="#111" stroke-width="1.2" />
<line x1="168.52" y1="356.30" x2="168.52" y2="359.80" stroke="#111" stroke-width="1.2" />
<line x1="235.68" y1="617.30" x2="235.68" y2="620.80" stroke="#111" stroke-width="1.2" />
<line x1="235.68" y1="356.30" x2="235.68" y2="359.80" stroke="#111" stroke-width="1.2" />
<line x1="302.82" y1="617.30" x2="302.82" y2="620.80" stroke="#111" stroke-width="1.2" />
<line x1="302.82" y1="356.30" x2="302.82" y2="359.80" stroke="#111" stroke-width="1.2" />
<text x="67.80" y="635.20" font-size="11.9" text-anchor="middle" fill="#1a1a1a" textLength="6.15" lengthAdjust="spacingAndGlyphs" >0</text>
<text x="134.95" y="635.20" font-size="11.9" text-anchor="middle" fill="#1a1a1a" textLength="24.62" lengthAdjust="spacingAndGlyphs" >5000</text>
<text x="202.10" y="635.20" font-size="11.9" text-anchor="middle" fill="#1a1a1a" textLength="30.77" lengthAdjust="spacingAndGlyphs" >10000</text>
<text x="269.25" y="635.20" font-size="11.9" text-anchor="middle" fill="#1a1a1a" textLength="30.77" lengthAdjust="spacingAndGlyphs" >15000</text>
<text x="176.00" y="656.80" font-size="13.8" text-anchor="middle" fill="#1a1a1a" >Delay (ps)</text>
<text x="0" y="0" font-size="13.7" text-anchor="middle" fill="#1a1a1a" textLength="98" lengthAdjust="spacingAndGlyphs" transform="translate(11.6,487) rotate(-90)">Visibility (norm.)</text>
<rect x="247.30" y="337.00" width="91.80" height="126.40" fill="white" stroke="rgb(165,165,165)" stroke-width="1.3" />
<line x1="258.30" y1="351.20" x2="289.00" y2="351.20" stroke="rgb(244,170,175)" stroke-width="1.0" />
<text x="293.20" y="356.00" font-size="13.4" text-anchor="start" fill="#1a1a1a" >0 dB</text>
<line x1="258.30" y1="368.10" x2="289.00" y2="368.10" stroke="rgb(250,200,170)" stroke-width="1.0" />
<text x="293.20" y="372.90" font-size="13.4" text-anchor="start" fill="#1a1a1a" >3 dB</text>
<line x1="258.30" y1="384.80" x2="289.00" y2="384.80" stroke="rgb(254,232,195)" stroke-width="1.0" />
<text x="293.20" y="389.60" font-size="13.4" text-anchor="start" fill="#1a1a1a" >6 dB</text>
<line x1="258.30" y1="401.60" x2="289.00" y2="401.60" stroke="rgb(226,242,218)" stroke-width="1.0" />
<text x="293.20" y="406.40" font-size="13.4" text-anchor="start" fill="#1a1a1a" >9 dB</text>
<line x1="258.30" y1="418.50" x2="289.00" y2="418.50" stroke="rgb(185,228,214)" stroke-width="1.0" />
<text x="293.20" y="423.30" font-size="13.4" text-anchor="start" fill="#1a1a1a" >14 dB</text>
<line x1="258.30" y1="435.40" x2="289.00" y2="435.40" stroke="rgb(130,190,222)" stroke-width="1.0" />
<text x="293.20" y="440.20" font-size="13.4" text-anchor="start" fill="#1a1a1a" >17 dB</text>
<line x1="258.30" y1="452.40" x2="289.00" y2="452.40" stroke="rgb(110,112,185)" stroke-width="1.0" />
<text x="293.20" y="457.20" font-size="13.4" text-anchor="start" fill="#1a1a1a" >20 dB</text>
<text x="344.40" y="354.60" font-size="22.4" text-anchor="start" fill="#000" textLength="27.3" lengthAdjust="spacingAndGlyphs" >(d)</text>
<rect x="387.60" y="411.90" width="275.90" height="45.10" fill="rgb(192,192,192)" stroke="none" stroke-width="1" />
<line x1="387.60" y1="434.80" x2="663.50" y2="434.80" stroke="rgb(112,112,112)" stroke-width="1.5" stroke-dasharray="5.2,3.8"/>
<line x1="410.20" y1="494.50" x2="410.20" y2="506.10" stroke="rgb(244,120,120)" stroke-width="1.1" />
<line x1="407.30" y1="494.50" x2="413.10" y2="494.50" stroke="rgb(244,120,120)" stroke-width="1.1" />
<line x1="407.30" y1="506.10" x2="413.10" y2="506.10" stroke="rgb(244,120,120)" stroke-width="1.1" />
<line x1="444.67" y1="408.20" x2="444.67" y2="434.10" stroke="rgb(244,120,120)" stroke-width="1.1" />
<line x1="441.77" y1="408.20" x2="447.57" y2="408.20" stroke="rgb(244,120,120)" stroke-width="1.1" />
<line x1="441.77" y1="434.10" x2="447.57" y2="434.10" stroke="rgb(244,120,120)" stroke-width="1.1" />
<line x1="479.14" y1="420.30" x2="479.14" y2="438.40" stroke="rgb(244,120,120)" stroke-width="1.1" />
<line x1="476.24" y1="420.30" x2="482.04" y2="420.30" stroke="rgb(244,120,120)" stroke-width="1.1" />
<line x1="476.24" y1="438.40" x2="482.04" y2="438.40" stroke="rgb(244,120,120)" stroke-width="1.1" />
<line x1="513.61" y1="381.40" x2="513.61" y2="406.30" stroke="rgb(244,120,120)" stroke-width="1.1" />
<line x1="510.71" y1="381.40" x2="516.51" y2="381.40" stroke="rgb(244,120,120)" stroke-width="1.1" />
<line x1="510.71" y1="406.30" x2="516.51" y2="406.30" stroke="rgb(244,120,120)" stroke-width="1.1" />
<line x1="571.06" y1="383.30" x2="571.06" y2="439.10" stroke="rgb(244,120,120)" stroke-width="1.1" />
<line x1="568.16" y1="383.30" x2="573.96" y2="383.30" stroke="rgb(244,120,120)" stroke-width="1.1" />
<line x1="568.16" y1="439.10" x2="573.96" y2="439.10" stroke="rgb(244,120,120)" stroke-width="1.1" />
<line x1="605.53" y1="366.60" x2="605.53" y2="449.10" stroke="rgb(244,120,120)" stroke-width="1.1" />
<line x1="602.63" y1="366.60" x2="608.43" y2="366.60" stroke="rgb(244,120,120)" stroke-width="1.1" />
<line x1="602.63" y1="449.10" x2="608.43" y2="449.10" stroke="rgb(244,120,120)" stroke-width="1.1" />
<line x1="640.00" y1="382.60" x2="640.00" y2="488.00" stroke="rgb(244,120,120)" stroke-width="1.1" />
<line x1="637.10" y1="382.60" x2="642.90" y2="382.60" stroke="rgb(244,120,120)" stroke-width="1.1" />
<line x1="637.10" y1="488.00" x2="642.90" y2="488.00" stroke="rgb(244,120,120)" stroke-width="1.1" />
<circle cx="410.20" cy="500.10" r="3.3" fill="rgb(242,64,72)"/>
<circle cx="444.67" cy="421.50" r="3.3" fill="rgb(242,64,72)"/>
<circle cx="479.14" cy="429.20" r="3.3" fill="rgb(242,64,72)"/>
<circle cx="513.61" cy="393.50" r="3.3" fill="rgb(242,64,72)"/>
<circle cx="571.06" cy="410.90" r="3.3" fill="rgb(242,64,72)"/>
<circle cx="605.53" cy="408.20" r="3.3" fill="rgb(242,64,72)"/>
<circle cx="640.00" cy="435.50" r="3.3" fill="rgb(242,64,72)"/>
<line x1="410.20" y1="514.60" x2="410.20" y2="522.30" stroke="rgb(90,130,190)" stroke-width="1.1" />
<line x1="407.30" y1="514.60" x2="413.10" y2="514.60" stroke="rgb(90,130,190)" stroke-width="1.1" />
<line x1="407.30" y1="522.30" x2="413.10" y2="522.30" stroke="rgb(90,130,190)" stroke-width="1.1" />
<line x1="444.67" y1="533.60" x2="444.67" y2="542.50" stroke="rgb(90,130,190)" stroke-width="1.1" />
<line x1="441.77" y1="533.60" x2="447.57" y2="533.60" stroke="rgb(90,130,190)" stroke-width="1.1" />
<line x1="441.77" y1="542.50" x2="447.57" y2="542.50" stroke="rgb(90,130,190)" stroke-width="1.1" />
<line x1="479.14" y1="532.80" x2="479.14" y2="540.00" stroke="rgb(90,130,190)" stroke-width="1.1" />
<line x1="476.24" y1="532.80" x2="482.04" y2="532.80" stroke="rgb(90,130,190)" stroke-width="1.1" />
<line x1="476.24" y1="540.00" x2="482.04" y2="540.00" stroke="rgb(90,130,190)" stroke-width="1.1" />
<line x1="513.61" y1="527.30" x2="513.61" y2="535.00" stroke="rgb(90,130,190)" stroke-width="1.1" />
<line x1="510.71" y1="527.30" x2="516.51" y2="527.30" stroke="rgb(90,130,190)" stroke-width="1.1" />
<line x1="510.71" y1="535.00" x2="516.51" y2="535.00" stroke="rgb(90,130,190)" stroke-width="1.1" />
<line x1="571.06" y1="494.60" x2="571.06" y2="517.20" stroke="rgb(90,130,190)" stroke-width="1.1" />
<line x1="568.16" y1="494.60" x2="573.96" y2="494.60" stroke="rgb(90,130,190)" stroke-width="1.1" />
<line x1="568.16" y1="517.20" x2="573.96" y2="517.20" stroke="rgb(90,130,190)" stroke-width="1.1" />
<line x1="605.53" y1="507.60" x2="605.53" y2="536.20" stroke="rgb(90,130,190)" stroke-width="1.1" />
<line x1="602.63" y1="507.60" x2="608.43" y2="507.60" stroke="rgb(90,130,190)" stroke-width="1.1" />
<line x1="602.63" y1="536.20" x2="608.43" y2="536.20" stroke="rgb(90,130,190)" stroke-width="1.1" />
<line x1="640.00" y1="492.30" x2="640.00" y2="568.80" stroke="rgb(90,130,190)" stroke-width="1.1" />
<line x1="637.10" y1="492.30" x2="642.90" y2="492.30" stroke="rgb(90,130,190)" stroke-width="1.1" />
<line x1="637.10" y1="568.80" x2="642.90" y2="568.80" stroke="rgb(90,130,190)" stroke-width="1.1" />
<circle cx="410.20" cy="518.20" r="3.3" fill="rgb(30,85,165)"/>
<circle cx="444.67" cy="537.80" r="3.3" fill="rgb(30,85,165)"/>
<circle cx="479.14" cy="536.30" r="3.3" fill="rgb(30,85,165)"/>
<circle cx="513.61" cy="531.00" r="3.3" fill="rgb(30,85,165)"/>
<circle cx="571.06" cy="506.30" r="3.3" fill="rgb(30,85,165)"/>
<circle cx="605.53" cy="521.90" r="3.3" fill="rgb(30,85,165)"/>
<circle cx="640.00" cy="530.20" r="3.3" fill="rgb(30,85,165)"/>
<rect x="387.60" y="356.20" width="275.90" height="260.85" fill="none" stroke="#111" stroke-width="1.5" />
<line x1="381.60" y1="617.05" x2="387.60" y2="617.05" stroke="#111" stroke-width="1.2" />
<line x1="663.50" y1="617.05" x2="657.50" y2="617.05" stroke="#111" stroke-width="1.2" />
<line x1="381.60" y1="542.50" x2="387.60" y2="542.50" stroke="#111" stroke-width="1.2" />
<line x1="663.50" y1="542.50" x2="657.50" y2="542.50" stroke="#111" stroke-width="1.2" />
<line x1="381.60" y1="467.95" x2="387.60" y2="467.95" stroke="#111" stroke-width="1.2" />
<line x1="663.50" y1="467.95" x2="657.50" y2="467.95" stroke="#111" stroke-width="1.2" />
<line x1="381.60" y1="393.40" x2="387.60" y2="393.40" stroke="#111" stroke-width="1.2" />
<line x1="663.50" y1="393.40" x2="657.50" y2="393.40" stroke="#111" stroke-width="1.2" />
<line x1="384.40" y1="579.77" x2="387.60" y2="579.77" stroke="#111" stroke-width="1.2" />
<line x1="663.50" y1="579.77" x2="660.30" y2="579.77" stroke="#111" stroke-width="1.2" />
<line x1="384.40" y1="505.22" x2="387.60" y2="505.22" stroke="#111" stroke-width="1.2" />
<line x1="663.50" y1="505.22" x2="660.30" y2="505.22" stroke="#111" stroke-width="1.2" />
<line x1="384.40" y1="430.67" x2="387.60" y2="430.67" stroke="#111" stroke-width="1.2" />
<line x1="663.50" y1="430.67" x2="660.30" y2="430.67" stroke="#111" stroke-width="1.2" />
<line x1="384.40" y1="356.12" x2="387.60" y2="356.12" stroke="#111" stroke-width="1.2" />
<line x1="663.50" y1="356.12" x2="660.30" y2="356.12" stroke="#111" stroke-width="1.2" />
<text x="378.40" y="621.55" font-size="11.9" text-anchor="end" fill="#1a1a1a" textLength="6.15" lengthAdjust="spacingAndGlyphs" >0</text>
<text x="378.40" y="547.00" font-size="11.9" text-anchor="end" fill="#1a1a1a" textLength="6.15" lengthAdjust="spacingAndGlyphs" >1</text>
<text x="378.40" y="472.45" font-size="11.9" text-anchor="end" fill="#1a1a1a" textLength="6.15" lengthAdjust="spacingAndGlyphs" >2</text>
<text x="378.40" y="397.90" font-size="11.9" text-anchor="end" fill="#1a1a1a" textLength="6.15" lengthAdjust="spacingAndGlyphs" >3</text>
<line x1="410.20" y1="617.05" x2="410.20" y2="623.05" stroke="#111" stroke-width="1.2" />
<line x1="410.20" y1="356.20" x2="410.20" y2="362.20" stroke="#111" stroke-width="1.2" />
<line x1="467.65" y1="617.05" x2="467.65" y2="623.05" stroke="#111" stroke-width="1.2" />
<line x1="467.65" y1="356.20" x2="467.65" y2="362.20" stroke="#111" stroke-width="1.2" />
<line x1="525.10" y1="617.05" x2="525.10" y2="623.05" stroke="#111" stroke-width="1.2" />
<line x1="525.10" y1="356.20" x2="525.10" y2="362.20" stroke="#111" stroke-width="1.2" />
<line x1="582.55" y1="617.05" x2="582.55" y2="623.05" stroke="#111" stroke-width="1.2" />
<line x1="582.55" y1="356.20" x2="582.55" y2="362.20" stroke="#111" stroke-width="1.2" />
<line x1="640.00" y1="617.05" x2="640.00" y2="623.05" stroke="#111" stroke-width="1.2" />
<line x1="640.00" y1="356.20" x2="640.00" y2="362.20" stroke="#111" stroke-width="1.2" />
<line x1="438.93" y1="617.05" x2="438.93" y2="620.55" stroke="#111" stroke-width="1.2" />
<line x1="438.93" y1="356.20" x2="438.93" y2="359.70" stroke="#111" stroke-width="1.2" />
<line x1="496.38" y1="617.05" x2="496.38" y2="620.55" stroke="#111" stroke-width="1.2" />
<line x1="496.38" y1="356.20" x2="496.38" y2="359.70" stroke="#111" stroke-width="1.2" />
<line x1="553.83" y1="617.05" x2="553.83" y2="620.55" stroke="#111" stroke-width="1.2" />
<line x1="553.83" y1="356.20" x2="553.83" y2="359.70" stroke="#111" stroke-width="1.2" />
<line x1="611.27" y1="617.05" x2="611.27" y2="620.55" stroke="#111" stroke-width="1.2" />
<line x1="611.27" y1="356.20" x2="611.27" y2="359.70" stroke="#111" stroke-width="1.2" />
<text x="410.20" y="635.70" font-size="11.9" text-anchor="middle" fill="#1a1a1a" textLength="6.15" lengthAdjust="spacingAndGlyphs" >0</text>
<text x="467.65" y="635.70" font-size="11.9" text-anchor="middle" fill="#1a1a1a" textLength="6.15" lengthAdjust="spacingAndGlyphs" >5</text>
<text x="525.10" y="635.70" font-size="11.9" text-anchor="middle" fill="#1a1a1a" textLength="12.31" lengthAdjust="spacingAndGlyphs" >10</text>
<text x="582.55" y="635.70" font-size="11.9" text-anchor="middle" fill="#1a1a1a" textLength="12.31" lengthAdjust="spacingAndGlyphs" >15</text>
<text x="640.00" y="635.70" font-size="11.9" text-anchor="middle" fill="#1a1a1a" textLength="12.31" lengthAdjust="spacingAndGlyphs" >20</text>
<text x="525.60" y="657.50" font-size="13.8" text-anchor="middle" fill="#1a1a1a" textLength="100.7" lengthAdjust="spacingAndGlyphs" >Attenuation (dB)</text>
<text x="0" y="0" font-size="13.7" text-anchor="middle" fill="#1a1a1a" textLength="97.5" lengthAdjust="spacingAndGlyphs" transform="translate(358.3,486.3) rotate(-90)">Decay time (ns)</text>
<rect x="392.50" y="556.30" width="164.10" height="57.50" fill="white" stroke="rgb(150,150,150)" stroke-width="1.3" />
<circle cx="409.20" cy="567.90" r="3.2" fill="rgb(242,64,72)"/>
<circle cx="409.20" cy="587.00" r="3.2" fill="rgb(30,85,165)"/>
<line x1="394.20" y1="606.70" x2="421.80" y2="606.70" stroke="rgb(112,112,112)" stroke-width="1.5" stroke-dasharray="5.2,3.8"/>
<text x="428.10" y="571.80" font-size="12.3" text-anchor="start" fill="#1a1a1a" >T</text>
<text x="435.10" y="576.30" font-size="8.3" text-anchor="start" fill="#1a1a1a" >2</text>
<text x="437.10" y="565.20" font-size="8.3" text-anchor="start" fill="#1a1a1a" textLength="11.1" lengthAdjust="spacingAndGlyphs" >inel</text>
<text x="450.90" y="571.80" font-size="12.3" text-anchor="start" fill="#1a1a1a" textLength="51.6" lengthAdjust="spacingAndGlyphs" >extracted</text>
<text x="428.10" y="591.10" font-size="12.3" text-anchor="start" fill="#1a1a1a" >T</text>
<text x="435.80" y="595.10" font-size="8.3" text-anchor="start" fill="#1a1a1a" >1</text>
<text x="443.40" y="591.10" font-size="12.3" text-anchor="start" fill="#1a1a1a" textLength="56.1" lengthAdjust="spacingAndGlyphs" >calculated</text>
<text x="428.40" y="611.20" font-size="12.3" text-anchor="start" fill="#1a1a1a" textLength="127.4" lengthAdjust="spacingAndGlyphs" >Fourier limit calculated</text>
</svg></body></html>
